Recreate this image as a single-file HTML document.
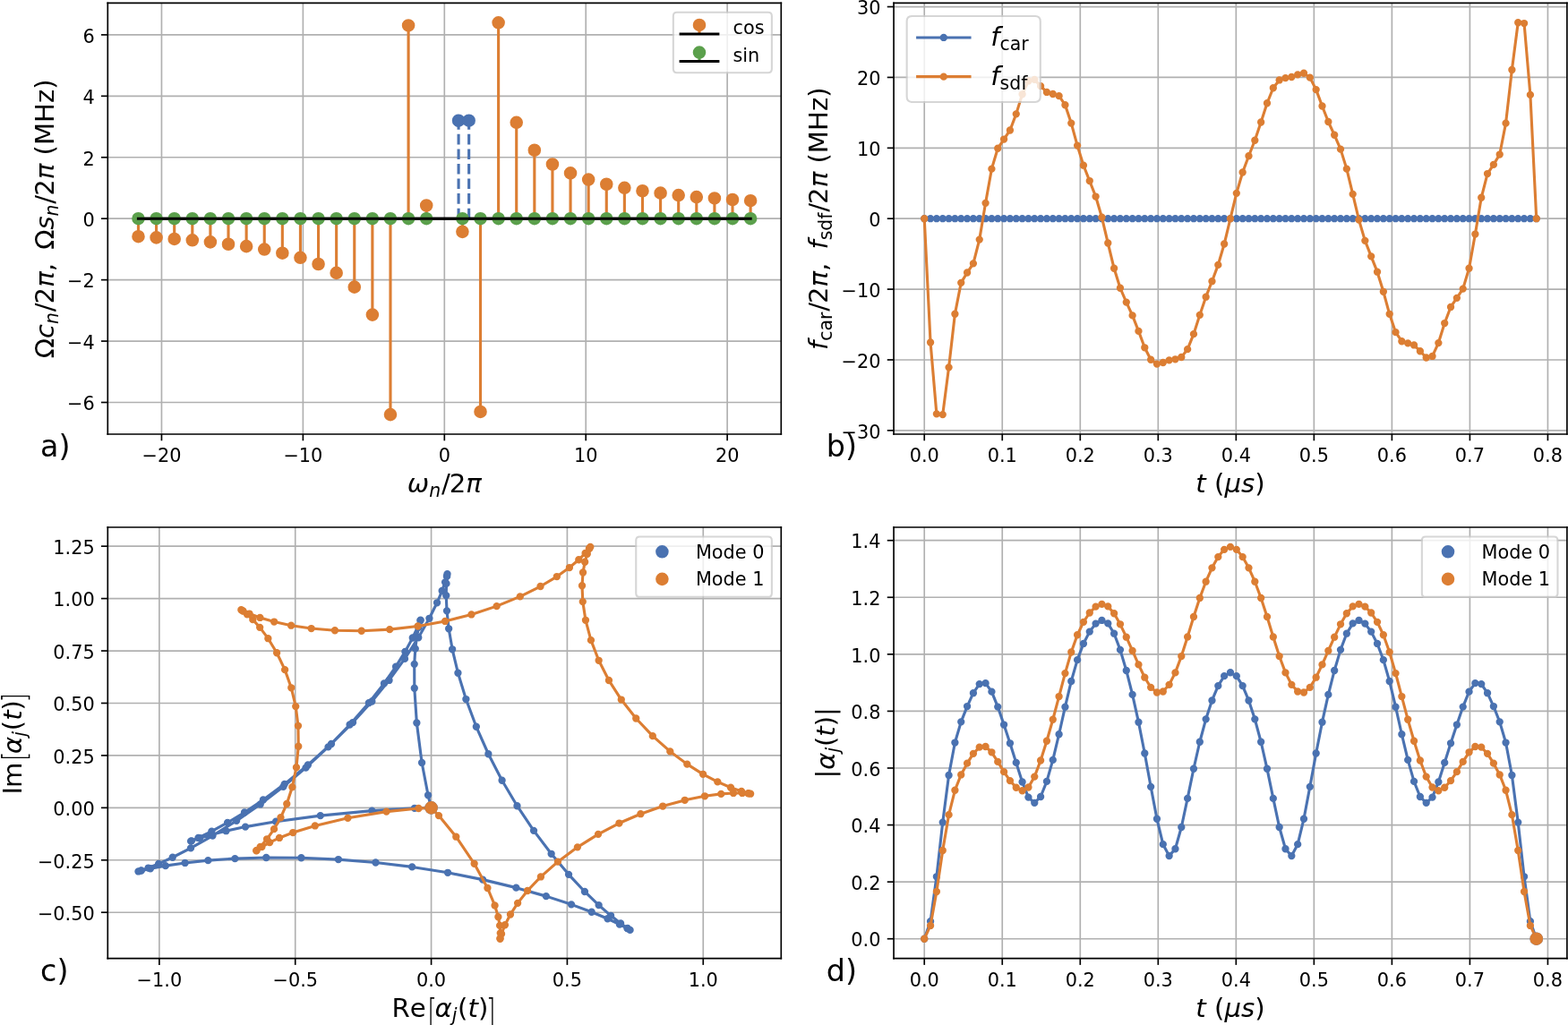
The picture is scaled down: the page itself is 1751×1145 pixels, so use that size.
<!DOCTYPE html>
<html><head><meta charset="utf-8"><title>figure</title>
<style>html,body{margin:0;padding:0;background:#fff;overflow:hidden}svg{display:block}</style>
</head><body>
<svg width="1751" height="1145" viewBox="0 0 840.48 549.6" version="1.1">
 
 <defs>
  <style type="text/css">*{stroke-linejoin: round; stroke-linecap: butt}</style>
 </defs>
 <g id="figure_1">
  <g id="patch_1">
   <path d="M 0 549.6 
L 840.48 549.6 
L 840.48 0 
L 0 0 
z
" style="fill: #ffffff"/>
  </g>
  <g id="axes_1">
   <g id="patch_2">
    <path d="M 57.744 232.8 
L 418.704 232.8 
L 418.704 1.632 
L 57.744 1.632 
z
" style="fill: #ffffff"/>
   </g>
   <g id="matplotlib.axis_1">
    <g id="xtick_1">
     <g id="line2d_1">
      <path d="M 86.621155 232.8 
L 86.621155 1.632 
" clip-path="url(#pc98c73546f)" style="fill: none; stroke: #b0b0b0; stroke-width: 0.8; stroke-linecap: square"/>
     </g>
     <g id="line2d_2">
      <defs>
       <path id="md7fca635d0" d="M 0 0 
L 0 3.5 
" style="stroke: #000000; stroke-width: 0.8"/>
      </defs>
      <g>
       <use href="#md7fca635d0" x="86.621155" y="232.8" style="stroke: #000000; stroke-width: 0.8"/>
      </g>
     </g>
     <g id="text_1" transform="translate(0 0.400)">
      <text style="font-size: 10px; font-family: 'DejaVu Sans', 'Liberation Sans', sans-serif; text-anchor: middle" x="86.621155" y="247.398438" transform="rotate(-0 86.621155 247.398438)">−20</text>
     </g>
    </g>
    <g id="xtick_2">
     <g id="line2d_3">
      <path d="M 162.422577 232.8 
L 162.422577 1.632 
" clip-path="url(#pc98c73546f)" style="fill: none; stroke: #b0b0b0; stroke-width: 0.8; stroke-linecap: square"/>
     </g>
     <g id="line2d_4">
      <g>
       <use href="#md7fca635d0" x="162.422577" y="232.8" style="stroke: #000000; stroke-width: 0.8"/>
      </g>
     </g>
     <g id="text_2" transform="translate(0 0.400)">
      <text style="font-size: 10px; font-family: 'DejaVu Sans', 'Liberation Sans', sans-serif; text-anchor: middle" x="162.422577" y="247.398438" transform="rotate(-0 162.422577 247.398438)">−10</text>
     </g>
    </g>
    <g id="xtick_3">
     <g id="line2d_5">
      <path d="M 238.224 232.8 
L 238.224 1.632 
" clip-path="url(#pc98c73546f)" style="fill: none; stroke: #b0b0b0; stroke-width: 0.8; stroke-linecap: square"/>
     </g>
     <g id="line2d_6">
      <g>
       <use href="#md7fca635d0" x="238.224" y="232.8" style="stroke: #000000; stroke-width: 0.8"/>
      </g>
     </g>
     <g id="text_3" transform="translate(0 0.400)">
      <text style="font-size: 10px; font-family: 'DejaVu Sans', 'Liberation Sans', sans-serif; text-anchor: middle" x="238.224" y="247.398438" transform="rotate(-0 238.224 247.398438)">0</text>
     </g>
    </g>
    <g id="xtick_4">
     <g id="line2d_7">
      <path d="M 314.025423 232.8 
L 314.025423 1.632 
" clip-path="url(#pc98c73546f)" style="fill: none; stroke: #b0b0b0; stroke-width: 0.8; stroke-linecap: square"/>
     </g>
     <g id="line2d_8">
      <g>
       <use href="#md7fca635d0" x="314.025423" y="232.8" style="stroke: #000000; stroke-width: 0.8"/>
      </g>
     </g>
     <g id="text_4" transform="translate(0 0.400)">
      <text style="font-size: 10px; font-family: 'DejaVu Sans', 'Liberation Sans', sans-serif; text-anchor: middle" x="314.025423" y="247.398438" transform="rotate(-0 314.025423 247.398438)">10</text>
     </g>
    </g>
    <g id="xtick_5">
     <g id="line2d_9">
      <path d="M 389.826845 232.8 
L 389.826845 1.632 
" clip-path="url(#pc98c73546f)" style="fill: none; stroke: #b0b0b0; stroke-width: 0.8; stroke-linecap: square"/>
     </g>
     <g id="line2d_10">
      <g>
       <use href="#md7fca635d0" x="389.826845" y="232.8" style="stroke: #000000; stroke-width: 0.8"/>
      </g>
     </g>
     <g id="text_5" transform="translate(0 0.400)">
      <text style="font-size: 10px; font-family: 'DejaVu Sans', 'Liberation Sans', sans-serif; text-anchor: middle" x="389.826845" y="247.398438" transform="rotate(-0 389.826845 247.398438)">20</text>
     </g>
    </g>
    <g id="text_6" transform="translate(0 0.400)">
     <!-- $\omega_n/2\pi$ -->
     <g transform="translate(218.274 264.115938)">
      <text>
       <tspan x="0" y="-0.609375" style="font-style: oblique; font-size: 14px; font-family: 'DejaVu Sans', 'Liberation Sans', sans-serif">ω</tspan>
       <tspan x="31.441602" y="-0.609375" style="font-style: oblique; font-size: 14px; font-family: 'DejaVu Sans', 'Liberation Sans', sans-serif">π</tspan>
       <tspan x="11.723633" y="1.6875" style="font-style: oblique; font-size: 9.8px; font-family: 'DejaVu Sans', 'Liberation Sans', sans-serif">n</tspan>
       <tspan x="18.317578" y="-0.609375" style="font-size: 14px; font-family: 'DejaVu Sans', 'Liberation Sans', sans-serif">/</tspan>
       <tspan x="22.534375" y="-0.609375" style="font-size: 14px; font-family: 'DejaVu Sans', 'Liberation Sans', sans-serif">2</tspan>
      </text>
     </g>
    </g>
   </g>
   <g id="matplotlib.axis_2">
    <g id="ytick_1">
     <g id="line2d_11">
      <path d="M 57.744 215.762816 
L 418.704 215.762816 
" clip-path="url(#pc98c73546f)" style="fill: none; stroke: #b0b0b0; stroke-width: 0.8; stroke-linecap: square"/>
     </g>
     <g id="line2d_12">
      <defs>
       <path id="m0c705e4a82" d="M 0 0 
L -3.5 0 
" style="stroke: #000000; stroke-width: 0.8"/>
      </defs>
      <g>
       <use href="#m0c705e4a82" x="57.744" y="215.762816" style="stroke: #000000; stroke-width: 0.8"/>
      </g>
     </g>
     <g id="text_7" transform="translate(0 0.400)">
      <text style="font-size: 10px; font-family: 'DejaVu Sans', 'Liberation Sans', sans-serif; text-anchor: end" x="50.744" y="219.562035" transform="rotate(-0 50.744 219.562035)">−6</text>
     </g>
    </g>
    <g id="ytick_2">
     <g id="line2d_13">
      <path d="M 57.744 182.913877 
L 418.704 182.913877 
" clip-path="url(#pc98c73546f)" style="fill: none; stroke: #b0b0b0; stroke-width: 0.8; stroke-linecap: square"/>
     </g>
     <g id="line2d_14">
      <g>
       <use href="#m0c705e4a82" x="57.744" y="182.913877" style="stroke: #000000; stroke-width: 0.8"/>
      </g>
     </g>
     <g id="text_8" transform="translate(0 0.400)">
      <text style="font-size: 10px; font-family: 'DejaVu Sans', 'Liberation Sans', sans-serif; text-anchor: end" x="50.744" y="186.713096" transform="rotate(-0 50.744 186.713096)">−4</text>
     </g>
    </g>
    <g id="ytick_3">
     <g id="line2d_15">
      <path d="M 57.744 150.064939 
L 418.704 150.064939 
" clip-path="url(#pc98c73546f)" style="fill: none; stroke: #b0b0b0; stroke-width: 0.8; stroke-linecap: square"/>
     </g>
     <g id="line2d_16">
      <g>
       <use href="#m0c705e4a82" x="57.744" y="150.064939" style="stroke: #000000; stroke-width: 0.8"/>
      </g>
     </g>
     <g id="text_9" transform="translate(0 0.400)">
      <text style="font-size: 10px; font-family: 'DejaVu Sans', 'Liberation Sans', sans-serif; text-anchor: end" x="50.744" y="153.864157" transform="rotate(-0 50.744 153.864157)">−2</text>
     </g>
    </g>
    <g id="ytick_4">
     <g id="line2d_17">
      <path d="M 57.744 117.216 
L 418.704 117.216 
" clip-path="url(#pc98c73546f)" style="fill: none; stroke: #b0b0b0; stroke-width: 0.8; stroke-linecap: square"/>
     </g>
     <g id="line2d_18">
      <g>
       <use href="#m0c705e4a82" x="57.744" y="117.216" style="stroke: #000000; stroke-width: 0.8"/>
      </g>
     </g>
     <g id="text_10" transform="translate(0 0.400)">
      <text style="font-size: 10px; font-family: 'DejaVu Sans', 'Liberation Sans', sans-serif; text-anchor: end" x="50.744" y="121.015219" transform="rotate(-0 50.744 121.015219)">0</text>
     </g>
    </g>
    <g id="ytick_5">
     <g id="line2d_19">
      <path d="M 57.744 84.367061 
L 418.704 84.367061 
" clip-path="url(#pc98c73546f)" style="fill: none; stroke: #b0b0b0; stroke-width: 0.8; stroke-linecap: square"/>
     </g>
     <g id="line2d_20">
      <g>
       <use href="#m0c705e4a82" x="57.744" y="84.367061" style="stroke: #000000; stroke-width: 0.8"/>
      </g>
     </g>
     <g id="text_11" transform="translate(0 0.400)">
      <text style="font-size: 10px; font-family: 'DejaVu Sans', 'Liberation Sans', sans-serif; text-anchor: end" x="50.744" y="88.16628" transform="rotate(-0 50.744 88.16628)">2</text>
     </g>
    </g>
    <g id="ytick_6">
     <g id="line2d_21">
      <path d="M 57.744 51.518123 
L 418.704 51.518123 
" clip-path="url(#pc98c73546f)" style="fill: none; stroke: #b0b0b0; stroke-width: 0.8; stroke-linecap: square"/>
     </g>
     <g id="line2d_22">
      <g>
       <use href="#m0c705e4a82" x="57.744" y="51.518123" style="stroke: #000000; stroke-width: 0.8"/>
      </g>
     </g>
     <g id="text_12" transform="translate(0 0.400)">
      <text style="font-size: 10px; font-family: 'DejaVu Sans', 'Liberation Sans', sans-serif; text-anchor: end" x="50.744" y="55.317342" transform="rotate(-0 50.744 55.317342)">4</text>
     </g>
    </g>
    <g id="ytick_7">
     <g id="line2d_23">
      <path d="M 57.744 18.669184 
L 418.704 18.669184 
" clip-path="url(#pc98c73546f)" style="fill: none; stroke: #b0b0b0; stroke-width: 0.8; stroke-linecap: square"/>
     </g>
     <g id="line2d_24">
      <g>
       <use href="#m0c705e4a82" x="57.744" y="18.669184" style="stroke: #000000; stroke-width: 0.8"/>
      </g>
     </g>
     <g id="text_13" transform="translate(0 0.400)">
      <text style="font-size: 10px; font-family: 'DejaVu Sans', 'Liberation Sans', sans-serif; text-anchor: end" x="50.744" y="22.468403" transform="rotate(-0 50.744 22.468403)">6</text>
     </g>
    </g>
    <g id="text_14">
     <!-- $\Omega c_n/2\pi,\ \Omega s_n/2\pi$ (MHz) -->
     <g transform="translate(29.09025 192.116) rotate(-90)">
      <text>
       <tspan x="0" y="-0.375" style="font-size: 14px; font-family: 'DejaVu Sans', 'Liberation Sans', sans-serif">Ω</tspan>
       <tspan x="24.989453" y="-0.375" style="font-size: 14px; font-family: 'DejaVu Sans', 'Liberation Sans', sans-serif">/</tspan>
       <tspan x="29.20625" y="-0.375" style="font-size: 14px; font-family: 'DejaVu Sans', 'Liberation Sans', sans-serif">2</tspan>
       <tspan x="46.542187" y="-0.375" style="font-size: 14px; font-family: 'DejaVu Sans', 'Liberation Sans', sans-serif">,</tspan>
       <tspan x="58.265775" y="-0.375" style="font-size: 14px; font-family: 'DejaVu Sans', 'Liberation Sans', sans-serif">Ω</tspan>
       <tspan x="82.851908" y="-0.375" style="font-size: 14px; font-family: 'DejaVu Sans', 'Liberation Sans', sans-serif">/</tspan>
       <tspan x="87.068705" y="-0.375" style="font-size: 14px; font-family: 'DejaVu Sans', 'Liberation Sans', sans-serif">2</tspan>
       <tspan x="104.404642" y="-0.375" style="font-size: 14px; font-family: 'DejaVu Sans', 'Liberation Sans', sans-serif"> </tspan>
       <tspan x="108.854837" y="-0.375" style="font-size: 14px; font-family: 'DejaVu Sans', 'Liberation Sans', sans-serif">(</tspan>
       <tspan x="114.316751" y="-0.375" style="font-size: 14px; font-family: 'DejaVu Sans', 'Liberation Sans', sans-serif">M</tspan>
       <tspan x="126.395853" y="-0.375" style="font-size: 14px; font-family: 'DejaVu Sans', 'Liberation Sans', sans-serif">H</tspan>
       <tspan x="136.923197" y="-0.375" style="font-size: 14px; font-family: 'DejaVu Sans', 'Liberation Sans', sans-serif">z</tspan>
       <tspan x="144.27183" y="-0.375" style="font-size: 14px; font-family: 'DejaVu Sans', 'Liberation Sans', sans-serif">)</tspan>
       <tspan x="10.698242" y="-0.375" style="font-style: oblique; font-size: 14px; font-family: 'DejaVu Sans', 'Liberation Sans', sans-serif">c</tspan>
       <tspan x="38.113477" y="-0.375" style="font-style: oblique; font-size: 14px; font-family: 'DejaVu Sans', 'Liberation Sans', sans-serif">π</tspan>
       <tspan x="68.964017" y="-0.375" style="font-style: oblique; font-size: 14px; font-family: 'DejaVu Sans', 'Liberation Sans', sans-serif">s</tspan>
       <tspan x="95.975931" y="-0.375" style="font-style: oblique; font-size: 14px; font-family: 'DejaVu Sans', 'Liberation Sans', sans-serif">π</tspan>
       <tspan x="18.395508" y="1.921875" style="font-style: oblique; font-size: 9.8px; font-family: 'DejaVu Sans', 'Liberation Sans', sans-serif">n</tspan>
       <tspan x="76.257962" y="1.921875" style="font-style: oblique; font-size: 9.8px; font-family: 'DejaVu Sans', 'Liberation Sans', sans-serif">n</tspan>
      </text>
     </g>
    </g>
   </g>
   <g id="LineCollection_1">
    <path d="M 74.151273 117.216 
L 74.151273 126.818566 
" clip-path="url(#pc98c73546f)" style="fill: none; stroke: #dc7e33; stroke-width: 1.5"/>
    <path d="M 83.80261 117.216 
L 83.80261 127.393094 
" clip-path="url(#pc98c73546f)" style="fill: none; stroke: #dc7e33; stroke-width: 1.5"/>
    <path d="M 93.453947 117.216 
L 93.453947 128.131867 
" clip-path="url(#pc98c73546f)" style="fill: none; stroke: #dc7e33; stroke-width: 1.5"/>
    <path d="M 103.105283 117.216 
L 103.105283 128.788353 
" clip-path="url(#pc98c73546f)" style="fill: none; stroke: #dc7e33; stroke-width: 1.5"/>
    <path d="M 112.75662 117.216 
L 112.75662 129.773164 
" clip-path="url(#pc98c73546f)" style="fill: none; stroke: #dc7e33; stroke-width: 1.5"/>
    <path d="M 122.407957 117.216 
L 122.407957 130.922384 
" clip-path="url(#pc98c73546f)" style="fill: none; stroke: #dc7e33; stroke-width: 1.5"/>
    <path d="M 132.059294 117.216 
L 132.059294 132.071276 
" clip-path="url(#pc98c73546f)" style="fill: none; stroke: #dc7e33; stroke-width: 1.5"/>
    <path d="M 141.710631 117.216 
L 141.710631 133.712737 
" clip-path="url(#pc98c73546f)" style="fill: none; stroke: #dc7e33; stroke-width: 1.5"/>
    <path d="M 151.361968 117.216 
L 151.361968 135.682524 
" clip-path="url(#pc98c73546f)" style="fill: none; stroke: #dc7e33; stroke-width: 1.5"/>
    <path d="M 161.013305 117.216 
L 161.013305 138.14488 
" clip-path="url(#pc98c73546f)" style="fill: none; stroke: #dc7e33; stroke-width: 1.5"/>
    <path d="M 170.664642 117.216 
L 170.664642 141.592048 
" clip-path="url(#pc98c73546f)" style="fill: none; stroke: #dc7e33; stroke-width: 1.5"/>
    <path d="M 180.315979 117.216 
L 180.315979 146.352516 
" clip-path="url(#pc98c73546f)" style="fill: none; stroke: #dc7e33; stroke-width: 1.5"/>
    <path d="M 189.967316 117.216 
L 189.967316 153.903994 
" clip-path="url(#pc98c73546f)" style="fill: none; stroke: #dc7e33; stroke-width: 1.5"/>
    <path d="M 199.618652 117.216 
L 199.618652 168.761733 
" clip-path="url(#pc98c73546f)" style="fill: none; stroke: #dc7e33; stroke-width: 1.5"/>
    <path d="M 209.269989 117.216 
L 209.269989 222.292364 
" clip-path="url(#pc98c73546f)" style="fill: none; stroke: #dc7e33; stroke-width: 1.5"/>
    <path d="M 218.921326 117.216 
L 218.921326 13.653151 
" clip-path="url(#pc98c73546f)" style="fill: none; stroke: #dc7e33; stroke-width: 1.5"/>
    <path d="M 228.572663 117.216 
L 228.572663 110.173845 
" clip-path="url(#pc98c73546f)" style="fill: none; stroke: #dc7e33; stroke-width: 1.5"/>
    <path d="M 247.875337 117.216 
L 247.875337 124.258155 
" clip-path="url(#pc98c73546f)" style="fill: none; stroke: #dc7e33; stroke-width: 1.5"/>
    <path d="M 257.526674 117.216 
L 257.526674 220.778849 
" clip-path="url(#pc98c73546f)" style="fill: none; stroke: #dc7e33; stroke-width: 1.5"/>
    <path d="M 267.178011 117.216 
L 267.178011 12.139636 
" clip-path="url(#pc98c73546f)" style="fill: none; stroke: #dc7e33; stroke-width: 1.5"/>
    <path d="M 276.829348 117.216 
L 276.829348 65.670267 
" clip-path="url(#pc98c73546f)" style="fill: none; stroke: #dc7e33; stroke-width: 1.5"/>
    <path d="M 286.480684 117.216 
L 286.480684 80.528006 
" clip-path="url(#pc98c73546f)" style="fill: none; stroke: #dc7e33; stroke-width: 1.5"/>
    <path d="M 296.132021 117.216 
L 296.132021 88.079484 
" clip-path="url(#pc98c73546f)" style="fill: none; stroke: #dc7e33; stroke-width: 1.5"/>
    <path d="M 305.783358 117.216 
L 305.783358 92.839952 
" clip-path="url(#pc98c73546f)" style="fill: none; stroke: #dc7e33; stroke-width: 1.5"/>
    <path d="M 315.434695 117.216 
L 315.434695 96.28712 
" clip-path="url(#pc98c73546f)" style="fill: none; stroke: #dc7e33; stroke-width: 1.5"/>
    <path d="M 325.086032 117.216 
L 325.086032 98.749476 
" clip-path="url(#pc98c73546f)" style="fill: none; stroke: #dc7e33; stroke-width: 1.5"/>
    <path d="M 334.737369 117.216 
L 334.737369 100.719263 
" clip-path="url(#pc98c73546f)" style="fill: none; stroke: #dc7e33; stroke-width: 1.5"/>
    <path d="M 344.388706 117.216 
L 344.388706 102.360724 
" clip-path="url(#pc98c73546f)" style="fill: none; stroke: #dc7e33; stroke-width: 1.5"/>
    <path d="M 354.040043 117.216 
L 354.040043 103.509616 
" clip-path="url(#pc98c73546f)" style="fill: none; stroke: #dc7e33; stroke-width: 1.5"/>
    <path d="M 363.69138 117.216 
L 363.69138 104.658836 
" clip-path="url(#pc98c73546f)" style="fill: none; stroke: #dc7e33; stroke-width: 1.5"/>
    <path d="M 373.342717 117.216 
L 373.342717 105.643647 
" clip-path="url(#pc98c73546f)" style="fill: none; stroke: #dc7e33; stroke-width: 1.5"/>
    <path d="M 382.994053 117.216 
L 382.994053 106.300133 
" clip-path="url(#pc98c73546f)" style="fill: none; stroke: #dc7e33; stroke-width: 1.5"/>
    <path d="M 392.64539 117.216 
L 392.64539 107.038906 
" clip-path="url(#pc98c73546f)" style="fill: none; stroke: #dc7e33; stroke-width: 1.5"/>
    <path d="M 402.296727 117.216 
L 402.296727 107.613434 
" clip-path="url(#pc98c73546f)" style="fill: none; stroke: #dc7e33; stroke-width: 1.5"/>
   </g>
   <g id="line2d_25">
    <defs>
     <path id="m871f10cff2" d="M 0 3 
C 0.795609 3 1.55874 2.683901 2.12132 2.12132 
C 2.683901 1.55874 3 0.795609 3 0 
C 3 -0.795609 2.683901 -1.55874 2.12132 -2.12132 
C 1.55874 -2.683901 0.795609 -3 0 -3 
C -0.795609 -3 -1.55874 -2.683901 -2.12132 -2.12132 
C -2.683901 -1.55874 -3 -0.795609 -3 0 
C -3 0.795609 -2.683901 1.55874 -2.12132 2.12132 
C -1.55874 2.683901 -0.795609 3 0 3 
z
" style="stroke: #dc7e33"/>
    </defs>
    <g clip-path="url(#pc98c73546f)">
     <use href="#m871f10cff2" x="74.151273" y="126.818566" style="fill: #dc7e33; stroke: #dc7e33"/>
     <use href="#m871f10cff2" x="83.80261" y="127.393094" style="fill: #dc7e33; stroke: #dc7e33"/>
     <use href="#m871f10cff2" x="93.453947" y="128.131867" style="fill: #dc7e33; stroke: #dc7e33"/>
     <use href="#m871f10cff2" x="103.105283" y="128.788353" style="fill: #dc7e33; stroke: #dc7e33"/>
     <use href="#m871f10cff2" x="112.75662" y="129.773164" style="fill: #dc7e33; stroke: #dc7e33"/>
     <use href="#m871f10cff2" x="122.407957" y="130.922384" style="fill: #dc7e33; stroke: #dc7e33"/>
     <use href="#m871f10cff2" x="132.059294" y="132.071276" style="fill: #dc7e33; stroke: #dc7e33"/>
     <use href="#m871f10cff2" x="141.710631" y="133.712737" style="fill: #dc7e33; stroke: #dc7e33"/>
     <use href="#m871f10cff2" x="151.361968" y="135.682524" style="fill: #dc7e33; stroke: #dc7e33"/>
     <use href="#m871f10cff2" x="161.013305" y="138.14488" style="fill: #dc7e33; stroke: #dc7e33"/>
     <use href="#m871f10cff2" x="170.664642" y="141.592048" style="fill: #dc7e33; stroke: #dc7e33"/>
     <use href="#m871f10cff2" x="180.315979" y="146.352516" style="fill: #dc7e33; stroke: #dc7e33"/>
     <use href="#m871f10cff2" x="189.967316" y="153.903994" style="fill: #dc7e33; stroke: #dc7e33"/>
     <use href="#m871f10cff2" x="199.618652" y="168.761733" style="fill: #dc7e33; stroke: #dc7e33"/>
     <use href="#m871f10cff2" x="209.269989" y="222.292364" style="fill: #dc7e33; stroke: #dc7e33"/>
     <use href="#m871f10cff2" x="218.921326" y="13.653151" style="fill: #dc7e33; stroke: #dc7e33"/>
     <use href="#m871f10cff2" x="228.572663" y="110.173845" style="fill: #dc7e33; stroke: #dc7e33"/>
     <use href="#m871f10cff2" x="247.875337" y="124.258155" style="fill: #dc7e33; stroke: #dc7e33"/>
     <use href="#m871f10cff2" x="257.526674" y="220.778849" style="fill: #dc7e33; stroke: #dc7e33"/>
     <use href="#m871f10cff2" x="267.178011" y="12.139636" style="fill: #dc7e33; stroke: #dc7e33"/>
     <use href="#m871f10cff2" x="276.829348" y="65.670267" style="fill: #dc7e33; stroke: #dc7e33"/>
     <use href="#m871f10cff2" x="286.480684" y="80.528006" style="fill: #dc7e33; stroke: #dc7e33"/>
     <use href="#m871f10cff2" x="296.132021" y="88.079484" style="fill: #dc7e33; stroke: #dc7e33"/>
     <use href="#m871f10cff2" x="305.783358" y="92.839952" style="fill: #dc7e33; stroke: #dc7e33"/>
     <use href="#m871f10cff2" x="315.434695" y="96.28712" style="fill: #dc7e33; stroke: #dc7e33"/>
     <use href="#m871f10cff2" x="325.086032" y="98.749476" style="fill: #dc7e33; stroke: #dc7e33"/>
     <use href="#m871f10cff2" x="334.737369" y="100.719263" style="fill: #dc7e33; stroke: #dc7e33"/>
     <use href="#m871f10cff2" x="344.388706" y="102.360724" style="fill: #dc7e33; stroke: #dc7e33"/>
     <use href="#m871f10cff2" x="354.040043" y="103.509616" style="fill: #dc7e33; stroke: #dc7e33"/>
     <use href="#m871f10cff2" x="363.69138" y="104.658836" style="fill: #dc7e33; stroke: #dc7e33"/>
     <use href="#m871f10cff2" x="373.342717" y="105.643647" style="fill: #dc7e33; stroke: #dc7e33"/>
     <use href="#m871f10cff2" x="382.994053" y="106.300133" style="fill: #dc7e33; stroke: #dc7e33"/>
     <use href="#m871f10cff2" x="392.64539" y="107.038906" style="fill: #dc7e33; stroke: #dc7e33"/>
     <use href="#m871f10cff2" x="402.296727" y="107.613434" style="fill: #dc7e33; stroke: #dc7e33"/>
    </g>
   </g>
   <g id="line2d_26">
    <path d="M 74.151273 117.216 
L 402.296727 117.216 
" clip-path="url(#pc98c73546f)" style="fill: none; stroke: #000000; stroke-width: 1.5; stroke-linecap: square"/>
   </g>
   <g id="LineCollection_2">
    <path d="M 245.804142 117.216 
L 245.804142 64.657698 
" clip-path="url(#pc98c73546f)" style="fill: none; stroke-dasharray: 5.55,2.4; stroke-dashoffset: 0; stroke: #4a72b1; stroke-width: 1.5"/>
    <path d="M 251.353192 117.216 
L 251.353192 64.657698 
" clip-path="url(#pc98c73546f)" style="fill: none; stroke-dasharray: 5.55,2.4; stroke-dashoffset: 0; stroke: #4a72b1; stroke-width: 1.5"/>
   </g>
   <g id="line2d_27">
    <defs>
     <path id="md295d653ba" d="M 0 3 
C 0.795609 3 1.55874 2.683901 2.12132 2.12132 
C 2.683901 1.55874 3 0.795609 3 0 
C 3 -0.795609 2.683901 -1.55874 2.12132 -2.12132 
C 1.55874 -2.683901 0.795609 -3 0 -3 
C -0.795609 -3 -1.55874 -2.683901 -2.12132 -2.12132 
C -2.683901 -1.55874 -3 -0.795609 -3 0 
C -3 0.795609 -2.683901 1.55874 -2.12132 2.12132 
C -1.55874 2.683901 -0.795609 3 0 3 
z
" style="stroke: #4a72b1"/>
    </defs>
    <g clip-path="url(#pc98c73546f)">
     <use href="#md295d653ba" x="245.804142" y="64.657698" style="fill: #4a72b1; stroke: #4a72b1"/>
     <use href="#md295d653ba" x="251.353192" y="64.657698" style="fill: #4a72b1; stroke: #4a72b1"/>
    </g>
   </g>
   <g id="line2d_28">
    <path d="M 245.804142 117.216 
L 251.353192 117.216 
" clip-path="url(#pc98c73546f)" style="fill: none; stroke: #000000; stroke-width: 1.5; stroke-linecap: square"/>
   </g>
   <g id="LineCollection_3">
    <path d="M 74.151273 117.216 
L 74.151273 117.216 
" clip-path="url(#pc98c73546f)" style="fill: none; stroke: #5ba04c; stroke-width: 1.5"/>
    <path d="M 83.80261 117.216 
L 83.80261 117.216 
" clip-path="url(#pc98c73546f)" style="fill: none; stroke: #5ba04c; stroke-width: 1.5"/>
    <path d="M 93.453947 117.216 
L 93.453947 117.216 
" clip-path="url(#pc98c73546f)" style="fill: none; stroke: #5ba04c; stroke-width: 1.5"/>
    <path d="M 103.105283 117.216 
L 103.105283 117.216 
" clip-path="url(#pc98c73546f)" style="fill: none; stroke: #5ba04c; stroke-width: 1.5"/>
    <path d="M 112.75662 117.216 
L 112.75662 117.216 
" clip-path="url(#pc98c73546f)" style="fill: none; stroke: #5ba04c; stroke-width: 1.5"/>
    <path d="M 122.407957 117.216 
L 122.407957 117.216 
" clip-path="url(#pc98c73546f)" style="fill: none; stroke: #5ba04c; stroke-width: 1.5"/>
    <path d="M 132.059294 117.216 
L 132.059294 117.216 
" clip-path="url(#pc98c73546f)" style="fill: none; stroke: #5ba04c; stroke-width: 1.5"/>
    <path d="M 141.710631 117.216 
L 141.710631 117.216 
" clip-path="url(#pc98c73546f)" style="fill: none; stroke: #5ba04c; stroke-width: 1.5"/>
    <path d="M 151.361968 117.216 
L 151.361968 117.216 
" clip-path="url(#pc98c73546f)" style="fill: none; stroke: #5ba04c; stroke-width: 1.5"/>
    <path d="M 161.013305 117.216 
L 161.013305 117.216 
" clip-path="url(#pc98c73546f)" style="fill: none; stroke: #5ba04c; stroke-width: 1.5"/>
    <path d="M 170.664642 117.216 
L 170.664642 117.216 
" clip-path="url(#pc98c73546f)" style="fill: none; stroke: #5ba04c; stroke-width: 1.5"/>
    <path d="M 180.315979 117.216 
L 180.315979 117.216 
" clip-path="url(#pc98c73546f)" style="fill: none; stroke: #5ba04c; stroke-width: 1.5"/>
    <path d="M 189.967316 117.216 
L 189.967316 117.216 
" clip-path="url(#pc98c73546f)" style="fill: none; stroke: #5ba04c; stroke-width: 1.5"/>
    <path d="M 199.618652 117.216 
L 199.618652 117.216 
" clip-path="url(#pc98c73546f)" style="fill: none; stroke: #5ba04c; stroke-width: 1.5"/>
    <path d="M 209.269989 117.216 
L 209.269989 117.216 
" clip-path="url(#pc98c73546f)" style="fill: none; stroke: #5ba04c; stroke-width: 1.5"/>
    <path d="M 218.921326 117.216 
L 218.921326 117.216 
" clip-path="url(#pc98c73546f)" style="fill: none; stroke: #5ba04c; stroke-width: 1.5"/>
    <path d="M 228.572663 117.216 
L 228.572663 117.216 
" clip-path="url(#pc98c73546f)" style="fill: none; stroke: #5ba04c; stroke-width: 1.5"/>
    <path d="M 247.875337 117.216 
L 247.875337 117.216 
" clip-path="url(#pc98c73546f)" style="fill: none; stroke: #5ba04c; stroke-width: 1.5"/>
    <path d="M 257.526674 117.216 
L 257.526674 117.216 
" clip-path="url(#pc98c73546f)" style="fill: none; stroke: #5ba04c; stroke-width: 1.5"/>
    <path d="M 267.178011 117.216 
L 267.178011 117.216 
" clip-path="url(#pc98c73546f)" style="fill: none; stroke: #5ba04c; stroke-width: 1.5"/>
    <path d="M 276.829348 117.216 
L 276.829348 117.216 
" clip-path="url(#pc98c73546f)" style="fill: none; stroke: #5ba04c; stroke-width: 1.5"/>
    <path d="M 286.480684 117.216 
L 286.480684 117.216 
" clip-path="url(#pc98c73546f)" style="fill: none; stroke: #5ba04c; stroke-width: 1.5"/>
    <path d="M 296.132021 117.216 
L 296.132021 117.216 
" clip-path="url(#pc98c73546f)" style="fill: none; stroke: #5ba04c; stroke-width: 1.5"/>
    <path d="M 305.783358 117.216 
L 305.783358 117.216 
" clip-path="url(#pc98c73546f)" style="fill: none; stroke: #5ba04c; stroke-width: 1.5"/>
    <path d="M 315.434695 117.216 
L 315.434695 117.216 
" clip-path="url(#pc98c73546f)" style="fill: none; stroke: #5ba04c; stroke-width: 1.5"/>
    <path d="M 325.086032 117.216 
L 325.086032 117.216 
" clip-path="url(#pc98c73546f)" style="fill: none; stroke: #5ba04c; stroke-width: 1.5"/>
    <path d="M 334.737369 117.216 
L 334.737369 117.216 
" clip-path="url(#pc98c73546f)" style="fill: none; stroke: #5ba04c; stroke-width: 1.5"/>
    <path d="M 344.388706 117.216 
L 344.388706 117.216 
" clip-path="url(#pc98c73546f)" style="fill: none; stroke: #5ba04c; stroke-width: 1.5"/>
    <path d="M 354.040043 117.216 
L 354.040043 117.216 
" clip-path="url(#pc98c73546f)" style="fill: none; stroke: #5ba04c; stroke-width: 1.5"/>
    <path d="M 363.69138 117.216 
L 363.69138 117.216 
" clip-path="url(#pc98c73546f)" style="fill: none; stroke: #5ba04c; stroke-width: 1.5"/>
    <path d="M 373.342717 117.216 
L 373.342717 117.216 
" clip-path="url(#pc98c73546f)" style="fill: none; stroke: #5ba04c; stroke-width: 1.5"/>
    <path d="M 382.994053 117.216 
L 382.994053 117.216 
" clip-path="url(#pc98c73546f)" style="fill: none; stroke: #5ba04c; stroke-width: 1.5"/>
    <path d="M 392.64539 117.216 
L 392.64539 117.216 
" clip-path="url(#pc98c73546f)" style="fill: none; stroke: #5ba04c; stroke-width: 1.5"/>
    <path d="M 402.296727 117.216 
L 402.296727 117.216 
" clip-path="url(#pc98c73546f)" style="fill: none; stroke: #5ba04c; stroke-width: 1.5"/>
   </g>
   <g id="line2d_29">
    <defs>
     <path id="md26b042535" d="M 0 3 
C 0.795609 3 1.55874 2.683901 2.12132 2.12132 
C 2.683901 1.55874 3 0.795609 3 0 
C 3 -0.795609 2.683901 -1.55874 2.12132 -2.12132 
C 1.55874 -2.683901 0.795609 -3 0 -3 
C -0.795609 -3 -1.55874 -2.683901 -2.12132 -2.12132 
C -2.683901 -1.55874 -3 -0.795609 -3 0 
C -3 0.795609 -2.683901 1.55874 -2.12132 2.12132 
C -1.55874 2.683901 -0.795609 3 0 3 
z
" style="stroke: #5ba04c"/>
    </defs>
    <g clip-path="url(#pc98c73546f)">
     <use href="#md26b042535" x="74.151273" y="117.216" style="fill: #5ba04c; stroke: #5ba04c"/>
     <use href="#md26b042535" x="83.80261" y="117.216" style="fill: #5ba04c; stroke: #5ba04c"/>
     <use href="#md26b042535" x="93.453947" y="117.216" style="fill: #5ba04c; stroke: #5ba04c"/>
     <use href="#md26b042535" x="103.105283" y="117.216" style="fill: #5ba04c; stroke: #5ba04c"/>
     <use href="#md26b042535" x="112.75662" y="117.216" style="fill: #5ba04c; stroke: #5ba04c"/>
     <use href="#md26b042535" x="122.407957" y="117.216" style="fill: #5ba04c; stroke: #5ba04c"/>
     <use href="#md26b042535" x="132.059294" y="117.216" style="fill: #5ba04c; stroke: #5ba04c"/>
     <use href="#md26b042535" x="141.710631" y="117.216" style="fill: #5ba04c; stroke: #5ba04c"/>
     <use href="#md26b042535" x="151.361968" y="117.216" style="fill: #5ba04c; stroke: #5ba04c"/>
     <use href="#md26b042535" x="161.013305" y="117.216" style="fill: #5ba04c; stroke: #5ba04c"/>
     <use href="#md26b042535" x="170.664642" y="117.216" style="fill: #5ba04c; stroke: #5ba04c"/>
     <use href="#md26b042535" x="180.315979" y="117.216" style="fill: #5ba04c; stroke: #5ba04c"/>
     <use href="#md26b042535" x="189.967316" y="117.216" style="fill: #5ba04c; stroke: #5ba04c"/>
     <use href="#md26b042535" x="199.618652" y="117.216" style="fill: #5ba04c; stroke: #5ba04c"/>
     <use href="#md26b042535" x="209.269989" y="117.216" style="fill: #5ba04c; stroke: #5ba04c"/>
     <use href="#md26b042535" x="218.921326" y="117.216" style="fill: #5ba04c; stroke: #5ba04c"/>
     <use href="#md26b042535" x="228.572663" y="117.216" style="fill: #5ba04c; stroke: #5ba04c"/>
     <use href="#md26b042535" x="247.875337" y="117.216" style="fill: #5ba04c; stroke: #5ba04c"/>
     <use href="#md26b042535" x="257.526674" y="117.216" style="fill: #5ba04c; stroke: #5ba04c"/>
     <use href="#md26b042535" x="267.178011" y="117.216" style="fill: #5ba04c; stroke: #5ba04c"/>
     <use href="#md26b042535" x="276.829348" y="117.216" style="fill: #5ba04c; stroke: #5ba04c"/>
     <use href="#md26b042535" x="286.480684" y="117.216" style="fill: #5ba04c; stroke: #5ba04c"/>
     <use href="#md26b042535" x="296.132021" y="117.216" style="fill: #5ba04c; stroke: #5ba04c"/>
     <use href="#md26b042535" x="305.783358" y="117.216" style="fill: #5ba04c; stroke: #5ba04c"/>
     <use href="#md26b042535" x="315.434695" y="117.216" style="fill: #5ba04c; stroke: #5ba04c"/>
     <use href="#md26b042535" x="325.086032" y="117.216" style="fill: #5ba04c; stroke: #5ba04c"/>
     <use href="#md26b042535" x="334.737369" y="117.216" style="fill: #5ba04c; stroke: #5ba04c"/>
     <use href="#md26b042535" x="344.388706" y="117.216" style="fill: #5ba04c; stroke: #5ba04c"/>
     <use href="#md26b042535" x="354.040043" y="117.216" style="fill: #5ba04c; stroke: #5ba04c"/>
     <use href="#md26b042535" x="363.69138" y="117.216" style="fill: #5ba04c; stroke: #5ba04c"/>
     <use href="#md26b042535" x="373.342717" y="117.216" style="fill: #5ba04c; stroke: #5ba04c"/>
     <use href="#md26b042535" x="382.994053" y="117.216" style="fill: #5ba04c; stroke: #5ba04c"/>
     <use href="#md26b042535" x="392.64539" y="117.216" style="fill: #5ba04c; stroke: #5ba04c"/>
     <use href="#md26b042535" x="402.296727" y="117.216" style="fill: #5ba04c; stroke: #5ba04c"/>
    </g>
   </g>
   <g id="line2d_30">
    <path d="M 74.151273 117.216 
L 402.296727 117.216 
" clip-path="url(#pc98c73546f)" style="fill: none; stroke: #000000; stroke-width: 1.5; stroke-linecap: square"/>
   </g>
   <g id="patch_3">
    <path d="M 57.744 232.8 
L 57.744 1.632 
" style="fill: none; stroke: #000000; stroke-width: 0.8; stroke-linejoin: miter; stroke-linecap: square"/>
   </g>
   <g id="patch_4">
    <path d="M 418.704 232.8 
L 418.704 1.632 
" style="fill: none; stroke: #000000; stroke-width: 0.8; stroke-linejoin: miter; stroke-linecap: square"/>
   </g>
   <g id="patch_5">
    <path d="M 57.744 232.8 
L 418.704 232.8 
" style="fill: none; stroke: #000000; stroke-width: 0.8; stroke-linejoin: miter; stroke-linecap: square"/>
   </g>
   <g id="patch_6">
    <path d="M 57.744 1.632 
L 418.704 1.632 
" style="fill: none; stroke: #000000; stroke-width: 0.8; stroke-linejoin: miter; stroke-linecap: square"/>
   </g>
   <g id="text_15" transform="translate(0 0.400)">
    <text style="font-size: 16px; font-family: 'DejaVu Sans', 'Liberation Sans', sans-serif; text-anchor: start" x="21.648" y="244.3584" transform="rotate(-0 21.648 244.3584)">a)</text>
   </g>
   <g id="legend_1">
    <g id="patch_7">
     <path d="M 362.877438 38.98825 
L 411.704 38.98825 
Q 413.704 38.98825 413.704 36.98825 
L 413.704 8.632 
Q 413.704 6.632 411.704 6.632 
L 362.877438 6.632 
Q 360.877438 6.632 360.877438 8.632 
L 360.877438 36.98825 
Q 360.877438 38.98825 362.877438 38.98825 
z
" style="fill: #ffffff; opacity: 0.8; stroke: #cccccc; stroke-linejoin: miter"/>
    </g>
    <g id="line2d_31">
     <path d="M 374.877438 18.230437 
L 374.877438 13.417937 
" style="fill: none; stroke: #dc7e33; stroke-width: 1.5"/>
    </g>
    <g id="line2d_32">
     <path d="M 364.877438 18.230437 
L 384.877438 18.230437 
" style="fill: none; stroke: #000000; stroke-width: 1.5; stroke-linecap: square"/>
    </g>
    <g id="line2d_33">
     <g>
      <use href="#m871f10cff2" x="374.877438" y="13.417937" style="fill: #dc7e33; stroke: #dc7e33"/>
     </g>
    </g>
    <g id="text_16">
     <text style="font-size: 10px; font-family: 'DejaVu Sans', 'Liberation Sans', sans-serif; text-anchor: start" x="392.877438" y="18.230437" transform="rotate(-0 392.877438 18.230437)">cos</text>
    </g>
    <g id="line2d_34">
     <path d="M 374.877438 32.908563 
L 374.877438 28.096063 
" style="fill: none; stroke: #5ba04c; stroke-width: 1.5"/>
    </g>
    <g id="line2d_35">
     <path d="M 364.877438 32.908563 
L 384.877438 32.908563 
" style="fill: none; stroke: #000000; stroke-width: 1.5; stroke-linecap: square"/>
    </g>
    <g id="line2d_36">
     <g>
      <use href="#md26b042535" x="374.877438" y="28.096063" style="fill: #5ba04c; stroke: #5ba04c"/>
     </g>
    </g>
    <g id="text_17">
     <text style="font-size: 10px; font-family: 'DejaVu Sans', 'Liberation Sans', sans-serif; text-anchor: start" x="392.877438" y="32.908563" transform="rotate(-0 392.877438 32.908563)">sin</text>
    </g>
   </g>
  </g>
  <g id="axes_2">
   <g id="patch_8">
    <path d="M 479.064 232.8 
L 839.952 232.8 
L 839.952 1.632 
L 479.064 1.632 
z
" style="fill: #ffffff"/>
   </g>
   <g id="matplotlib.axis_3">
    <g id="xtick_6">
     <g id="line2d_37">
      <path d="M 495.468 232.8 
L 495.468 1.632 
" clip-path="url(#pc8b9ed1a81)" style="fill: none; stroke: #b0b0b0; stroke-width: 0.8; stroke-linecap: square"/>
     </g>
     <g id="line2d_38">
      <g>
       <use href="#md7fca635d0" x="495.468" y="232.8" style="stroke: #000000; stroke-width: 0.8"/>
      </g>
     </g>
     <g id="text_18" transform="translate(0 0.400)">
      <text style="font-size: 10px; font-family: 'DejaVu Sans', 'Liberation Sans', sans-serif; text-anchor: middle" x="495.468" y="247.398438" transform="rotate(-0 495.468 247.398438)">0.0</text>
     </g>
    </g>
    <g id="xtick_7">
     <g id="line2d_39">
      <path d="M 537.240443 232.8 
L 537.240443 1.632 
" clip-path="url(#pc8b9ed1a81)" style="fill: none; stroke: #b0b0b0; stroke-width: 0.8; stroke-linecap: square"/>
     </g>
     <g id="line2d_40">
      <g>
       <use href="#md7fca635d0" x="537.240443" y="232.8" style="stroke: #000000; stroke-width: 0.8"/>
      </g>
     </g>
     <g id="text_19" transform="translate(0 0.400)">
      <text style="font-size: 10px; font-family: 'DejaVu Sans', 'Liberation Sans', sans-serif; text-anchor: middle" x="537.240443" y="247.398438" transform="rotate(-0 537.240443 247.398438)">0.1</text>
     </g>
    </g>
    <g id="xtick_8">
     <g id="line2d_41">
      <path d="M 579.012886 232.8 
L 579.012886 1.632 
" clip-path="url(#pc8b9ed1a81)" style="fill: none; stroke: #b0b0b0; stroke-width: 0.8; stroke-linecap: square"/>
     </g>
     <g id="line2d_42">
      <g>
       <use href="#md7fca635d0" x="579.012886" y="232.8" style="stroke: #000000; stroke-width: 0.8"/>
      </g>
     </g>
     <g id="text_20" transform="translate(0 0.400)">
      <text style="font-size: 10px; font-family: 'DejaVu Sans', 'Liberation Sans', sans-serif; text-anchor: middle" x="579.012886" y="247.398438" transform="rotate(-0 579.012886 247.398438)">0.2</text>
     </g>
    </g>
    <g id="xtick_9">
     <g id="line2d_43">
      <path d="M 620.785329 232.8 
L 620.785329 1.632 
" clip-path="url(#pc8b9ed1a81)" style="fill: none; stroke: #b0b0b0; stroke-width: 0.8; stroke-linecap: square"/>
     </g>
     <g id="line2d_44">
      <g>
       <use href="#md7fca635d0" x="620.785329" y="232.8" style="stroke: #000000; stroke-width: 0.8"/>
      </g>
     </g>
     <g id="text_21" transform="translate(0 0.400)">
      <text style="font-size: 10px; font-family: 'DejaVu Sans', 'Liberation Sans', sans-serif; text-anchor: middle" x="620.785329" y="247.398438" transform="rotate(-0 620.785329 247.398438)">0.3</text>
     </g>
    </g>
    <g id="xtick_10">
     <g id="line2d_45">
      <path d="M 662.557772 232.8 
L 662.557772 1.632 
" clip-path="url(#pc8b9ed1a81)" style="fill: none; stroke: #b0b0b0; stroke-width: 0.8; stroke-linecap: square"/>
     </g>
     <g id="line2d_46">
      <g>
       <use href="#md7fca635d0" x="662.557772" y="232.8" style="stroke: #000000; stroke-width: 0.8"/>
      </g>
     </g>
     <g id="text_22" transform="translate(0 0.400)">
      <text style="font-size: 10px; font-family: 'DejaVu Sans', 'Liberation Sans', sans-serif; text-anchor: middle" x="662.557772" y="247.398438" transform="rotate(-0 662.557772 247.398438)">0.4</text>
     </g>
    </g>
    <g id="xtick_11">
     <g id="line2d_47">
      <path d="M 704.330215 232.8 
L 704.330215 1.632 
" clip-path="url(#pc8b9ed1a81)" style="fill: none; stroke: #b0b0b0; stroke-width: 0.8; stroke-linecap: square"/>
     </g>
     <g id="line2d_48">
      <g>
       <use href="#md7fca635d0" x="704.330215" y="232.8" style="stroke: #000000; stroke-width: 0.8"/>
      </g>
     </g>
     <g id="text_23" transform="translate(0 0.400)">
      <text style="font-size: 10px; font-family: 'DejaVu Sans', 'Liberation Sans', sans-serif; text-anchor: middle" x="704.330215" y="247.398438" transform="rotate(-0 704.330215 247.398438)">0.5</text>
     </g>
    </g>
    <g id="xtick_12">
     <g id="line2d_49">
      <path d="M 746.102658 232.8 
L 746.102658 1.632 
" clip-path="url(#pc8b9ed1a81)" style="fill: none; stroke: #b0b0b0; stroke-width: 0.8; stroke-linecap: square"/>
     </g>
     <g id="line2d_50">
      <g>
       <use href="#md7fca635d0" x="746.102658" y="232.8" style="stroke: #000000; stroke-width: 0.8"/>
      </g>
     </g>
     <g id="text_24" transform="translate(0 0.400)">
      <text style="font-size: 10px; font-family: 'DejaVu Sans', 'Liberation Sans', sans-serif; text-anchor: middle" x="746.102658" y="247.398438" transform="rotate(-0 746.102658 247.398438)">0.6</text>
     </g>
    </g>
    <g id="xtick_13">
     <g id="line2d_51">
      <path d="M 787.875101 232.8 
L 787.875101 1.632 
" clip-path="url(#pc8b9ed1a81)" style="fill: none; stroke: #b0b0b0; stroke-width: 0.8; stroke-linecap: square"/>
     </g>
     <g id="line2d_52">
      <g>
       <use href="#md7fca635d0" x="787.875101" y="232.8" style="stroke: #000000; stroke-width: 0.8"/>
      </g>
     </g>
     <g id="text_25" transform="translate(0 0.400)">
      <text style="font-size: 10px; font-family: 'DejaVu Sans', 'Liberation Sans', sans-serif; text-anchor: middle" x="787.875101" y="247.398438" transform="rotate(-0 787.875101 247.398438)">0.7</text>
     </g>
    </g>
    <g id="xtick_14">
     <g id="line2d_53">
      <path d="M 829.647544 232.8 
L 829.647544 1.632 
" clip-path="url(#pc8b9ed1a81)" style="fill: none; stroke: #b0b0b0; stroke-width: 0.8; stroke-linecap: square"/>
     </g>
     <g id="line2d_54">
      <g>
       <use href="#md7fca635d0" x="829.647544" y="232.8" style="stroke: #000000; stroke-width: 0.8"/>
      </g>
     </g>
     <g id="text_26" transform="translate(0 0.400)">
      <text style="font-size: 10px; font-family: 'DejaVu Sans', 'Liberation Sans', sans-serif; text-anchor: middle" x="829.647544" y="247.398438" transform="rotate(-0 829.647544 247.398438)">0.8</text>
     </g>
    </g>
    <g id="text_27" transform="translate(0 0.400)">
     <!-- $t\ (\mu s)$ -->
     <g transform="translate(640.888 264.118125)">
      <text>
       <tspan x="0" y="-0.375" style="font-style: oblique; font-size: 14px; font-family: 'DejaVu Sans', 'Liberation Sans', sans-serif">t</tspan>
       <tspan x="15.497025" y="-0.375" style="font-style: oblique; font-size: 14px; font-family: 'DejaVu Sans', 'Liberation Sans', sans-serif">μ</tspan>
       <tspan x="24.404251" y="-0.375" style="font-style: oblique; font-size: 14px; font-family: 'DejaVu Sans', 'Liberation Sans', sans-serif">s</tspan>
       <tspan x="10.035111" y="-0.375" style="font-size: 14px; font-family: 'DejaVu Sans', 'Liberation Sans', sans-serif">(</tspan>
       <tspan x="31.698197" y="-0.375" style="font-size: 14px; font-family: 'DejaVu Sans', 'Liberation Sans', sans-serif">)</tspan>
      </text>
     </g>
    </g>
   </g>
   <g id="matplotlib.axis_4">
    <g id="ytick_8">
     <g id="line2d_55">
      <path d="M 479.064 230.806272 
L 839.952 230.806272 
" clip-path="url(#pc8b9ed1a81)" style="fill: none; stroke: #b0b0b0; stroke-width: 0.8; stroke-linecap: square"/>
     </g>
     <g id="line2d_56">
      <g>
       <use href="#m0c705e4a82" x="479.064" y="230.806272" style="stroke: #000000; stroke-width: 0.8"/>
      </g>
     </g>
     <g id="text_28" transform="translate(0 0.400)">
      <text style="font-size: 10px; font-family: 'DejaVu Sans', 'Liberation Sans', sans-serif; text-anchor: end" x="472.064" y="234.605491" transform="rotate(-0 472.064 234.605491)">−30</text>
     </g>
    </g>
    <g id="ytick_9">
     <g id="line2d_57">
      <path d="M 479.064 192.942848 
L 839.952 192.942848 
" clip-path="url(#pc8b9ed1a81)" style="fill: none; stroke: #b0b0b0; stroke-width: 0.8; stroke-linecap: square"/>
     </g>
     <g id="line2d_58">
      <g>
       <use href="#m0c705e4a82" x="479.064" y="192.942848" style="stroke: #000000; stroke-width: 0.8"/>
      </g>
     </g>
     <g id="text_29" transform="translate(0 0.400)">
      <text style="font-size: 10px; font-family: 'DejaVu Sans', 'Liberation Sans', sans-serif; text-anchor: end" x="472.064" y="196.742067" transform="rotate(-0 472.064 196.742067)">−20</text>
     </g>
    </g>
    <g id="ytick_10">
     <g id="line2d_59">
      <path d="M 479.064 155.079424 
L 839.952 155.079424 
" clip-path="url(#pc8b9ed1a81)" style="fill: none; stroke: #b0b0b0; stroke-width: 0.8; stroke-linecap: square"/>
     </g>
     <g id="line2d_60">
      <g>
       <use href="#m0c705e4a82" x="479.064" y="155.079424" style="stroke: #000000; stroke-width: 0.8"/>
      </g>
     </g>
     <g id="text_30" transform="translate(0 0.400)">
      <text style="font-size: 10px; font-family: 'DejaVu Sans', 'Liberation Sans', sans-serif; text-anchor: end" x="472.064" y="158.878643" transform="rotate(-0 472.064 158.878643)">−10</text>
     </g>
    </g>
    <g id="ytick_11">
     <g id="line2d_61">
      <path d="M 479.064 117.216 
L 839.952 117.216 
" clip-path="url(#pc8b9ed1a81)" style="fill: none; stroke: #b0b0b0; stroke-width: 0.8; stroke-linecap: square"/>
     </g>
     <g id="line2d_62">
      <g>
       <use href="#m0c705e4a82" x="479.064" y="117.216" style="stroke: #000000; stroke-width: 0.8"/>
      </g>
     </g>
     <g id="text_31" transform="translate(0 0.400)">
      <text style="font-size: 10px; font-family: 'DejaVu Sans', 'Liberation Sans', sans-serif; text-anchor: end" x="472.064" y="121.015219" transform="rotate(-0 472.064 121.015219)">0</text>
     </g>
    </g>
    <g id="ytick_12">
     <g id="line2d_63">
      <path d="M 479.064 79.352576 
L 839.952 79.352576 
" clip-path="url(#pc8b9ed1a81)" style="fill: none; stroke: #b0b0b0; stroke-width: 0.8; stroke-linecap: square"/>
     </g>
     <g id="line2d_64">
      <g>
       <use href="#m0c705e4a82" x="479.064" y="79.352576" style="stroke: #000000; stroke-width: 0.8"/>
      </g>
     </g>
     <g id="text_32" transform="translate(0 0.400)">
      <text style="font-size: 10px; font-family: 'DejaVu Sans', 'Liberation Sans', sans-serif; text-anchor: end" x="472.064" y="83.151795" transform="rotate(-0 472.064 83.151795)">10</text>
     </g>
    </g>
    <g id="ytick_13">
     <g id="line2d_65">
      <path d="M 479.064 41.489152 
L 839.952 41.489152 
" clip-path="url(#pc8b9ed1a81)" style="fill: none; stroke: #b0b0b0; stroke-width: 0.8; stroke-linecap: square"/>
     </g>
     <g id="line2d_66">
      <g>
       <use href="#m0c705e4a82" x="479.064" y="41.489152" style="stroke: #000000; stroke-width: 0.8"/>
      </g>
     </g>
     <g id="text_33" transform="translate(0 0.400)">
      <text style="font-size: 10px; font-family: 'DejaVu Sans', 'Liberation Sans', sans-serif; text-anchor: end" x="472.064" y="45.28837" transform="rotate(-0 472.064 45.28837)">20</text>
     </g>
    </g>
    <g id="ytick_14">
     <g id="line2d_67">
      <path d="M 479.064 3.625728 
L 839.952 3.625728 
" clip-path="url(#pc8b9ed1a81)" style="fill: none; stroke: #b0b0b0; stroke-width: 0.8; stroke-linecap: square"/>
     </g>
     <g id="line2d_68">
      <g>
       <use href="#m0c705e4a82" x="479.064" y="3.625728" style="stroke: #000000; stroke-width: 0.8"/>
      </g>
     </g>
     <g id="text_34" transform="translate(0 0.400)">
      <text style="font-size: 10px; font-family: 'DejaVu Sans', 'Liberation Sans', sans-serif; text-anchor: end" x="472.064" y="7.424946" transform="rotate(-0 472.064 7.424946)">30</text>
     </g>
    </g>
    <g id="text_35">
     <!-- $f_{\rm car}/2\pi,\ f_{\rm sdf}/2\pi$ (MHz) -->
     <g transform="translate(444.04775 187.706) rotate(-90)">
      <text>
       <tspan x="0" y="-0.359375" style="font-style: oblique; font-size: 14px; font-family: 'DejaVu Sans', 'Liberation Sans', sans-serif">f</tspan>
       <tspan x="33.858105" y="-0.359375" style="font-style: oblique; font-size: 14px; font-family: 'DejaVu Sans', 'Liberation Sans', sans-serif">π</tspan>
       <tspan x="54.010404" y="-0.359375" style="font-style: oblique; font-size: 14px; font-family: 'DejaVu Sans', 'Liberation Sans', sans-serif">f</tspan>
       <tspan x="87.222513" y="-0.359375" style="font-style: oblique; font-size: 14px; font-family: 'DejaVu Sans', 'Liberation Sans', sans-serif">π</tspan>
       <tspan x="4.928711" y="1.9375" style="font-size: 9.8px; font-family: 'DejaVu Sans', 'Liberation Sans', sans-serif">c</tspan>
       <tspan x="10.316797" y="1.9375" style="font-size: 9.8px; font-family: 'DejaVu Sans', 'Liberation Sans', sans-serif">a</tspan>
       <tspan x="16.322168" y="1.9375" style="font-size: 9.8px; font-family: 'DejaVu Sans', 'Liberation Sans', sans-serif">r</tspan>
       <tspan x="58.939115" y="1.9375" style="font-size: 9.8px; font-family: 'DejaVu Sans', 'Liberation Sans', sans-serif">s</tspan>
       <tspan x="64.044876" y="1.9375" style="font-size: 9.8px; font-family: 'DejaVu Sans', 'Liberation Sans', sans-serif">d</tspan>
       <tspan x="70.26558" y="1.9375" style="font-size: 9.8px; font-family: 'DejaVu Sans', 'Liberation Sans', sans-serif">f</tspan>
       <tspan x="20.734082" y="-0.359375" style="font-size: 14px; font-family: 'DejaVu Sans', 'Liberation Sans', sans-serif">/</tspan>
       <tspan x="24.950879" y="-0.359375" style="font-size: 14px; font-family: 'DejaVu Sans', 'Liberation Sans', sans-serif">2</tspan>
       <tspan x="42.286816" y="-0.359375" style="font-size: 14px; font-family: 'DejaVu Sans', 'Liberation Sans', sans-serif">,</tspan>
       <tspan x="74.09849" y="-0.359375" style="font-size: 14px; font-family: 'DejaVu Sans', 'Liberation Sans', sans-serif">/</tspan>
       <tspan x="78.315287" y="-0.359375" style="font-size: 14px; font-family: 'DejaVu Sans', 'Liberation Sans', sans-serif">2</tspan>
       <tspan x="95.651224" y="-0.359375" style="font-size: 14px; font-family: 'DejaVu Sans', 'Liberation Sans', sans-serif"> </tspan>
       <tspan x="100.101419" y="-0.359375" style="font-size: 14px; font-family: 'DejaVu Sans', 'Liberation Sans', sans-serif">(</tspan>
       <tspan x="105.563333" y="-0.359375" style="font-size: 14px; font-family: 'DejaVu Sans', 'Liberation Sans', sans-serif">M</tspan>
       <tspan x="117.642435" y="-0.359375" style="font-size: 14px; font-family: 'DejaVu Sans', 'Liberation Sans', sans-serif">H</tspan>
       <tspan x="128.169779" y="-0.359375" style="font-size: 14px; font-family: 'DejaVu Sans', 'Liberation Sans', sans-serif">z</tspan>
       <tspan x="135.518412" y="-0.359375" style="font-size: 14px; font-family: 'DejaVu Sans', 'Liberation Sans', sans-serif">)</tspan>
      </text>
     </g>
    </g>
   </g>
   <g id="line2d_69">
    <path d="M 495.468 117.216 
L 498.7488 117.216 
L 502.0296 117.216 
L 505.3104 117.216 
L 508.5912 117.216 
L 511.872 117.216 
L 515.1528 117.216 
L 518.4336 117.216 
L 521.7144 117.216 
L 524.9952 117.216 
L 528.276 117.216 
L 531.5568 117.216 
L 534.8376 117.216 
L 538.1184 117.216 
L 541.3992 117.216 
L 544.68 117.216 
L 547.9608 117.216 
L 551.2416 117.216 
L 554.5224 117.216 
L 557.8032 117.216 
L 561.084 117.216 
L 564.3648 117.216 
L 567.6456 117.216 
L 570.9264 117.216 
L 574.2072 117.216 
L 577.488 117.216 
L 580.7688 117.216 
L 584.0496 117.216 
L 587.3304 117.216 
L 590.6112 117.216 
L 593.892 117.216 
L 597.1728 117.216 
L 600.4536 117.216 
L 603.7344 117.216 
L 607.0152 117.216 
L 610.296 117.216 
L 613.5768 117.216 
L 616.8576 117.216 
L 620.1384 117.216 
L 623.4192 117.216 
L 626.7 117.216 
L 629.9808 117.216 
L 633.2616 117.216 
L 636.5424 117.216 
L 639.8232 117.216 
L 643.104 117.216 
L 646.3848 117.216 
L 649.6656 117.216 
L 652.9464 117.216 
L 656.2272 117.216 
L 659.508 117.216 
L 662.7888 117.216 
L 666.0696 117.216 
L 669.3504 117.216 
L 672.6312 117.216 
L 675.912 117.216 
L 679.1928 117.216 
L 682.4736 117.216 
L 685.7544 117.216 
L 689.0352 117.216 
L 692.316 117.216 
L 695.5968 117.216 
L 698.8776 117.216 
L 702.1584 117.216 
L 705.4392 117.216 
L 708.72 117.216 
L 712.0008 117.216 
L 715.2816 117.216 
L 718.5624 117.216 
L 721.8432 117.216 
L 725.124 117.216 
L 728.4048 117.216 
L 731.6856 117.216 
L 734.9664 117.216 
L 738.2472 117.216 
L 741.528 117.216 
L 744.8088 117.216 
L 748.0896 117.216 
L 751.3704 117.216 
L 754.6512 117.216 
L 757.932 117.216 
L 761.2128 117.216 
L 764.4936 117.216 
L 767.7744 117.216 
L 771.0552 117.216 
L 774.336 117.216 
L 777.6168 117.216 
L 780.8976 117.216 
L 784.1784 117.216 
L 787.4592 117.216 
L 790.74 117.216 
L 794.0208 117.216 
L 797.3016 117.216 
L 800.5824 117.216 
L 803.8632 117.216 
L 807.144 117.216 
L 810.4248 117.216 
L 813.7056 117.216 
L 816.9864 117.216 
L 820.2672 117.216 
L 823.548 117.216 
" clip-path="url(#pc8b9ed1a81)" style="fill: none; stroke: #4a72b1; stroke-width: 1.5; stroke-linecap: square"/>
    <defs>
     <path id="ma4be5afce4" d="M 0 1.5 
C 0.397805 1.5 0.77937 1.341951 1.06066 1.06066 
C 1.341951 0.77937 1.5 0.397805 1.5 0 
C 1.5 -0.397805 1.341951 -0.77937 1.06066 -1.06066 
C 0.77937 -1.341951 0.397805 -1.5 0 -1.5 
C -0.397805 -1.5 -0.77937 -1.341951 -1.06066 -1.06066 
C -1.341951 -0.77937 -1.5 -0.397805 -1.5 0 
C -1.5 0.397805 -1.341951 0.77937 -1.06066 1.06066 
C -0.77937 1.341951 -0.397805 1.5 0 1.5 
z
" style="stroke: #4a72b1"/>
    </defs>
    <g clip-path="url(#pc8b9ed1a81)">
     <use href="#ma4be5afce4" x="495.468" y="117.216" style="fill: #4a72b1; stroke: #4a72b1"/>
     <use href="#ma4be5afce4" x="498.7488" y="117.216" style="fill: #4a72b1; stroke: #4a72b1"/>
     <use href="#ma4be5afce4" x="502.0296" y="117.216" style="fill: #4a72b1; stroke: #4a72b1"/>
     <use href="#ma4be5afce4" x="505.3104" y="117.216" style="fill: #4a72b1; stroke: #4a72b1"/>
     <use href="#ma4be5afce4" x="508.5912" y="117.216" style="fill: #4a72b1; stroke: #4a72b1"/>
     <use href="#ma4be5afce4" x="511.872" y="117.216" style="fill: #4a72b1; stroke: #4a72b1"/>
     <use href="#ma4be5afce4" x="515.1528" y="117.216" style="fill: #4a72b1; stroke: #4a72b1"/>
     <use href="#ma4be5afce4" x="518.4336" y="117.216" style="fill: #4a72b1; stroke: #4a72b1"/>
     <use href="#ma4be5afce4" x="521.7144" y="117.216" style="fill: #4a72b1; stroke: #4a72b1"/>
     <use href="#ma4be5afce4" x="524.9952" y="117.216" style="fill: #4a72b1; stroke: #4a72b1"/>
     <use href="#ma4be5afce4" x="528.276" y="117.216" style="fill: #4a72b1; stroke: #4a72b1"/>
     <use href="#ma4be5afce4" x="531.5568" y="117.216" style="fill: #4a72b1; stroke: #4a72b1"/>
     <use href="#ma4be5afce4" x="534.8376" y="117.216" style="fill: #4a72b1; stroke: #4a72b1"/>
     <use href="#ma4be5afce4" x="538.1184" y="117.216" style="fill: #4a72b1; stroke: #4a72b1"/>
     <use href="#ma4be5afce4" x="541.3992" y="117.216" style="fill: #4a72b1; stroke: #4a72b1"/>
     <use href="#ma4be5afce4" x="544.68" y="117.216" style="fill: #4a72b1; stroke: #4a72b1"/>
     <use href="#ma4be5afce4" x="547.9608" y="117.216" style="fill: #4a72b1; stroke: #4a72b1"/>
     <use href="#ma4be5afce4" x="551.2416" y="117.216" style="fill: #4a72b1; stroke: #4a72b1"/>
     <use href="#ma4be5afce4" x="554.5224" y="117.216" style="fill: #4a72b1; stroke: #4a72b1"/>
     <use href="#ma4be5afce4" x="557.8032" y="117.216" style="fill: #4a72b1; stroke: #4a72b1"/>
     <use href="#ma4be5afce4" x="561.084" y="117.216" style="fill: #4a72b1; stroke: #4a72b1"/>
     <use href="#ma4be5afce4" x="564.3648" y="117.216" style="fill: #4a72b1; stroke: #4a72b1"/>
     <use href="#ma4be5afce4" x="567.6456" y="117.216" style="fill: #4a72b1; stroke: #4a72b1"/>
     <use href="#ma4be5afce4" x="570.9264" y="117.216" style="fill: #4a72b1; stroke: #4a72b1"/>
     <use href="#ma4be5afce4" x="574.2072" y="117.216" style="fill: #4a72b1; stroke: #4a72b1"/>
     <use href="#ma4be5afce4" x="577.488" y="117.216" style="fill: #4a72b1; stroke: #4a72b1"/>
     <use href="#ma4be5afce4" x="580.7688" y="117.216" style="fill: #4a72b1; stroke: #4a72b1"/>
     <use href="#ma4be5afce4" x="584.0496" y="117.216" style="fill: #4a72b1; stroke: #4a72b1"/>
     <use href="#ma4be5afce4" x="587.3304" y="117.216" style="fill: #4a72b1; stroke: #4a72b1"/>
     <use href="#ma4be5afce4" x="590.6112" y="117.216" style="fill: #4a72b1; stroke: #4a72b1"/>
     <use href="#ma4be5afce4" x="593.892" y="117.216" style="fill: #4a72b1; stroke: #4a72b1"/>
     <use href="#ma4be5afce4" x="597.1728" y="117.216" style="fill: #4a72b1; stroke: #4a72b1"/>
     <use href="#ma4be5afce4" x="600.4536" y="117.216" style="fill: #4a72b1; stroke: #4a72b1"/>
     <use href="#ma4be5afce4" x="603.7344" y="117.216" style="fill: #4a72b1; stroke: #4a72b1"/>
     <use href="#ma4be5afce4" x="607.0152" y="117.216" style="fill: #4a72b1; stroke: #4a72b1"/>
     <use href="#ma4be5afce4" x="610.296" y="117.216" style="fill: #4a72b1; stroke: #4a72b1"/>
     <use href="#ma4be5afce4" x="613.5768" y="117.216" style="fill: #4a72b1; stroke: #4a72b1"/>
     <use href="#ma4be5afce4" x="616.8576" y="117.216" style="fill: #4a72b1; stroke: #4a72b1"/>
     <use href="#ma4be5afce4" x="620.1384" y="117.216" style="fill: #4a72b1; stroke: #4a72b1"/>
     <use href="#ma4be5afce4" x="623.4192" y="117.216" style="fill: #4a72b1; stroke: #4a72b1"/>
     <use href="#ma4be5afce4" x="626.7" y="117.216" style="fill: #4a72b1; stroke: #4a72b1"/>
     <use href="#ma4be5afce4" x="629.9808" y="117.216" style="fill: #4a72b1; stroke: #4a72b1"/>
     <use href="#ma4be5afce4" x="633.2616" y="117.216" style="fill: #4a72b1; stroke: #4a72b1"/>
     <use href="#ma4be5afce4" x="636.5424" y="117.216" style="fill: #4a72b1; stroke: #4a72b1"/>
     <use href="#ma4be5afce4" x="639.8232" y="117.216" style="fill: #4a72b1; stroke: #4a72b1"/>
     <use href="#ma4be5afce4" x="643.104" y="117.216" style="fill: #4a72b1; stroke: #4a72b1"/>
     <use href="#ma4be5afce4" x="646.3848" y="117.216" style="fill: #4a72b1; stroke: #4a72b1"/>
     <use href="#ma4be5afce4" x="649.6656" y="117.216" style="fill: #4a72b1; stroke: #4a72b1"/>
     <use href="#ma4be5afce4" x="652.9464" y="117.216" style="fill: #4a72b1; stroke: #4a72b1"/>
     <use href="#ma4be5afce4" x="656.2272" y="117.216" style="fill: #4a72b1; stroke: #4a72b1"/>
     <use href="#ma4be5afce4" x="659.508" y="117.216" style="fill: #4a72b1; stroke: #4a72b1"/>
     <use href="#ma4be5afce4" x="662.7888" y="117.216" style="fill: #4a72b1; stroke: #4a72b1"/>
     <use href="#ma4be5afce4" x="666.0696" y="117.216" style="fill: #4a72b1; stroke: #4a72b1"/>
     <use href="#ma4be5afce4" x="669.3504" y="117.216" style="fill: #4a72b1; stroke: #4a72b1"/>
     <use href="#ma4be5afce4" x="672.6312" y="117.216" style="fill: #4a72b1; stroke: #4a72b1"/>
     <use href="#ma4be5afce4" x="675.912" y="117.216" style="fill: #4a72b1; stroke: #4a72b1"/>
     <use href="#ma4be5afce4" x="679.1928" y="117.216" style="fill: #4a72b1; stroke: #4a72b1"/>
     <use href="#ma4be5afce4" x="682.4736" y="117.216" style="fill: #4a72b1; stroke: #4a72b1"/>
     <use href="#ma4be5afce4" x="685.7544" y="117.216" style="fill: #4a72b1; stroke: #4a72b1"/>
     <use href="#ma4be5afce4" x="689.0352" y="117.216" style="fill: #4a72b1; stroke: #4a72b1"/>
     <use href="#ma4be5afce4" x="692.316" y="117.216" style="fill: #4a72b1; stroke: #4a72b1"/>
     <use href="#ma4be5afce4" x="695.5968" y="117.216" style="fill: #4a72b1; stroke: #4a72b1"/>
     <use href="#ma4be5afce4" x="698.8776" y="117.216" style="fill: #4a72b1; stroke: #4a72b1"/>
     <use href="#ma4be5afce4" x="702.1584" y="117.216" style="fill: #4a72b1; stroke: #4a72b1"/>
     <use href="#ma4be5afce4" x="705.4392" y="117.216" style="fill: #4a72b1; stroke: #4a72b1"/>
     <use href="#ma4be5afce4" x="708.72" y="117.216" style="fill: #4a72b1; stroke: #4a72b1"/>
     <use href="#ma4be5afce4" x="712.0008" y="117.216" style="fill: #4a72b1; stroke: #4a72b1"/>
     <use href="#ma4be5afce4" x="715.2816" y="117.216" style="fill: #4a72b1; stroke: #4a72b1"/>
     <use href="#ma4be5afce4" x="718.5624" y="117.216" style="fill: #4a72b1; stroke: #4a72b1"/>
     <use href="#ma4be5afce4" x="721.8432" y="117.216" style="fill: #4a72b1; stroke: #4a72b1"/>
     <use href="#ma4be5afce4" x="725.124" y="117.216" style="fill: #4a72b1; stroke: #4a72b1"/>
     <use href="#ma4be5afce4" x="728.4048" y="117.216" style="fill: #4a72b1; stroke: #4a72b1"/>
     <use href="#ma4be5afce4" x="731.6856" y="117.216" style="fill: #4a72b1; stroke: #4a72b1"/>
     <use href="#ma4be5afce4" x="734.9664" y="117.216" style="fill: #4a72b1; stroke: #4a72b1"/>
     <use href="#ma4be5afce4" x="738.2472" y="117.216" style="fill: #4a72b1; stroke: #4a72b1"/>
     <use href="#ma4be5afce4" x="741.528" y="117.216" style="fill: #4a72b1; stroke: #4a72b1"/>
     <use href="#ma4be5afce4" x="744.8088" y="117.216" style="fill: #4a72b1; stroke: #4a72b1"/>
     <use href="#ma4be5afce4" x="748.0896" y="117.216" style="fill: #4a72b1; stroke: #4a72b1"/>
     <use href="#ma4be5afce4" x="751.3704" y="117.216" style="fill: #4a72b1; stroke: #4a72b1"/>
     <use href="#ma4be5afce4" x="754.6512" y="117.216" style="fill: #4a72b1; stroke: #4a72b1"/>
     <use href="#ma4be5afce4" x="757.932" y="117.216" style="fill: #4a72b1; stroke: #4a72b1"/>
     <use href="#ma4be5afce4" x="761.2128" y="117.216" style="fill: #4a72b1; stroke: #4a72b1"/>
     <use href="#ma4be5afce4" x="764.4936" y="117.216" style="fill: #4a72b1; stroke: #4a72b1"/>
     <use href="#ma4be5afce4" x="767.7744" y="117.216" style="fill: #4a72b1; stroke: #4a72b1"/>
     <use href="#ma4be5afce4" x="771.0552" y="117.216" style="fill: #4a72b1; stroke: #4a72b1"/>
     <use href="#ma4be5afce4" x="774.336" y="117.216" style="fill: #4a72b1; stroke: #4a72b1"/>
     <use href="#ma4be5afce4" x="777.6168" y="117.216" style="fill: #4a72b1; stroke: #4a72b1"/>
     <use href="#ma4be5afce4" x="780.8976" y="117.216" style="fill: #4a72b1; stroke: #4a72b1"/>
     <use href="#ma4be5afce4" x="784.1784" y="117.216" style="fill: #4a72b1; stroke: #4a72b1"/>
     <use href="#ma4be5afce4" x="787.4592" y="117.216" style="fill: #4a72b1; stroke: #4a72b1"/>
     <use href="#ma4be5afce4" x="790.74" y="117.216" style="fill: #4a72b1; stroke: #4a72b1"/>
     <use href="#ma4be5afce4" x="794.0208" y="117.216" style="fill: #4a72b1; stroke: #4a72b1"/>
     <use href="#ma4be5afce4" x="797.3016" y="117.216" style="fill: #4a72b1; stroke: #4a72b1"/>
     <use href="#ma4be5afce4" x="800.5824" y="117.216" style="fill: #4a72b1; stroke: #4a72b1"/>
     <use href="#ma4be5afce4" x="803.8632" y="117.216" style="fill: #4a72b1; stroke: #4a72b1"/>
     <use href="#ma4be5afce4" x="807.144" y="117.216" style="fill: #4a72b1; stroke: #4a72b1"/>
     <use href="#ma4be5afce4" x="810.4248" y="117.216" style="fill: #4a72b1; stroke: #4a72b1"/>
     <use href="#ma4be5afce4" x="813.7056" y="117.216" style="fill: #4a72b1; stroke: #4a72b1"/>
     <use href="#ma4be5afce4" x="816.9864" y="117.216" style="fill: #4a72b1; stroke: #4a72b1"/>
     <use href="#ma4be5afce4" x="820.2672" y="117.216" style="fill: #4a72b1; stroke: #4a72b1"/>
     <use href="#ma4be5afce4" x="823.548" y="117.216" style="fill: #4a72b1; stroke: #4a72b1"/>
    </g>
   </g>
   <g id="line2d_70">
    <path d="M 495.468 117.216 
L 498.7488 183.59174 
L 502.0296 221.925841 
L 505.3104 222.292364 
L 508.5912 196.97597 
L 511.872 168.363593 
L 515.1528 151.610316 
L 518.4336 146.163515 
L 521.7144 141.287037 
L 524.9952 128.458542 
L 528.276 108.883441 
L 531.5568 90.565043 
L 534.8376 79.572873 
L 538.1184 74.6614 
L 541.3992 69.821982 
L 544.68 61.124461 
L 547.9608 50.553736 
L 551.2416 43.416017 
L 554.5224 42.658079 
L 557.8032 46.15512 
L 561.084 49.412112 
L 564.3648 50.40867 
L 567.6456 51.434187 
L 570.9264 56.279206 
L 574.2072 66.050448 
L 577.488 78.048181 
L 580.7688 88.65881 
L 584.0496 96.985414 
L 587.3304 105.383607 
L 590.6112 116.535065 
L 593.892 130.335164 
L 597.1728 143.884901 
L 600.4536 154.439546 
L 603.7344 162.055283 
L 607.0152 169.145566 
L 610.296 177.556191 
L 613.5768 186.381903 
L 616.8576 192.839641 
L 620.1384 195.172128 
L 623.4192 194.411956 
L 626.7 193.138868 
L 629.9808 192.630332 
L 633.2616 191.500797 
L 636.5424 187.269287 
L 639.8232 179.124988 
L 643.104 168.897514 
L 646.3848 159.207215 
L 649.6656 150.81555 
L 652.9464 142.03499 
L 656.2272 130.81303 
L 659.508 117.216 
L 662.7888 103.61897 
L 666.0696 92.39701 
L 669.3504 83.61645 
L 672.6312 75.224785 
L 675.912 65.534486 
L 679.1928 55.307012 
L 682.4736 47.162713 
L 685.7544 42.931203 
L 689.0352 41.801668 
L 692.316 41.293132 
L 695.5968 40.020044 
L 698.8776 39.259872 
L 702.1584 41.592359 
L 705.4392 48.050097 
L 708.72 56.875809 
L 712.0008 65.286434 
L 715.2816 72.376717 
L 718.5624 79.992454 
L 721.8432 90.547099 
L 725.124 104.096836 
L 728.4048 117.896935 
L 731.6856 129.048393 
L 734.9664 137.446586 
L 738.2472 145.77319 
L 741.528 156.383819 
L 744.8088 168.381552 
L 748.0896 178.152794 
L 751.3704 182.997813 
L 754.6512 184.02333 
L 757.932 185.019888 
L 761.2128 188.27688 
L 764.4936 191.773921 
L 767.7744 191.015983 
L 771.0552 183.878264 
L 774.336 173.307539 
L 777.6168 164.610018 
L 780.8976 159.7706 
L 784.1784 154.859127 
L 787.4592 143.866957 
L 790.74 125.548559 
L 794.0208 105.973458 
L 797.3016 93.144963 
L 800.5824 88.268485 
L 803.8632 82.821684 
L 807.144 66.068407 
L 810.4248 37.45603 
L 813.7056 12.139636 
L 816.9864 12.506159 
L 820.2672 50.84026 
L 823.548 117.216 
" clip-path="url(#pc8b9ed1a81)" style="fill: none; stroke: #dc7e33; stroke-width: 1.5; stroke-linecap: square"/>
    <defs>
     <path id="m8cf4e10146" d="M 0 1.5 
C 0.397805 1.5 0.77937 1.341951 1.06066 1.06066 
C 1.341951 0.77937 1.5 0.397805 1.5 0 
C 1.5 -0.397805 1.341951 -0.77937 1.06066 -1.06066 
C 0.77937 -1.341951 0.397805 -1.5 0 -1.5 
C -0.397805 -1.5 -0.77937 -1.341951 -1.06066 -1.06066 
C -1.341951 -0.77937 -1.5 -0.397805 -1.5 0 
C -1.5 0.397805 -1.341951 0.77937 -1.06066 1.06066 
C -0.77937 1.341951 -0.397805 1.5 0 1.5 
z
" style="stroke: #dc7e33"/>
    </defs>
    <g clip-path="url(#pc8b9ed1a81)">
     <use href="#m8cf4e10146" x="495.468" y="117.216" style="fill: #dc7e33; stroke: #dc7e33"/>
     <use href="#m8cf4e10146" x="498.7488" y="183.59174" style="fill: #dc7e33; stroke: #dc7e33"/>
     <use href="#m8cf4e10146" x="502.0296" y="221.925841" style="fill: #dc7e33; stroke: #dc7e33"/>
     <use href="#m8cf4e10146" x="505.3104" y="222.292364" style="fill: #dc7e33; stroke: #dc7e33"/>
     <use href="#m8cf4e10146" x="508.5912" y="196.97597" style="fill: #dc7e33; stroke: #dc7e33"/>
     <use href="#m8cf4e10146" x="511.872" y="168.363593" style="fill: #dc7e33; stroke: #dc7e33"/>
     <use href="#m8cf4e10146" x="515.1528" y="151.610316" style="fill: #dc7e33; stroke: #dc7e33"/>
     <use href="#m8cf4e10146" x="518.4336" y="146.163515" style="fill: #dc7e33; stroke: #dc7e33"/>
     <use href="#m8cf4e10146" x="521.7144" y="141.287037" style="fill: #dc7e33; stroke: #dc7e33"/>
     <use href="#m8cf4e10146" x="524.9952" y="128.458542" style="fill: #dc7e33; stroke: #dc7e33"/>
     <use href="#m8cf4e10146" x="528.276" y="108.883441" style="fill: #dc7e33; stroke: #dc7e33"/>
     <use href="#m8cf4e10146" x="531.5568" y="90.565043" style="fill: #dc7e33; stroke: #dc7e33"/>
     <use href="#m8cf4e10146" x="534.8376" y="79.572873" style="fill: #dc7e33; stroke: #dc7e33"/>
     <use href="#m8cf4e10146" x="538.1184" y="74.6614" style="fill: #dc7e33; stroke: #dc7e33"/>
     <use href="#m8cf4e10146" x="541.3992" y="69.821982" style="fill: #dc7e33; stroke: #dc7e33"/>
     <use href="#m8cf4e10146" x="544.68" y="61.124461" style="fill: #dc7e33; stroke: #dc7e33"/>
     <use href="#m8cf4e10146" x="547.9608" y="50.553736" style="fill: #dc7e33; stroke: #dc7e33"/>
     <use href="#m8cf4e10146" x="551.2416" y="43.416017" style="fill: #dc7e33; stroke: #dc7e33"/>
     <use href="#m8cf4e10146" x="554.5224" y="42.658079" style="fill: #dc7e33; stroke: #dc7e33"/>
     <use href="#m8cf4e10146" x="557.8032" y="46.15512" style="fill: #dc7e33; stroke: #dc7e33"/>
     <use href="#m8cf4e10146" x="561.084" y="49.412112" style="fill: #dc7e33; stroke: #dc7e33"/>
     <use href="#m8cf4e10146" x="564.3648" y="50.40867" style="fill: #dc7e33; stroke: #dc7e33"/>
     <use href="#m8cf4e10146" x="567.6456" y="51.434187" style="fill: #dc7e33; stroke: #dc7e33"/>
     <use href="#m8cf4e10146" x="570.9264" y="56.279206" style="fill: #dc7e33; stroke: #dc7e33"/>
     <use href="#m8cf4e10146" x="574.2072" y="66.050448" style="fill: #dc7e33; stroke: #dc7e33"/>
     <use href="#m8cf4e10146" x="577.488" y="78.048181" style="fill: #dc7e33; stroke: #dc7e33"/>
     <use href="#m8cf4e10146" x="580.7688" y="88.65881" style="fill: #dc7e33; stroke: #dc7e33"/>
     <use href="#m8cf4e10146" x="584.0496" y="96.985414" style="fill: #dc7e33; stroke: #dc7e33"/>
     <use href="#m8cf4e10146" x="587.3304" y="105.383607" style="fill: #dc7e33; stroke: #dc7e33"/>
     <use href="#m8cf4e10146" x="590.6112" y="116.535065" style="fill: #dc7e33; stroke: #dc7e33"/>
     <use href="#m8cf4e10146" x="593.892" y="130.335164" style="fill: #dc7e33; stroke: #dc7e33"/>
     <use href="#m8cf4e10146" x="597.1728" y="143.884901" style="fill: #dc7e33; stroke: #dc7e33"/>
     <use href="#m8cf4e10146" x="600.4536" y="154.439546" style="fill: #dc7e33; stroke: #dc7e33"/>
     <use href="#m8cf4e10146" x="603.7344" y="162.055283" style="fill: #dc7e33; stroke: #dc7e33"/>
     <use href="#m8cf4e10146" x="607.0152" y="169.145566" style="fill: #dc7e33; stroke: #dc7e33"/>
     <use href="#m8cf4e10146" x="610.296" y="177.556191" style="fill: #dc7e33; stroke: #dc7e33"/>
     <use href="#m8cf4e10146" x="613.5768" y="186.381903" style="fill: #dc7e33; stroke: #dc7e33"/>
     <use href="#m8cf4e10146" x="616.8576" y="192.839641" style="fill: #dc7e33; stroke: #dc7e33"/>
     <use href="#m8cf4e10146" x="620.1384" y="195.172128" style="fill: #dc7e33; stroke: #dc7e33"/>
     <use href="#m8cf4e10146" x="623.4192" y="194.411956" style="fill: #dc7e33; stroke: #dc7e33"/>
     <use href="#m8cf4e10146" x="626.7" y="193.138868" style="fill: #dc7e33; stroke: #dc7e33"/>
     <use href="#m8cf4e10146" x="629.9808" y="192.630332" style="fill: #dc7e33; stroke: #dc7e33"/>
     <use href="#m8cf4e10146" x="633.2616" y="191.500797" style="fill: #dc7e33; stroke: #dc7e33"/>
     <use href="#m8cf4e10146" x="636.5424" y="187.269287" style="fill: #dc7e33; stroke: #dc7e33"/>
     <use href="#m8cf4e10146" x="639.8232" y="179.124988" style="fill: #dc7e33; stroke: #dc7e33"/>
     <use href="#m8cf4e10146" x="643.104" y="168.897514" style="fill: #dc7e33; stroke: #dc7e33"/>
     <use href="#m8cf4e10146" x="646.3848" y="159.207215" style="fill: #dc7e33; stroke: #dc7e33"/>
     <use href="#m8cf4e10146" x="649.6656" y="150.81555" style="fill: #dc7e33; stroke: #dc7e33"/>
     <use href="#m8cf4e10146" x="652.9464" y="142.03499" style="fill: #dc7e33; stroke: #dc7e33"/>
     <use href="#m8cf4e10146" x="656.2272" y="130.81303" style="fill: #dc7e33; stroke: #dc7e33"/>
     <use href="#m8cf4e10146" x="659.508" y="117.216" style="fill: #dc7e33; stroke: #dc7e33"/>
     <use href="#m8cf4e10146" x="662.7888" y="103.61897" style="fill: #dc7e33; stroke: #dc7e33"/>
     <use href="#m8cf4e10146" x="666.0696" y="92.39701" style="fill: #dc7e33; stroke: #dc7e33"/>
     <use href="#m8cf4e10146" x="669.3504" y="83.61645" style="fill: #dc7e33; stroke: #dc7e33"/>
     <use href="#m8cf4e10146" x="672.6312" y="75.224785" style="fill: #dc7e33; stroke: #dc7e33"/>
     <use href="#m8cf4e10146" x="675.912" y="65.534486" style="fill: #dc7e33; stroke: #dc7e33"/>
     <use href="#m8cf4e10146" x="679.1928" y="55.307012" style="fill: #dc7e33; stroke: #dc7e33"/>
     <use href="#m8cf4e10146" x="682.4736" y="47.162713" style="fill: #dc7e33; stroke: #dc7e33"/>
     <use href="#m8cf4e10146" x="685.7544" y="42.931203" style="fill: #dc7e33; stroke: #dc7e33"/>
     <use href="#m8cf4e10146" x="689.0352" y="41.801668" style="fill: #dc7e33; stroke: #dc7e33"/>
     <use href="#m8cf4e10146" x="692.316" y="41.293132" style="fill: #dc7e33; stroke: #dc7e33"/>
     <use href="#m8cf4e10146" x="695.5968" y="40.020044" style="fill: #dc7e33; stroke: #dc7e33"/>
     <use href="#m8cf4e10146" x="698.8776" y="39.259872" style="fill: #dc7e33; stroke: #dc7e33"/>
     <use href="#m8cf4e10146" x="702.1584" y="41.592359" style="fill: #dc7e33; stroke: #dc7e33"/>
     <use href="#m8cf4e10146" x="705.4392" y="48.050097" style="fill: #dc7e33; stroke: #dc7e33"/>
     <use href="#m8cf4e10146" x="708.72" y="56.875809" style="fill: #dc7e33; stroke: #dc7e33"/>
     <use href="#m8cf4e10146" x="712.0008" y="65.286434" style="fill: #dc7e33; stroke: #dc7e33"/>
     <use href="#m8cf4e10146" x="715.2816" y="72.376717" style="fill: #dc7e33; stroke: #dc7e33"/>
     <use href="#m8cf4e10146" x="718.5624" y="79.992454" style="fill: #dc7e33; stroke: #dc7e33"/>
     <use href="#m8cf4e10146" x="721.8432" y="90.547099" style="fill: #dc7e33; stroke: #dc7e33"/>
     <use href="#m8cf4e10146" x="725.124" y="104.096836" style="fill: #dc7e33; stroke: #dc7e33"/>
     <use href="#m8cf4e10146" x="728.4048" y="117.896935" style="fill: #dc7e33; stroke: #dc7e33"/>
     <use href="#m8cf4e10146" x="731.6856" y="129.048393" style="fill: #dc7e33; stroke: #dc7e33"/>
     <use href="#m8cf4e10146" x="734.9664" y="137.446586" style="fill: #dc7e33; stroke: #dc7e33"/>
     <use href="#m8cf4e10146" x="738.2472" y="145.77319" style="fill: #dc7e33; stroke: #dc7e33"/>
     <use href="#m8cf4e10146" x="741.528" y="156.383819" style="fill: #dc7e33; stroke: #dc7e33"/>
     <use href="#m8cf4e10146" x="744.8088" y="168.381552" style="fill: #dc7e33; stroke: #dc7e33"/>
     <use href="#m8cf4e10146" x="748.0896" y="178.152794" style="fill: #dc7e33; stroke: #dc7e33"/>
     <use href="#m8cf4e10146" x="751.3704" y="182.997813" style="fill: #dc7e33; stroke: #dc7e33"/>
     <use href="#m8cf4e10146" x="754.6512" y="184.02333" style="fill: #dc7e33; stroke: #dc7e33"/>
     <use href="#m8cf4e10146" x="757.932" y="185.019888" style="fill: #dc7e33; stroke: #dc7e33"/>
     <use href="#m8cf4e10146" x="761.2128" y="188.27688" style="fill: #dc7e33; stroke: #dc7e33"/>
     <use href="#m8cf4e10146" x="764.4936" y="191.773921" style="fill: #dc7e33; stroke: #dc7e33"/>
     <use href="#m8cf4e10146" x="767.7744" y="191.015983" style="fill: #dc7e33; stroke: #dc7e33"/>
     <use href="#m8cf4e10146" x="771.0552" y="183.878264" style="fill: #dc7e33; stroke: #dc7e33"/>
     <use href="#m8cf4e10146" x="774.336" y="173.307539" style="fill: #dc7e33; stroke: #dc7e33"/>
     <use href="#m8cf4e10146" x="777.6168" y="164.610018" style="fill: #dc7e33; stroke: #dc7e33"/>
     <use href="#m8cf4e10146" x="780.8976" y="159.7706" style="fill: #dc7e33; stroke: #dc7e33"/>
     <use href="#m8cf4e10146" x="784.1784" y="154.859127" style="fill: #dc7e33; stroke: #dc7e33"/>
     <use href="#m8cf4e10146" x="787.4592" y="143.866957" style="fill: #dc7e33; stroke: #dc7e33"/>
     <use href="#m8cf4e10146" x="790.74" y="125.548559" style="fill: #dc7e33; stroke: #dc7e33"/>
     <use href="#m8cf4e10146" x="794.0208" y="105.973458" style="fill: #dc7e33; stroke: #dc7e33"/>
     <use href="#m8cf4e10146" x="797.3016" y="93.144963" style="fill: #dc7e33; stroke: #dc7e33"/>
     <use href="#m8cf4e10146" x="800.5824" y="88.268485" style="fill: #dc7e33; stroke: #dc7e33"/>
     <use href="#m8cf4e10146" x="803.8632" y="82.821684" style="fill: #dc7e33; stroke: #dc7e33"/>
     <use href="#m8cf4e10146" x="807.144" y="66.068407" style="fill: #dc7e33; stroke: #dc7e33"/>
     <use href="#m8cf4e10146" x="810.4248" y="37.45603" style="fill: #dc7e33; stroke: #dc7e33"/>
     <use href="#m8cf4e10146" x="813.7056" y="12.139636" style="fill: #dc7e33; stroke: #dc7e33"/>
     <use href="#m8cf4e10146" x="816.9864" y="12.506159" style="fill: #dc7e33; stroke: #dc7e33"/>
     <use href="#m8cf4e10146" x="820.2672" y="50.84026" style="fill: #dc7e33; stroke: #dc7e33"/>
     <use href="#m8cf4e10146" x="823.548" y="117.216" style="fill: #dc7e33; stroke: #dc7e33"/>
    </g>
   </g>
   <g id="patch_9">
    <path d="M 479.064 232.8 
L 479.064 1.632 
" style="fill: none; stroke: #000000; stroke-width: 0.8; stroke-linejoin: miter; stroke-linecap: square"/>
   </g>
   <g id="patch_10">
    <path d="M 839.952 232.8 
L 839.952 1.632 
" style="fill: none; stroke: #000000; stroke-width: 0.8; stroke-linejoin: miter; stroke-linecap: square"/>
   </g>
   <g id="patch_11">
    <path d="M 479.064 232.8 
L 839.952 232.8 
" style="fill: none; stroke: #000000; stroke-width: 0.8; stroke-linejoin: miter; stroke-linecap: square"/>
   </g>
   <g id="patch_12">
    <path d="M 479.064 1.632 
L 839.952 1.632 
" style="fill: none; stroke: #000000; stroke-width: 0.8; stroke-linejoin: miter; stroke-linecap: square"/>
   </g>
   <g id="text_36" transform="translate(0 0.400)">
    <text style="font-size: 16px; font-family: 'DejaVu Sans', 'Liberation Sans', sans-serif; text-anchor: start" x="442.9752" y="244.3584" transform="rotate(-0 442.9752 244.3584)">b)</text>
   </g>
   <g id="legend_2">
    <g id="patch_13">
     <path d="M 488.864 54.68675 
L 554.86 54.68675 
Q 557.66 54.68675 557.66 51.88675 
L 557.66 11.432 
Q 557.66 8.632 554.86 8.632 
L 488.864 8.632 
Q 486.064 8.632 486.064 11.432 
L 486.064 51.88675 
Q 486.064 54.68675 488.864 54.68675 
z
" style="fill: #ffffff; opacity: 0.8; stroke: #cccccc; stroke-linejoin: miter"/>
    </g>
    <g id="line2d_71">
     <path d="M 491.832 20.137813 
L 505.832 20.137813 
L 519.832 20.137813 
" style="fill: none; stroke: #4a72b1; stroke-width: 1.5; stroke-linecap: square"/>
     <g>
      <use href="#ma4be5afce4" x="505.832" y="20.137813" style="fill: #4a72b1; stroke: #4a72b1"/>
     </g>
    </g>
    <g id="text_37">
     <!-- $f_{\rm car}$ -->
     <g transform="translate(531.032 25.037813)">
      <text>
       <tspan x="0" y="-0.359375" style="font-style: oblique; font-size: 14px; font-family: 'DejaVu Sans', 'Liberation Sans', sans-serif">f</tspan>
       <tspan x="4.928711" y="1.9375" style="font-size: 9.8px; font-family: 'DejaVu Sans', 'Liberation Sans', sans-serif">c</tspan>
       <tspan x="10.316797" y="1.9375" style="font-size: 9.8px; font-family: 'DejaVu Sans', 'Liberation Sans', sans-serif">a</tspan>
       <tspan x="16.322168" y="1.9375" style="font-size: 9.8px; font-family: 'DejaVu Sans', 'Liberation Sans', sans-serif">r</tspan>
      </text>
     </g>
    </g>
    <g id="line2d_72">
     <path d="M 491.832 41.107188 
L 505.832 41.107188 
L 519.832 41.107188 
" style="fill: none; stroke: #dc7e33; stroke-width: 1.5; stroke-linecap: square"/>
     <g>
      <use href="#m8cf4e10146" x="505.832" y="41.107188" style="fill: #dc7e33; stroke: #dc7e33"/>
     </g>
    </g>
    <g id="text_38">
     <!-- $f_{\rm sdf}$ -->
     <g transform="translate(531.032 46.007188)">
      <text>
       <tspan x="0" y="-0.359375" style="font-style: oblique; font-size: 14px; font-family: 'DejaVu Sans', 'Liberation Sans', sans-serif">f</tspan>
       <tspan x="4.928711" y="1.9375" style="font-size: 9.8px; font-family: 'DejaVu Sans', 'Liberation Sans', sans-serif">s</tspan>
       <tspan x="10.034473" y="1.9375" style="font-size: 9.8px; font-family: 'DejaVu Sans', 'Liberation Sans', sans-serif">d</tspan>
       <tspan x="16.255176" y="1.9375" style="font-size: 9.8px; font-family: 'DejaVu Sans', 'Liberation Sans', sans-serif">f</tspan>
      </text>
     </g>
    </g>
   </g>
  </g>
  <g id="axes_3">
   <g id="patch_14">
    <path d="M 57.744 513.888 
L 418.704 513.888 
L 418.704 282.72 
L 57.744 282.72 
z
" style="fill: #ffffff"/>
   </g>
   <g id="matplotlib.axis_5">
    <g id="xtick_15">
     <g id="line2d_73">
      <path d="M 85.385123 513.888 
L 85.385123 282.72 
" clip-path="url(#pc6a4de2c5c)" style="fill: none; stroke: #b0b0b0; stroke-width: 0.8; stroke-linecap: square"/>
     </g>
     <g id="line2d_74">
      <g>
       <use href="#md7fca635d0" x="85.385123" y="513.888" style="stroke: #000000; stroke-width: 0.8"/>
      </g>
     </g>
     <g id="text_39" transform="translate(0 0.400)">
      <text style="font-size: 10px; font-family: 'DejaVu Sans', 'Liberation Sans', sans-serif; text-anchor: middle" x="85.385123" y="528.486437" transform="rotate(-0 85.385123 528.486437)">−1.0</text>
     </g>
    </g>
    <g id="xtick_16">
     <g id="line2d_75">
      <path d="M 158.269592 513.888 
L 158.269592 282.72 
" clip-path="url(#pc6a4de2c5c)" style="fill: none; stroke: #b0b0b0; stroke-width: 0.8; stroke-linecap: square"/>
     </g>
     <g id="line2d_76">
      <g>
       <use href="#md7fca635d0" x="158.269592" y="513.888" style="stroke: #000000; stroke-width: 0.8"/>
      </g>
     </g>
     <g id="text_40" transform="translate(0 0.400)">
      <text style="font-size: 10px; font-family: 'DejaVu Sans', 'Liberation Sans', sans-serif; text-anchor: middle" x="158.269592" y="528.486437" transform="rotate(-0 158.269592 528.486437)">−0.5</text>
     </g>
    </g>
    <g id="xtick_17">
     <g id="line2d_77">
      <path d="M 231.154061 513.888 
L 231.154061 282.72 
" clip-path="url(#pc6a4de2c5c)" style="fill: none; stroke: #b0b0b0; stroke-width: 0.8; stroke-linecap: square"/>
     </g>
     <g id="line2d_78">
      <g>
       <use href="#md7fca635d0" x="231.154061" y="513.888" style="stroke: #000000; stroke-width: 0.8"/>
      </g>
     </g>
     <g id="text_41" transform="translate(0 0.400)">
      <text style="font-size: 10px; font-family: 'DejaVu Sans', 'Liberation Sans', sans-serif; text-anchor: middle" x="231.154061" y="528.486437" transform="rotate(-0 231.154061 528.486437)">0.0</text>
     </g>
    </g>
    <g id="xtick_18">
     <g id="line2d_79">
      <path d="M 304.03853 513.888 
L 304.03853 282.72 
" clip-path="url(#pc6a4de2c5c)" style="fill: none; stroke: #b0b0b0; stroke-width: 0.8; stroke-linecap: square"/>
     </g>
     <g id="line2d_80">
      <g>
       <use href="#md7fca635d0" x="304.03853" y="513.888" style="stroke: #000000; stroke-width: 0.8"/>
      </g>
     </g>
     <g id="text_42" transform="translate(0 0.400)">
      <text style="font-size: 10px; font-family: 'DejaVu Sans', 'Liberation Sans', sans-serif; text-anchor: middle" x="304.03853" y="528.486437" transform="rotate(-0 304.03853 528.486437)">0.5</text>
     </g>
    </g>
    <g id="xtick_19">
     <g id="line2d_81">
      <path d="M 376.922999 513.888 
L 376.922999 282.72 
" clip-path="url(#pc6a4de2c5c)" style="fill: none; stroke: #b0b0b0; stroke-width: 0.8; stroke-linecap: square"/>
     </g>
     <g id="line2d_82">
      <g>
       <use href="#md7fca635d0" x="376.922999" y="513.888" style="stroke: #000000; stroke-width: 0.8"/>
      </g>
     </g>
     <g id="text_43" transform="translate(0 0.400)">
      <text style="font-size: 10px; font-family: 'DejaVu Sans', 'Liberation Sans', sans-serif; text-anchor: middle" x="376.922999" y="528.486437" transform="rotate(-0 376.922999 528.486437)">1.0</text>
     </g>
    </g>
    <g id="text_44" transform="translate(0 0.400)">
     <!-- $\mathrm{Re}\left[\alpha_j(t)\right]$ -->
     <g transform="translate(210.014 545.346125)">
      <text>
       <tspan x="0" y="-0.375" style="font-size: 14px; font-family: 'DejaVu Sans', 'Liberation Sans', sans-serif">R</tspan>
       <tspan x="9.727539" y="-0.375" style="font-size: 14px; font-family: 'DejaVu Sans', 'Liberation Sans', sans-serif">e</tspan>
       <tspan x="35.318762" y="-0.375" style="font-size: 14px; font-family: 'DejaVu Sans', 'Liberation Sans', sans-serif">(</tspan>
       <tspan x="46.269934" y="-0.375" style="font-size: 14px; font-family: 'DejaVu Sans', 'Liberation Sans', sans-serif">)</tspan>
       <tspan x="22.98468" y="-0.375" style="font-style: oblique; font-size: 14px; font-family: 'DejaVu Sans', 'Liberation Sans', sans-serif">α</tspan>
       <tspan x="40.780676" y="-0.375" style="font-style: oblique; font-size: 14px; font-family: 'DejaVu Sans', 'Liberation Sans', sans-serif">t</tspan>
       <tspan x="32.213196" y="1.921875" style="font-style: oblique; font-size: 9.8px; font-family: 'DejaVu Sans', 'Liberation Sans', sans-serif">j</tspan>
      </text><text transform="translate(19.0157 1.7702) scale(1.0991 1.3795)" style="font-size: 12.1604px; font-family: 'DejaVu Sans', 'Liberation Sans', sans-serif; font-weight: 200">[</text><text transform="translate(50.4610 1.7702) scale(1.0991 1.3795)" style="font-size: 12.1604px; font-family: 'DejaVu Sans', 'Liberation Sans', sans-serif; font-weight: 200">]</text>
     </g>
    </g>
   </g>
   <g id="matplotlib.axis_6">
    <g id="ytick_15">
     <g id="line2d_83">
      <path d="M 57.744 489.221759 
L 418.704 489.221759 
" clip-path="url(#pc6a4de2c5c)" style="fill: none; stroke: #b0b0b0; stroke-width: 0.8; stroke-linecap: square"/>
     </g>
     <g id="line2d_84">
      <g>
       <use href="#m0c705e4a82" x="57.744" y="489.221759" style="stroke: #000000; stroke-width: 0.8"/>
      </g>
     </g>
     <g id="text_45" transform="translate(0 0.400)">
      <text style="font-size: 10px; font-family: 'DejaVu Sans', 'Liberation Sans', sans-serif; text-anchor: end" x="50.744" y="493.020978" transform="rotate(-0 50.744 493.020978)">−0.50</text>
     </g>
    </g>
    <g id="ytick_16">
     <g id="line2d_85">
      <path d="M 57.744 461.173481 
L 418.704 461.173481 
" clip-path="url(#pc6a4de2c5c)" style="fill: none; stroke: #b0b0b0; stroke-width: 0.8; stroke-linecap: square"/>
     </g>
     <g id="line2d_86">
      <g>
       <use href="#m0c705e4a82" x="57.744" y="461.173481" style="stroke: #000000; stroke-width: 0.8"/>
      </g>
     </g>
     <g id="text_46" transform="translate(0 0.400)">
      <text style="font-size: 10px; font-family: 'DejaVu Sans', 'Liberation Sans', sans-serif; text-anchor: end" x="50.744" y="464.9727" transform="rotate(-0 50.744 464.9727)">−0.25</text>
     </g>
    </g>
    <g id="ytick_17">
     <g id="line2d_87">
      <path d="M 57.744 433.125203 
L 418.704 433.125203 
" clip-path="url(#pc6a4de2c5c)" style="fill: none; stroke: #b0b0b0; stroke-width: 0.8; stroke-linecap: square"/>
     </g>
     <g id="line2d_88">
      <g>
       <use href="#m0c705e4a82" x="57.744" y="433.125203" style="stroke: #000000; stroke-width: 0.8"/>
      </g>
     </g>
     <g id="text_47" transform="translate(0 0.400)">
      <text style="font-size: 10px; font-family: 'DejaVu Sans', 'Liberation Sans', sans-serif; text-anchor: end" x="50.744" y="436.924422" transform="rotate(-0 50.744 436.924422)">0.00</text>
     </g>
    </g>
    <g id="ytick_18">
     <g id="line2d_89">
      <path d="M 57.744 405.076925 
L 418.704 405.076925 
" clip-path="url(#pc6a4de2c5c)" style="fill: none; stroke: #b0b0b0; stroke-width: 0.8; stroke-linecap: square"/>
     </g>
     <g id="line2d_90">
      <g>
       <use href="#m0c705e4a82" x="57.744" y="405.076925" style="stroke: #000000; stroke-width: 0.8"/>
      </g>
     </g>
     <g id="text_48" transform="translate(0 0.400)">
      <text style="font-size: 10px; font-family: 'DejaVu Sans', 'Liberation Sans', sans-serif; text-anchor: end" x="50.744" y="408.876144" transform="rotate(-0 50.744 408.876144)">0.25</text>
     </g>
    </g>
    <g id="ytick_19">
     <g id="line2d_91">
      <path d="M 57.744 377.028647 
L 418.704 377.028647 
" clip-path="url(#pc6a4de2c5c)" style="fill: none; stroke: #b0b0b0; stroke-width: 0.8; stroke-linecap: square"/>
     </g>
     <g id="line2d_92">
      <g>
       <use href="#m0c705e4a82" x="57.744" y="377.028647" style="stroke: #000000; stroke-width: 0.8"/>
      </g>
     </g>
     <g id="text_49" transform="translate(0 0.400)">
      <text style="font-size: 10px; font-family: 'DejaVu Sans', 'Liberation Sans', sans-serif; text-anchor: end" x="50.744" y="380.827866" transform="rotate(-0 50.744 380.827866)">0.50</text>
     </g>
    </g>
    <g id="ytick_20">
     <g id="line2d_93">
      <path d="M 57.744 348.980369 
L 418.704 348.980369 
" clip-path="url(#pc6a4de2c5c)" style="fill: none; stroke: #b0b0b0; stroke-width: 0.8; stroke-linecap: square"/>
     </g>
     <g id="line2d_94">
      <g>
       <use href="#m0c705e4a82" x="57.744" y="348.980369" style="stroke: #000000; stroke-width: 0.8"/>
      </g>
     </g>
     <g id="text_50" transform="translate(0 0.400)">
      <text style="font-size: 10px; font-family: 'DejaVu Sans', 'Liberation Sans', sans-serif; text-anchor: end" x="50.744" y="352.779588" transform="rotate(-0 50.744 352.779588)">0.75</text>
     </g>
    </g>
    <g id="ytick_21">
     <g id="line2d_95">
      <path d="M 57.744 320.932091 
L 418.704 320.932091 
" clip-path="url(#pc6a4de2c5c)" style="fill: none; stroke: #b0b0b0; stroke-width: 0.8; stroke-linecap: square"/>
     </g>
     <g id="line2d_96">
      <g>
       <use href="#m0c705e4a82" x="57.744" y="320.932091" style="stroke: #000000; stroke-width: 0.8"/>
      </g>
     </g>
     <g id="text_51" transform="translate(0 0.400)">
      <text style="font-size: 10px; font-family: 'DejaVu Sans', 'Liberation Sans', sans-serif; text-anchor: end" x="50.744" y="324.73131" transform="rotate(-0 50.744 324.73131)">1.00</text>
     </g>
    </g>
    <g id="ytick_22">
     <g id="line2d_97">
      <path d="M 57.744 292.883813 
L 418.704 292.883813 
" clip-path="url(#pc6a4de2c5c)" style="fill: none; stroke: #b0b0b0; stroke-width: 0.8; stroke-linecap: square"/>
     </g>
     <g id="line2d_98">
      <g>
       <use href="#m0c705e4a82" x="57.744" y="292.883813" style="stroke: #000000; stroke-width: 0.8"/>
      </g>
     </g>
     <g id="text_52" transform="translate(0 0.400)">
      <text style="font-size: 10px; font-family: 'DejaVu Sans', 'Liberation Sans', sans-serif; text-anchor: end" x="50.744" y="296.683032" transform="rotate(-0 50.744 296.683032)">1.25</text>
     </g>
    </g>
    <g id="text_53">
     <!-- $\mathrm{Im}\left[\alpha_j(t)\right]$ -->
     <g transform="translate(11.758687 426.024) rotate(-90)">
      <text>
       <tspan x="0" y="-0.375" style="font-size: 14px; font-family: 'DejaVu Sans', 'Liberation Sans', sans-serif">I</tspan>
       <tspan x="3.628906" y="-0.375" style="font-size: 14px; font-family: 'DejaVu Sans', 'Liberation Sans', sans-serif">m</tspan>
       <tspan x="34.244543" y="-0.375" style="font-size: 14px; font-family: 'DejaVu Sans', 'Liberation Sans', sans-serif">(</tspan>
       <tspan x="45.195715" y="-0.375" style="font-size: 14px; font-family: 'DejaVu Sans', 'Liberation Sans', sans-serif">)</tspan>
       <tspan x="21.910461" y="-0.375" style="font-style: oblique; font-size: 14px; font-family: 'DejaVu Sans', 'Liberation Sans', sans-serif">α</tspan>
       <tspan x="39.706458" y="-0.375" style="font-style: oblique; font-size: 14px; font-family: 'DejaVu Sans', 'Liberation Sans', sans-serif">t</tspan>
       <tspan x="31.138977" y="1.921875" style="font-style: oblique; font-size: 9.8px; font-family: 'DejaVu Sans', 'Liberation Sans', sans-serif">j</tspan>
      </text><text transform="translate(17.9415 1.7702) scale(1.0991 1.3795)" style="font-size: 12.1604px; font-family: 'DejaVu Sans', 'Liberation Sans', sans-serif; font-weight: 200">[</text><text transform="translate(49.3868 1.7702) scale(1.0991 1.3795)" style="font-size: 12.1604px; font-family: 'DejaVu Sans', 'Liberation Sans', sans-serif; font-weight: 200">]</text>
     </g>
    </g>
   </g>
   <g id="line2d_99">
    <path d="M 231.154061 433.125203 
L 222.237137 433.3493 
L 199.390846 434.684869 
L 171.735771 437.324332 
L 147.892259 440.504505 
L 131.531397 443.323514 
L 121.177653 445.526904 
L 113.545578 447.473981 
L 107.053266 449.408587 
L 102.69838 450.891717 
L 102.291331 451.032299 
L 106.310055 449.251546 
L 113.456369 445.734766 
L 121.964989 441.085793 
L 131.05078 435.583738 
L 141.072704 428.869536 
L 152.518981 420.401709 
L 165.057363 410.169384 
L 177.59817 398.875149 
L 189.131617 387.391486 
L 199.36623 376.089788 
L 208.573452 364.767087 
L 216.956986 353.228104 
L 224.28673 341.863778 
L 230.120548 331.584609 
L 234.265185 323.182872 
L 236.948816 316.816429 
L 238.588148 312.157509 
L 239.483372 309.015079 
L 239.771503 307.733892 
L 239.605385 308.939222 
L 239.279574 312.921115 
L 239.154689 319.333871 
L 239.514115 327.522549 
L 240.548857 337.100032 
L 242.458896 348.144441 
L 245.484869 360.826396 
L 249.78236 374.903815 
L 255.288701 389.648798 
L 261.779908 404.279604 
L 269.08404 418.421019 
L 277.191611 432.107635 
L 286.092932 445.361338 
L 295.504473 457.831211 
L 304.82222 468.889498 
L 313.411456 478.062993 
L 320.943412 485.325054 
L 327.394424 490.952224 
L 332.684439 495.134268 
L 336.360665 497.773282 
L 337.720479 498.667368 
L 336.287481 497.84377 
L 332.132236 495.666131 
L 325.665587 492.617379 
L 317.111483 489.015831 
L 306.247102 484.963444 
L 292.727208 480.538982 
L 276.658087 475.983378 
L 258.779423 471.668736 
L 240.019986 467.910019 
L 220.887022 464.842669 
L 201.354933 462.478786 
L 181.381975 460.833123 
L 161.48157 459.951989 
L 142.693798 459.831092 
L 125.954924 460.356914 
L 111.537412 461.359257 
L 99.171961 462.69511 
L 88.715455 464.231579 
L 80.616345 465.739882 
L 75.642101 466.862812 
L 74.151273 467.253394 
L 75.711318 466.754484 
L 79.496136 465.389264 
L 85.038611 463.130925 
L 92.514611 459.711972 
L 102.247594 454.747281 
L 113.987174 448.10038 
L 126.771956 440.09111 
L 139.545626 431.252228 
L 151.863517 421.842707 
L 163.928166 411.666551 
L 175.936911 400.475214 
L 187.483393 388.569431 
L 197.684688 376.899709 
L 205.8908 366.439057 
L 212.188793 357.434496 
L 217.157172 349.400076 
L 221.171784 341.987117 
L 224.052112 335.846593 
L 225.422332 332.436908 
L 225.333965 332.773493 
L 224.415065 336.369885 
L 223.395508 341.670444 
L 222.61156 347.82938 
L 222.103154 356.088026 
L 222.139669 368.992047 
L 223.369046 387.593002 
L 226.124417 408.936047 
L 229.471424 426.381493 
L 231.154366 433.12491 
" clip-path="url(#pc6a4de2c5c)" style="fill: none; stroke: #4a72b1; stroke-width: 1.5; stroke-linecap: square"/>
    <g clip-path="url(#pc6a4de2c5c)">
     <use href="#ma4be5afce4" x="231.154061" y="433.125203" style="fill: #4a72b1; stroke: #4a72b1"/>
     <use href="#ma4be5afce4" x="222.237137" y="433.3493" style="fill: #4a72b1; stroke: #4a72b1"/>
     <use href="#ma4be5afce4" x="199.390846" y="434.684869" style="fill: #4a72b1; stroke: #4a72b1"/>
     <use href="#ma4be5afce4" x="171.735771" y="437.324332" style="fill: #4a72b1; stroke: #4a72b1"/>
     <use href="#ma4be5afce4" x="147.892259" y="440.504505" style="fill: #4a72b1; stroke: #4a72b1"/>
     <use href="#ma4be5afce4" x="131.531397" y="443.323514" style="fill: #4a72b1; stroke: #4a72b1"/>
     <use href="#ma4be5afce4" x="121.177653" y="445.526904" style="fill: #4a72b1; stroke: #4a72b1"/>
     <use href="#ma4be5afce4" x="113.545578" y="447.473981" style="fill: #4a72b1; stroke: #4a72b1"/>
     <use href="#ma4be5afce4" x="107.053266" y="449.408587" style="fill: #4a72b1; stroke: #4a72b1"/>
     <use href="#ma4be5afce4" x="102.69838" y="450.891717" style="fill: #4a72b1; stroke: #4a72b1"/>
     <use href="#ma4be5afce4" x="102.291331" y="451.032299" style="fill: #4a72b1; stroke: #4a72b1"/>
     <use href="#ma4be5afce4" x="106.310055" y="449.251546" style="fill: #4a72b1; stroke: #4a72b1"/>
     <use href="#ma4be5afce4" x="113.456369" y="445.734766" style="fill: #4a72b1; stroke: #4a72b1"/>
     <use href="#ma4be5afce4" x="121.964989" y="441.085793" style="fill: #4a72b1; stroke: #4a72b1"/>
     <use href="#ma4be5afce4" x="131.05078" y="435.583738" style="fill: #4a72b1; stroke: #4a72b1"/>
     <use href="#ma4be5afce4" x="141.072704" y="428.869536" style="fill: #4a72b1; stroke: #4a72b1"/>
     <use href="#ma4be5afce4" x="152.518981" y="420.401709" style="fill: #4a72b1; stroke: #4a72b1"/>
     <use href="#ma4be5afce4" x="165.057363" y="410.169384" style="fill: #4a72b1; stroke: #4a72b1"/>
     <use href="#ma4be5afce4" x="177.59817" y="398.875149" style="fill: #4a72b1; stroke: #4a72b1"/>
     <use href="#ma4be5afce4" x="189.131617" y="387.391486" style="fill: #4a72b1; stroke: #4a72b1"/>
     <use href="#ma4be5afce4" x="199.36623" y="376.089788" style="fill: #4a72b1; stroke: #4a72b1"/>
     <use href="#ma4be5afce4" x="208.573452" y="364.767087" style="fill: #4a72b1; stroke: #4a72b1"/>
     <use href="#ma4be5afce4" x="216.956986" y="353.228104" style="fill: #4a72b1; stroke: #4a72b1"/>
     <use href="#ma4be5afce4" x="224.28673" y="341.863778" style="fill: #4a72b1; stroke: #4a72b1"/>
     <use href="#ma4be5afce4" x="230.120548" y="331.584609" style="fill: #4a72b1; stroke: #4a72b1"/>
     <use href="#ma4be5afce4" x="234.265185" y="323.182872" style="fill: #4a72b1; stroke: #4a72b1"/>
     <use href="#ma4be5afce4" x="236.948816" y="316.816429" style="fill: #4a72b1; stroke: #4a72b1"/>
     <use href="#ma4be5afce4" x="238.588148" y="312.157509" style="fill: #4a72b1; stroke: #4a72b1"/>
     <use href="#ma4be5afce4" x="239.483372" y="309.015079" style="fill: #4a72b1; stroke: #4a72b1"/>
     <use href="#ma4be5afce4" x="239.771503" y="307.733892" style="fill: #4a72b1; stroke: #4a72b1"/>
     <use href="#ma4be5afce4" x="239.605385" y="308.939222" style="fill: #4a72b1; stroke: #4a72b1"/>
     <use href="#ma4be5afce4" x="239.279574" y="312.921115" style="fill: #4a72b1; stroke: #4a72b1"/>
     <use href="#ma4be5afce4" x="239.154689" y="319.333871" style="fill: #4a72b1; stroke: #4a72b1"/>
     <use href="#ma4be5afce4" x="239.514115" y="327.522549" style="fill: #4a72b1; stroke: #4a72b1"/>
     <use href="#ma4be5afce4" x="240.548857" y="337.100032" style="fill: #4a72b1; stroke: #4a72b1"/>
     <use href="#ma4be5afce4" x="242.458896" y="348.144441" style="fill: #4a72b1; stroke: #4a72b1"/>
     <use href="#ma4be5afce4" x="245.484869" y="360.826396" style="fill: #4a72b1; stroke: #4a72b1"/>
     <use href="#ma4be5afce4" x="249.78236" y="374.903815" style="fill: #4a72b1; stroke: #4a72b1"/>
     <use href="#ma4be5afce4" x="255.288701" y="389.648798" style="fill: #4a72b1; stroke: #4a72b1"/>
     <use href="#ma4be5afce4" x="261.779908" y="404.279604" style="fill: #4a72b1; stroke: #4a72b1"/>
     <use href="#ma4be5afce4" x="269.08404" y="418.421019" style="fill: #4a72b1; stroke: #4a72b1"/>
     <use href="#ma4be5afce4" x="277.191611" y="432.107635" style="fill: #4a72b1; stroke: #4a72b1"/>
     <use href="#ma4be5afce4" x="286.092932" y="445.361338" style="fill: #4a72b1; stroke: #4a72b1"/>
     <use href="#ma4be5afce4" x="295.504473" y="457.831211" style="fill: #4a72b1; stroke: #4a72b1"/>
     <use href="#ma4be5afce4" x="304.82222" y="468.889498" style="fill: #4a72b1; stroke: #4a72b1"/>
     <use href="#ma4be5afce4" x="313.411456" y="478.062993" style="fill: #4a72b1; stroke: #4a72b1"/>
     <use href="#ma4be5afce4" x="320.943412" y="485.325054" style="fill: #4a72b1; stroke: #4a72b1"/>
     <use href="#ma4be5afce4" x="327.394424" y="490.952224" style="fill: #4a72b1; stroke: #4a72b1"/>
     <use href="#ma4be5afce4" x="332.684439" y="495.134268" style="fill: #4a72b1; stroke: #4a72b1"/>
     <use href="#ma4be5afce4" x="336.360665" y="497.773282" style="fill: #4a72b1; stroke: #4a72b1"/>
     <use href="#ma4be5afce4" x="337.720479" y="498.667368" style="fill: #4a72b1; stroke: #4a72b1"/>
     <use href="#ma4be5afce4" x="336.287481" y="497.84377" style="fill: #4a72b1; stroke: #4a72b1"/>
     <use href="#ma4be5afce4" x="332.132236" y="495.666131" style="fill: #4a72b1; stroke: #4a72b1"/>
     <use href="#ma4be5afce4" x="325.665587" y="492.617379" style="fill: #4a72b1; stroke: #4a72b1"/>
     <use href="#ma4be5afce4" x="317.111483" y="489.015831" style="fill: #4a72b1; stroke: #4a72b1"/>
     <use href="#ma4be5afce4" x="306.247102" y="484.963444" style="fill: #4a72b1; stroke: #4a72b1"/>
     <use href="#ma4be5afce4" x="292.727208" y="480.538982" style="fill: #4a72b1; stroke: #4a72b1"/>
     <use href="#ma4be5afce4" x="276.658087" y="475.983378" style="fill: #4a72b1; stroke: #4a72b1"/>
     <use href="#ma4be5afce4" x="258.779423" y="471.668736" style="fill: #4a72b1; stroke: #4a72b1"/>
     <use href="#ma4be5afce4" x="240.019986" y="467.910019" style="fill: #4a72b1; stroke: #4a72b1"/>
     <use href="#ma4be5afce4" x="220.887022" y="464.842669" style="fill: #4a72b1; stroke: #4a72b1"/>
     <use href="#ma4be5afce4" x="201.354933" y="462.478786" style="fill: #4a72b1; stroke: #4a72b1"/>
     <use href="#ma4be5afce4" x="181.381975" y="460.833123" style="fill: #4a72b1; stroke: #4a72b1"/>
     <use href="#ma4be5afce4" x="161.48157" y="459.951989" style="fill: #4a72b1; stroke: #4a72b1"/>
     <use href="#ma4be5afce4" x="142.693798" y="459.831092" style="fill: #4a72b1; stroke: #4a72b1"/>
     <use href="#ma4be5afce4" x="125.954924" y="460.356914" style="fill: #4a72b1; stroke: #4a72b1"/>
     <use href="#ma4be5afce4" x="111.537412" y="461.359257" style="fill: #4a72b1; stroke: #4a72b1"/>
     <use href="#ma4be5afce4" x="99.171961" y="462.69511" style="fill: #4a72b1; stroke: #4a72b1"/>
     <use href="#ma4be5afce4" x="88.715455" y="464.231579" style="fill: #4a72b1; stroke: #4a72b1"/>
     <use href="#ma4be5afce4" x="80.616345" y="465.739882" style="fill: #4a72b1; stroke: #4a72b1"/>
     <use href="#ma4be5afce4" x="75.642101" y="466.862812" style="fill: #4a72b1; stroke: #4a72b1"/>
     <use href="#ma4be5afce4" x="74.151273" y="467.253394" style="fill: #4a72b1; stroke: #4a72b1"/>
     <use href="#ma4be5afce4" x="75.711318" y="466.754484" style="fill: #4a72b1; stroke: #4a72b1"/>
     <use href="#ma4be5afce4" x="79.496136" y="465.389264" style="fill: #4a72b1; stroke: #4a72b1"/>
     <use href="#ma4be5afce4" x="85.038611" y="463.130925" style="fill: #4a72b1; stroke: #4a72b1"/>
     <use href="#ma4be5afce4" x="92.514611" y="459.711972" style="fill: #4a72b1; stroke: #4a72b1"/>
     <use href="#ma4be5afce4" x="102.247594" y="454.747281" style="fill: #4a72b1; stroke: #4a72b1"/>
     <use href="#ma4be5afce4" x="113.987174" y="448.10038" style="fill: #4a72b1; stroke: #4a72b1"/>
     <use href="#ma4be5afce4" x="126.771956" y="440.09111" style="fill: #4a72b1; stroke: #4a72b1"/>
     <use href="#ma4be5afce4" x="139.545626" y="431.252228" style="fill: #4a72b1; stroke: #4a72b1"/>
     <use href="#ma4be5afce4" x="151.863517" y="421.842707" style="fill: #4a72b1; stroke: #4a72b1"/>
     <use href="#ma4be5afce4" x="163.928166" y="411.666551" style="fill: #4a72b1; stroke: #4a72b1"/>
     <use href="#ma4be5afce4" x="175.936911" y="400.475214" style="fill: #4a72b1; stroke: #4a72b1"/>
     <use href="#ma4be5afce4" x="187.483393" y="388.569431" style="fill: #4a72b1; stroke: #4a72b1"/>
     <use href="#ma4be5afce4" x="197.684688" y="376.899709" style="fill: #4a72b1; stroke: #4a72b1"/>
     <use href="#ma4be5afce4" x="205.8908" y="366.439057" style="fill: #4a72b1; stroke: #4a72b1"/>
     <use href="#ma4be5afce4" x="212.188793" y="357.434496" style="fill: #4a72b1; stroke: #4a72b1"/>
     <use href="#ma4be5afce4" x="217.157172" y="349.400076" style="fill: #4a72b1; stroke: #4a72b1"/>
     <use href="#ma4be5afce4" x="221.171784" y="341.987117" style="fill: #4a72b1; stroke: #4a72b1"/>
     <use href="#ma4be5afce4" x="224.052112" y="335.846593" style="fill: #4a72b1; stroke: #4a72b1"/>
     <use href="#ma4be5afce4" x="225.422332" y="332.436908" style="fill: #4a72b1; stroke: #4a72b1"/>
     <use href="#ma4be5afce4" x="225.333965" y="332.773493" style="fill: #4a72b1; stroke: #4a72b1"/>
     <use href="#ma4be5afce4" x="224.415065" y="336.369885" style="fill: #4a72b1; stroke: #4a72b1"/>
     <use href="#ma4be5afce4" x="223.395508" y="341.670444" style="fill: #4a72b1; stroke: #4a72b1"/>
     <use href="#ma4be5afce4" x="222.61156" y="347.82938" style="fill: #4a72b1; stroke: #4a72b1"/>
     <use href="#ma4be5afce4" x="222.103154" y="356.088026" style="fill: #4a72b1; stroke: #4a72b1"/>
     <use href="#ma4be5afce4" x="222.139669" y="368.992047" style="fill: #4a72b1; stroke: #4a72b1"/>
     <use href="#ma4be5afce4" x="223.369046" y="387.593002" style="fill: #4a72b1; stroke: #4a72b1"/>
     <use href="#ma4be5afce4" x="226.124417" y="408.936047" style="fill: #4a72b1; stroke: #4a72b1"/>
     <use href="#ma4be5afce4" x="229.471424" y="426.381493" style="fill: #4a72b1; stroke: #4a72b1"/>
     <use href="#ma4be5afce4" x="231.154366" y="433.12491" style="fill: #4a72b1; stroke: #4a72b1"/>
    </g>
   </g>
   <g id="line2d_100">
    <path d="M 231.154061 433.125203 
L 224.386807 433.419989 
L 207.130636 435.173988 
L 186.442147 438.629407 
L 168.864591 442.772881 
L 157.043354 446.422286 
L 149.757361 449.251365 
L 144.564034 451.72615 
L 140.32125 454.156465 
L 137.605093 455.995754 
L 137.352123 456.170236 
L 139.528719 454.038282 
L 143.089523 449.904737 
L 146.900595 444.554989 
L 150.45088 438.372248 
L 153.723818 431.023206 
L 156.646057 422.016854 
L 158.854583 411.467855 
L 159.952565 400.213086 
L 159.807733 389.187177 
L 158.509889 378.769568 
L 156.132602 368.788483 
L 152.692553 359.100353 
L 148.377117 350.052221 
L 143.695532 342.330128 
L 139.277262 336.410077 
L 135.51157 332.232354 
L 132.472346 329.40859 
L 130.248122 327.664351 
L 129.281329 327.014665 
L 130.266154 327.537621 
L 133.664291 329.069436 
L 139.373036 331.174862 
L 146.934852 333.381524 
L 156.05863 335.379511 
L 166.854505 336.992124 
L 179.509452 338.031563 
L 193.779479 338.264241 
L 208.891574 337.520354 
L 223.982157 335.776198 
L 238.591611 333.090196 
L 252.684698 329.495275 
L 266.216983 325.024739 
L 278.772128 319.862935 
L 289.685007 314.412491 
L 298.49721 309.141208 
L 305.233167 304.350376 
L 310.224771 300.13827 
L 313.731986 296.620603 
L 315.796188 294.147635 
L 316.442235 293.227636 
L 315.935794 294.198053 
L 314.783863 297.000483 
L 313.510234 301.324797 
L 312.491359 306.971633 
L 312.009014 314.020924 
L 312.373523 322.606327 
L 313.901572 332.549747 
L 316.76765 343.280843 
L 320.949004 354.148565 
L 326.363761 364.788641 
L 333.016803 375.153479 
L 340.918511 385.201179 
L 349.833518 394.622326 
L 359.186212 402.920867 
L 368.312865 409.747737 
L 376.824122 415.107792 
L 384.651814 419.231738 
L 391.689759 422.297702 
L 397.442216 424.331428 
L 401.14473 425.363975 
L 402.296727 425.612721 
L 401.029616 425.455644 
L 397.865094 425.253767 
L 393.100946 425.259384 
L 386.519513 425.700298 
L 377.779931 426.868461 
L 367.071312 429.032464 
L 355.271618 432.260703 
L 343.391857 436.416165 
L 331.898578 441.387969 
L 320.658978 447.277746 
L 309.548419 454.238831 
L 299.003466 462.081878 
L 289.873541 470.13125 
L 282.7413 477.617182 
L 277.489317 484.251502 
L 273.580053 490.3046 
L 270.669858 495.979695 
L 268.815041 500.729348 
L 268.075712 503.380364 
L 268.088393 503.119102 
L 268.190425 500.335737 
L 267.90737 496.270939 
L 267.061248 491.615039 
L 265.231712 485.493935 
L 261.323371 476.163877 
L 254.229799 463.110556 
L 244.460421 448.655441 
L 235.184491 437.319515 
L 231.154014 433.125187 
" clip-path="url(#pc6a4de2c5c)" style="fill: none; stroke: #dc7e33; stroke-width: 1.5; stroke-linecap: square"/>
    <g clip-path="url(#pc6a4de2c5c)">
     <use href="#m8cf4e10146" x="231.154061" y="433.125203" style="fill: #dc7e33; stroke: #dc7e33"/>
     <use href="#m8cf4e10146" x="224.386807" y="433.419989" style="fill: #dc7e33; stroke: #dc7e33"/>
     <use href="#m8cf4e10146" x="207.130636" y="435.173988" style="fill: #dc7e33; stroke: #dc7e33"/>
     <use href="#m8cf4e10146" x="186.442147" y="438.629407" style="fill: #dc7e33; stroke: #dc7e33"/>
     <use href="#m8cf4e10146" x="168.864591" y="442.772881" style="fill: #dc7e33; stroke: #dc7e33"/>
     <use href="#m8cf4e10146" x="157.043354" y="446.422286" style="fill: #dc7e33; stroke: #dc7e33"/>
     <use href="#m8cf4e10146" x="149.757361" y="449.251365" style="fill: #dc7e33; stroke: #dc7e33"/>
     <use href="#m8cf4e10146" x="144.564034" y="451.72615" style="fill: #dc7e33; stroke: #dc7e33"/>
     <use href="#m8cf4e10146" x="140.32125" y="454.156465" style="fill: #dc7e33; stroke: #dc7e33"/>
     <use href="#m8cf4e10146" x="137.605093" y="455.995754" style="fill: #dc7e33; stroke: #dc7e33"/>
     <use href="#m8cf4e10146" x="137.352123" y="456.170236" style="fill: #dc7e33; stroke: #dc7e33"/>
     <use href="#m8cf4e10146" x="139.528719" y="454.038282" style="fill: #dc7e33; stroke: #dc7e33"/>
     <use href="#m8cf4e10146" x="143.089523" y="449.904737" style="fill: #dc7e33; stroke: #dc7e33"/>
     <use href="#m8cf4e10146" x="146.900595" y="444.554989" style="fill: #dc7e33; stroke: #dc7e33"/>
     <use href="#m8cf4e10146" x="150.45088" y="438.372248" style="fill: #dc7e33; stroke: #dc7e33"/>
     <use href="#m8cf4e10146" x="153.723818" y="431.023206" style="fill: #dc7e33; stroke: #dc7e33"/>
     <use href="#m8cf4e10146" x="156.646057" y="422.016854" style="fill: #dc7e33; stroke: #dc7e33"/>
     <use href="#m8cf4e10146" x="158.854583" y="411.467855" style="fill: #dc7e33; stroke: #dc7e33"/>
     <use href="#m8cf4e10146" x="159.952565" y="400.213086" style="fill: #dc7e33; stroke: #dc7e33"/>
     <use href="#m8cf4e10146" x="159.807733" y="389.187177" style="fill: #dc7e33; stroke: #dc7e33"/>
     <use href="#m8cf4e10146" x="158.509889" y="378.769568" style="fill: #dc7e33; stroke: #dc7e33"/>
     <use href="#m8cf4e10146" x="156.132602" y="368.788483" style="fill: #dc7e33; stroke: #dc7e33"/>
     <use href="#m8cf4e10146" x="152.692553" y="359.100353" style="fill: #dc7e33; stroke: #dc7e33"/>
     <use href="#m8cf4e10146" x="148.377117" y="350.052221" style="fill: #dc7e33; stroke: #dc7e33"/>
     <use href="#m8cf4e10146" x="143.695532" y="342.330128" style="fill: #dc7e33; stroke: #dc7e33"/>
     <use href="#m8cf4e10146" x="139.277262" y="336.410077" style="fill: #dc7e33; stroke: #dc7e33"/>
     <use href="#m8cf4e10146" x="135.51157" y="332.232354" style="fill: #dc7e33; stroke: #dc7e33"/>
     <use href="#m8cf4e10146" x="132.472346" y="329.40859" style="fill: #dc7e33; stroke: #dc7e33"/>
     <use href="#m8cf4e10146" x="130.248122" y="327.664351" style="fill: #dc7e33; stroke: #dc7e33"/>
     <use href="#m8cf4e10146" x="129.281329" y="327.014665" style="fill: #dc7e33; stroke: #dc7e33"/>
     <use href="#m8cf4e10146" x="130.266154" y="327.537621" style="fill: #dc7e33; stroke: #dc7e33"/>
     <use href="#m8cf4e10146" x="133.664291" y="329.069436" style="fill: #dc7e33; stroke: #dc7e33"/>
     <use href="#m8cf4e10146" x="139.373036" y="331.174862" style="fill: #dc7e33; stroke: #dc7e33"/>
     <use href="#m8cf4e10146" x="146.934852" y="333.381524" style="fill: #dc7e33; stroke: #dc7e33"/>
     <use href="#m8cf4e10146" x="156.05863" y="335.379511" style="fill: #dc7e33; stroke: #dc7e33"/>
     <use href="#m8cf4e10146" x="166.854505" y="336.992124" style="fill: #dc7e33; stroke: #dc7e33"/>
     <use href="#m8cf4e10146" x="179.509452" y="338.031563" style="fill: #dc7e33; stroke: #dc7e33"/>
     <use href="#m8cf4e10146" x="193.779479" y="338.264241" style="fill: #dc7e33; stroke: #dc7e33"/>
     <use href="#m8cf4e10146" x="208.891574" y="337.520354" style="fill: #dc7e33; stroke: #dc7e33"/>
     <use href="#m8cf4e10146" x="223.982157" y="335.776198" style="fill: #dc7e33; stroke: #dc7e33"/>
     <use href="#m8cf4e10146" x="238.591611" y="333.090196" style="fill: #dc7e33; stroke: #dc7e33"/>
     <use href="#m8cf4e10146" x="252.684698" y="329.495275" style="fill: #dc7e33; stroke: #dc7e33"/>
     <use href="#m8cf4e10146" x="266.216983" y="325.024739" style="fill: #dc7e33; stroke: #dc7e33"/>
     <use href="#m8cf4e10146" x="278.772128" y="319.862935" style="fill: #dc7e33; stroke: #dc7e33"/>
     <use href="#m8cf4e10146" x="289.685007" y="314.412491" style="fill: #dc7e33; stroke: #dc7e33"/>
     <use href="#m8cf4e10146" x="298.49721" y="309.141208" style="fill: #dc7e33; stroke: #dc7e33"/>
     <use href="#m8cf4e10146" x="305.233167" y="304.350376" style="fill: #dc7e33; stroke: #dc7e33"/>
     <use href="#m8cf4e10146" x="310.224771" y="300.13827" style="fill: #dc7e33; stroke: #dc7e33"/>
     <use href="#m8cf4e10146" x="313.731986" y="296.620603" style="fill: #dc7e33; stroke: #dc7e33"/>
     <use href="#m8cf4e10146" x="315.796188" y="294.147635" style="fill: #dc7e33; stroke: #dc7e33"/>
     <use href="#m8cf4e10146" x="316.442235" y="293.227636" style="fill: #dc7e33; stroke: #dc7e33"/>
     <use href="#m8cf4e10146" x="315.935794" y="294.198053" style="fill: #dc7e33; stroke: #dc7e33"/>
     <use href="#m8cf4e10146" x="314.783863" y="297.000483" style="fill: #dc7e33; stroke: #dc7e33"/>
     <use href="#m8cf4e10146" x="313.510234" y="301.324797" style="fill: #dc7e33; stroke: #dc7e33"/>
     <use href="#m8cf4e10146" x="312.491359" y="306.971633" style="fill: #dc7e33; stroke: #dc7e33"/>
     <use href="#m8cf4e10146" x="312.009014" y="314.020924" style="fill: #dc7e33; stroke: #dc7e33"/>
     <use href="#m8cf4e10146" x="312.373523" y="322.606327" style="fill: #dc7e33; stroke: #dc7e33"/>
     <use href="#m8cf4e10146" x="313.901572" y="332.549747" style="fill: #dc7e33; stroke: #dc7e33"/>
     <use href="#m8cf4e10146" x="316.76765" y="343.280843" style="fill: #dc7e33; stroke: #dc7e33"/>
     <use href="#m8cf4e10146" x="320.949004" y="354.148565" style="fill: #dc7e33; stroke: #dc7e33"/>
     <use href="#m8cf4e10146" x="326.363761" y="364.788641" style="fill: #dc7e33; stroke: #dc7e33"/>
     <use href="#m8cf4e10146" x="333.016803" y="375.153479" style="fill: #dc7e33; stroke: #dc7e33"/>
     <use href="#m8cf4e10146" x="340.918511" y="385.201179" style="fill: #dc7e33; stroke: #dc7e33"/>
     <use href="#m8cf4e10146" x="349.833518" y="394.622326" style="fill: #dc7e33; stroke: #dc7e33"/>
     <use href="#m8cf4e10146" x="359.186212" y="402.920867" style="fill: #dc7e33; stroke: #dc7e33"/>
     <use href="#m8cf4e10146" x="368.312865" y="409.747737" style="fill: #dc7e33; stroke: #dc7e33"/>
     <use href="#m8cf4e10146" x="376.824122" y="415.107792" style="fill: #dc7e33; stroke: #dc7e33"/>
     <use href="#m8cf4e10146" x="384.651814" y="419.231738" style="fill: #dc7e33; stroke: #dc7e33"/>
     <use href="#m8cf4e10146" x="391.689759" y="422.297702" style="fill: #dc7e33; stroke: #dc7e33"/>
     <use href="#m8cf4e10146" x="397.442216" y="424.331428" style="fill: #dc7e33; stroke: #dc7e33"/>
     <use href="#m8cf4e10146" x="401.14473" y="425.363975" style="fill: #dc7e33; stroke: #dc7e33"/>
     <use href="#m8cf4e10146" x="402.296727" y="425.612721" style="fill: #dc7e33; stroke: #dc7e33"/>
     <use href="#m8cf4e10146" x="401.029616" y="425.455644" style="fill: #dc7e33; stroke: #dc7e33"/>
     <use href="#m8cf4e10146" x="397.865094" y="425.253767" style="fill: #dc7e33; stroke: #dc7e33"/>
     <use href="#m8cf4e10146" x="393.100946" y="425.259384" style="fill: #dc7e33; stroke: #dc7e33"/>
     <use href="#m8cf4e10146" x="386.519513" y="425.700298" style="fill: #dc7e33; stroke: #dc7e33"/>
     <use href="#m8cf4e10146" x="377.779931" y="426.868461" style="fill: #dc7e33; stroke: #dc7e33"/>
     <use href="#m8cf4e10146" x="367.071312" y="429.032464" style="fill: #dc7e33; stroke: #dc7e33"/>
     <use href="#m8cf4e10146" x="355.271618" y="432.260703" style="fill: #dc7e33; stroke: #dc7e33"/>
     <use href="#m8cf4e10146" x="343.391857" y="436.416165" style="fill: #dc7e33; stroke: #dc7e33"/>
     <use href="#m8cf4e10146" x="331.898578" y="441.387969" style="fill: #dc7e33; stroke: #dc7e33"/>
     <use href="#m8cf4e10146" x="320.658978" y="447.277746" style="fill: #dc7e33; stroke: #dc7e33"/>
     <use href="#m8cf4e10146" x="309.548419" y="454.238831" style="fill: #dc7e33; stroke: #dc7e33"/>
     <use href="#m8cf4e10146" x="299.003466" y="462.081878" style="fill: #dc7e33; stroke: #dc7e33"/>
     <use href="#m8cf4e10146" x="289.873541" y="470.13125" style="fill: #dc7e33; stroke: #dc7e33"/>
     <use href="#m8cf4e10146" x="282.7413" y="477.617182" style="fill: #dc7e33; stroke: #dc7e33"/>
     <use href="#m8cf4e10146" x="277.489317" y="484.251502" style="fill: #dc7e33; stroke: #dc7e33"/>
     <use href="#m8cf4e10146" x="273.580053" y="490.3046" style="fill: #dc7e33; stroke: #dc7e33"/>
     <use href="#m8cf4e10146" x="270.669858" y="495.979695" style="fill: #dc7e33; stroke: #dc7e33"/>
     <use href="#m8cf4e10146" x="268.815041" y="500.729348" style="fill: #dc7e33; stroke: #dc7e33"/>
     <use href="#m8cf4e10146" x="268.075712" y="503.380364" style="fill: #dc7e33; stroke: #dc7e33"/>
     <use href="#m8cf4e10146" x="268.088393" y="503.119102" style="fill: #dc7e33; stroke: #dc7e33"/>
     <use href="#m8cf4e10146" x="268.190425" y="500.335737" style="fill: #dc7e33; stroke: #dc7e33"/>
     <use href="#m8cf4e10146" x="267.90737" y="496.270939" style="fill: #dc7e33; stroke: #dc7e33"/>
     <use href="#m8cf4e10146" x="267.061248" y="491.615039" style="fill: #dc7e33; stroke: #dc7e33"/>
     <use href="#m8cf4e10146" x="265.231712" y="485.493935" style="fill: #dc7e33; stroke: #dc7e33"/>
     <use href="#m8cf4e10146" x="261.323371" y="476.163877" style="fill: #dc7e33; stroke: #dc7e33"/>
     <use href="#m8cf4e10146" x="254.229799" y="463.110556" style="fill: #dc7e33; stroke: #dc7e33"/>
     <use href="#m8cf4e10146" x="244.460421" y="448.655441" style="fill: #dc7e33; stroke: #dc7e33"/>
     <use href="#m8cf4e10146" x="235.184491" y="437.319515" style="fill: #dc7e33; stroke: #dc7e33"/>
     <use href="#m8cf4e10146" x="231.154014" y="433.125187" style="fill: #dc7e33; stroke: #dc7e33"/>
    </g>
   </g>
   <g id="line2d_101">
    <g clip-path="url(#pc6a4de2c5c)">
     <use href="#md295d653ba" x="231.154366" y="433.12491" style="fill: #4a72b1; stroke: #4a72b1"/>
    </g>
   </g>
   <g id="line2d_102">
    <g clip-path="url(#pc6a4de2c5c)">
     <use href="#m871f10cff2" x="231.154014" y="433.125187" style="fill: #dc7e33; stroke: #dc7e33"/>
    </g>
   </g>
   <g id="patch_15">
    <path d="M 57.744 513.888 
L 57.744 282.72 
" style="fill: none; stroke: #000000; stroke-width: 0.8; stroke-linejoin: miter; stroke-linecap: square"/>
   </g>
   <g id="patch_16">
    <path d="M 418.704 513.888 
L 418.704 282.72 
" style="fill: none; stroke: #000000; stroke-width: 0.8; stroke-linejoin: miter; stroke-linecap: square"/>
   </g>
   <g id="patch_17">
    <path d="M 57.744 513.888 
L 418.704 513.888 
" style="fill: none; stroke: #000000; stroke-width: 0.8; stroke-linejoin: miter; stroke-linecap: square"/>
   </g>
   <g id="patch_18">
    <path d="M 57.744 282.72 
L 418.704 282.72 
" style="fill: none; stroke: #000000; stroke-width: 0.8; stroke-linejoin: miter; stroke-linecap: square"/>
   </g>
   <g id="text_54" transform="translate(0 0.400)">
    <text style="font-size: 16px; font-family: 'DejaVu Sans', 'Liberation Sans', sans-serif; text-anchor: start" x="21.648" y="525.4464" transform="rotate(-0 21.648 525.4464)">c)</text>
   </g>
   <g id="legend_3">
    <g id="patch_19">
     <path d="M 342.914938 320.07625 
L 411.704 320.07625 
Q 413.704 320.07625 413.704 318.07625 
L 413.704 289.72 
Q 413.704 287.72 411.704 287.72 
L 342.914938 287.72 
Q 340.914938 287.72 340.914938 289.72 
L 340.914938 318.07625 
Q 340.914938 320.07625 342.914938 320.07625 
z
" style="fill: #ffffff; opacity: 0.8; stroke: #cccccc; stroke-linejoin: miter"/>
    </g>
    <g id="line2d_103">
     <g>
      <use href="#md295d653ba" x="354.914938" y="295.818437" style="fill: #4a72b1; stroke: #4a72b1"/>
     </g>
    </g>
    <g id="text_55">
     <text style="font-size: 10px; font-family: 'DejaVu Sans', 'Liberation Sans', sans-serif; text-anchor: start" x="372.914938" y="299.318437" transform="rotate(-0 372.914938 299.318437)">Mode 0</text>
    </g>
    <g id="line2d_104">
     <g>
      <use href="#m871f10cff2" x="354.914938" y="310.496562" style="fill: #dc7e33; stroke: #dc7e33"/>
     </g>
    </g>
    <g id="text_56">
     <text style="font-size: 10px; font-family: 'DejaVu Sans', 'Liberation Sans', sans-serif; text-anchor: start" x="372.914938" y="313.996562" transform="rotate(-0 372.914938 313.996562)">Mode 1</text>
    </g>
   </g>
  </g>
  <g id="axes_4">
   <g id="patch_20">
    <path d="M 479.064 513.888 
L 839.952 513.888 
L 839.952 282.72 
L 479.064 282.72 
z
" style="fill: #ffffff"/>
   </g>
   <g id="matplotlib.axis_7">
    <g id="xtick_20">
     <g id="line2d_105">
      <path d="M 495.468 513.888 
L 495.468 282.72 
" clip-path="url(#p1c295756f9)" style="fill: none; stroke: #b0b0b0; stroke-width: 0.8; stroke-linecap: square"/>
     </g>
     <g id="line2d_106">
      <g>
       <use href="#md7fca635d0" x="495.468" y="513.888" style="stroke: #000000; stroke-width: 0.8"/>
      </g>
     </g>
     <g id="text_57" transform="translate(0 0.400)">
      <text style="font-size: 10px; font-family: 'DejaVu Sans', 'Liberation Sans', sans-serif; text-anchor: middle" x="495.468" y="528.486437" transform="rotate(-0 495.468 528.486437)">0.0</text>
     </g>
    </g>
    <g id="xtick_21">
     <g id="line2d_107">
      <path d="M 537.240443 513.888 
L 537.240443 282.72 
" clip-path="url(#p1c295756f9)" style="fill: none; stroke: #b0b0b0; stroke-width: 0.8; stroke-linecap: square"/>
     </g>
     <g id="line2d_108">
      <g>
       <use href="#md7fca635d0" x="537.240443" y="513.888" style="stroke: #000000; stroke-width: 0.8"/>
      </g>
     </g>
     <g id="text_58" transform="translate(0 0.400)">
      <text style="font-size: 10px; font-family: 'DejaVu Sans', 'Liberation Sans', sans-serif; text-anchor: middle" x="537.240443" y="528.486437" transform="rotate(-0 537.240443 528.486437)">0.1</text>
     </g>
    </g>
    <g id="xtick_22">
     <g id="line2d_109">
      <path d="M 579.012886 513.888 
L 579.012886 282.72 
" clip-path="url(#p1c295756f9)" style="fill: none; stroke: #b0b0b0; stroke-width: 0.8; stroke-linecap: square"/>
     </g>
     <g id="line2d_110">
      <g>
       <use href="#md7fca635d0" x="579.012886" y="513.888" style="stroke: #000000; stroke-width: 0.8"/>
      </g>
     </g>
     <g id="text_59" transform="translate(0 0.400)">
      <text style="font-size: 10px; font-family: 'DejaVu Sans', 'Liberation Sans', sans-serif; text-anchor: middle" x="579.012886" y="528.486437" transform="rotate(-0 579.012886 528.486437)">0.2</text>
     </g>
    </g>
    <g id="xtick_23">
     <g id="line2d_111">
      <path d="M 620.785329 513.888 
L 620.785329 282.72 
" clip-path="url(#p1c295756f9)" style="fill: none; stroke: #b0b0b0; stroke-width: 0.8; stroke-linecap: square"/>
     </g>
     <g id="line2d_112">
      <g>
       <use href="#md7fca635d0" x="620.785329" y="513.888" style="stroke: #000000; stroke-width: 0.8"/>
      </g>
     </g>
     <g id="text_60" transform="translate(0 0.400)">
      <text style="font-size: 10px; font-family: 'DejaVu Sans', 'Liberation Sans', sans-serif; text-anchor: middle" x="620.785329" y="528.486437" transform="rotate(-0 620.785329 528.486437)">0.3</text>
     </g>
    </g>
    <g id="xtick_24">
     <g id="line2d_113">
      <path d="M 662.557772 513.888 
L 662.557772 282.72 
" clip-path="url(#p1c295756f9)" style="fill: none; stroke: #b0b0b0; stroke-width: 0.8; stroke-linecap: square"/>
     </g>
     <g id="line2d_114">
      <g>
       <use href="#md7fca635d0" x="662.557772" y="513.888" style="stroke: #000000; stroke-width: 0.8"/>
      </g>
     </g>
     <g id="text_61" transform="translate(0 0.400)">
      <text style="font-size: 10px; font-family: 'DejaVu Sans', 'Liberation Sans', sans-serif; text-anchor: middle" x="662.557772" y="528.486437" transform="rotate(-0 662.557772 528.486437)">0.4</text>
     </g>
    </g>
    <g id="xtick_25">
     <g id="line2d_115">
      <path d="M 704.330215 513.888 
L 704.330215 282.72 
" clip-path="url(#p1c295756f9)" style="fill: none; stroke: #b0b0b0; stroke-width: 0.8; stroke-linecap: square"/>
     </g>
     <g id="line2d_116">
      <g>
       <use href="#md7fca635d0" x="704.330215" y="513.888" style="stroke: #000000; stroke-width: 0.8"/>
      </g>
     </g>
     <g id="text_62" transform="translate(0 0.400)">
      <text style="font-size: 10px; font-family: 'DejaVu Sans', 'Liberation Sans', sans-serif; text-anchor: middle" x="704.330215" y="528.486437" transform="rotate(-0 704.330215 528.486437)">0.5</text>
     </g>
    </g>
    <g id="xtick_26">
     <g id="line2d_117">
      <path d="M 746.102658 513.888 
L 746.102658 282.72 
" clip-path="url(#p1c295756f9)" style="fill: none; stroke: #b0b0b0; stroke-width: 0.8; stroke-linecap: square"/>
     </g>
     <g id="line2d_118">
      <g>
       <use href="#md7fca635d0" x="746.102658" y="513.888" style="stroke: #000000; stroke-width: 0.8"/>
      </g>
     </g>
     <g id="text_63" transform="translate(0 0.400)">
      <text style="font-size: 10px; font-family: 'DejaVu Sans', 'Liberation Sans', sans-serif; text-anchor: middle" x="746.102658" y="528.486437" transform="rotate(-0 746.102658 528.486437)">0.6</text>
     </g>
    </g>
    <g id="xtick_27">
     <g id="line2d_119">
      <path d="M 787.875101 513.888 
L 787.875101 282.72 
" clip-path="url(#p1c295756f9)" style="fill: none; stroke: #b0b0b0; stroke-width: 0.8; stroke-linecap: square"/>
     </g>
     <g id="line2d_120">
      <g>
       <use href="#md7fca635d0" x="787.875101" y="513.888" style="stroke: #000000; stroke-width: 0.8"/>
      </g>
     </g>
     <g id="text_64" transform="translate(0 0.400)">
      <text style="font-size: 10px; font-family: 'DejaVu Sans', 'Liberation Sans', sans-serif; text-anchor: middle" x="787.875101" y="528.486437" transform="rotate(-0 787.875101 528.486437)">0.7</text>
     </g>
    </g>
    <g id="xtick_28">
     <g id="line2d_121">
      <path d="M 829.647544 513.888 
L 829.647544 282.72 
" clip-path="url(#p1c295756f9)" style="fill: none; stroke: #b0b0b0; stroke-width: 0.8; stroke-linecap: square"/>
     </g>
     <g id="line2d_122">
      <g>
       <use href="#md7fca635d0" x="829.647544" y="513.888" style="stroke: #000000; stroke-width: 0.8"/>
      </g>
     </g>
     <g id="text_65" transform="translate(0 0.400)">
      <text style="font-size: 10px; font-family: 'DejaVu Sans', 'Liberation Sans', sans-serif; text-anchor: middle" x="829.647544" y="528.486437" transform="rotate(-0 829.647544 528.486437)">0.8</text>
     </g>
    </g>
    <g id="text_66" transform="translate(0 0.400)">
     <!-- $t\ (\mu s)$ -->
     <g transform="translate(640.888 545.206125)">
      <text>
       <tspan x="0" y="-0.375" style="font-style: oblique; font-size: 14px; font-family: 'DejaVu Sans', 'Liberation Sans', sans-serif">t</tspan>
       <tspan x="15.497025" y="-0.375" style="font-style: oblique; font-size: 14px; font-family: 'DejaVu Sans', 'Liberation Sans', sans-serif">μ</tspan>
       <tspan x="24.404251" y="-0.375" style="font-style: oblique; font-size: 14px; font-family: 'DejaVu Sans', 'Liberation Sans', sans-serif">s</tspan>
       <tspan x="10.035111" y="-0.375" style="font-size: 14px; font-family: 'DejaVu Sans', 'Liberation Sans', sans-serif">(</tspan>
       <tspan x="31.698197" y="-0.375" style="font-size: 14px; font-family: 'DejaVu Sans', 'Liberation Sans', sans-serif">)</tspan>
      </text>
     </g>
    </g>
   </g>
   <g id="matplotlib.axis_8">
    <g id="ytick_23">
     <g id="line2d_123">
      <path d="M 479.064 503.380364 
L 839.952 503.380364 
" clip-path="url(#p1c295756f9)" style="fill: none; stroke: #b0b0b0; stroke-width: 0.8; stroke-linecap: square"/>
     </g>
     <g id="line2d_124">
      <g>
       <use href="#m0c705e4a82" x="479.064" y="503.380364" style="stroke: #000000; stroke-width: 0.8"/>
      </g>
     </g>
     <g id="text_67" transform="translate(0 0.400)">
      <text style="font-size: 10px; font-family: 'DejaVu Sans', 'Liberation Sans', sans-serif; text-anchor: end" x="472.064" y="507.179582" transform="rotate(-0 472.064 507.179582)">0.0</text>
     </g>
    </g>
    <g id="ytick_24">
     <g id="line2d_125">
      <path d="M 479.064 472.865548 
L 839.952 472.865548 
" clip-path="url(#p1c295756f9)" style="fill: none; stroke: #b0b0b0; stroke-width: 0.8; stroke-linecap: square"/>
     </g>
     <g id="line2d_126">
      <g>
       <use href="#m0c705e4a82" x="479.064" y="472.865548" style="stroke: #000000; stroke-width: 0.8"/>
      </g>
     </g>
     <g id="text_68" transform="translate(0 0.400)">
      <text style="font-size: 10px; font-family: 'DejaVu Sans', 'Liberation Sans', sans-serif; text-anchor: end" x="472.064" y="476.664767" transform="rotate(-0 472.064 476.664767)">0.2</text>
     </g>
    </g>
    <g id="ytick_25">
     <g id="line2d_127">
      <path d="M 479.064 442.350733 
L 839.952 442.350733 
" clip-path="url(#p1c295756f9)" style="fill: none; stroke: #b0b0b0; stroke-width: 0.8; stroke-linecap: square"/>
     </g>
     <g id="line2d_128">
      <g>
       <use href="#m0c705e4a82" x="479.064" y="442.350733" style="stroke: #000000; stroke-width: 0.8"/>
      </g>
     </g>
     <g id="text_69" transform="translate(0 0.400)">
      <text style="font-size: 10px; font-family: 'DejaVu Sans', 'Liberation Sans', sans-serif; text-anchor: end" x="472.064" y="446.149952" transform="rotate(-0 472.064 446.149952)">0.4</text>
     </g>
    </g>
    <g id="ytick_26">
     <g id="line2d_129">
      <path d="M 479.064 411.835918 
L 839.952 411.835918 
" clip-path="url(#p1c295756f9)" style="fill: none; stroke: #b0b0b0; stroke-width: 0.8; stroke-linecap: square"/>
     </g>
     <g id="line2d_130">
      <g>
       <use href="#m0c705e4a82" x="479.064" y="411.835918" style="stroke: #000000; stroke-width: 0.8"/>
      </g>
     </g>
     <g id="text_70" transform="translate(0 0.400)">
      <text style="font-size: 10px; font-family: 'DejaVu Sans', 'Liberation Sans', sans-serif; text-anchor: end" x="472.064" y="415.635136" transform="rotate(-0 472.064 415.635136)">0.6</text>
     </g>
    </g>
    <g id="ytick_27">
     <g id="line2d_131">
      <path d="M 479.064 381.321102 
L 839.952 381.321102 
" clip-path="url(#p1c295756f9)" style="fill: none; stroke: #b0b0b0; stroke-width: 0.8; stroke-linecap: square"/>
     </g>
     <g id="line2d_132">
      <g>
       <use href="#m0c705e4a82" x="479.064" y="381.321102" style="stroke: #000000; stroke-width: 0.8"/>
      </g>
     </g>
     <g id="text_71" transform="translate(0 0.400)">
      <text style="font-size: 10px; font-family: 'DejaVu Sans', 'Liberation Sans', sans-serif; text-anchor: end" x="472.064" y="385.120321" transform="rotate(-0 472.064 385.120321)">0.8</text>
     </g>
    </g>
    <g id="ytick_28">
     <g id="line2d_133">
      <path d="M 479.064 350.806287 
L 839.952 350.806287 
" clip-path="url(#p1c295756f9)" style="fill: none; stroke: #b0b0b0; stroke-width: 0.8; stroke-linecap: square"/>
     </g>
     <g id="line2d_134">
      <g>
       <use href="#m0c705e4a82" x="479.064" y="350.806287" style="stroke: #000000; stroke-width: 0.8"/>
      </g>
     </g>
     <g id="text_72" transform="translate(0 0.400)">
      <text style="font-size: 10px; font-family: 'DejaVu Sans', 'Liberation Sans', sans-serif; text-anchor: end" x="472.064" y="354.605506" transform="rotate(-0 472.064 354.605506)">1.0</text>
     </g>
    </g>
    <g id="ytick_29">
     <g id="line2d_135">
      <path d="M 479.064 320.291472 
L 839.952 320.291472 
" clip-path="url(#p1c295756f9)" style="fill: none; stroke: #b0b0b0; stroke-width: 0.8; stroke-linecap: square"/>
     </g>
     <g id="line2d_136">
      <g>
       <use href="#m0c705e4a82" x="479.064" y="320.291472" style="stroke: #000000; stroke-width: 0.8"/>
      </g>
     </g>
     <g id="text_73" transform="translate(0 0.400)">
      <text style="font-size: 10px; font-family: 'DejaVu Sans', 'Liberation Sans', sans-serif; text-anchor: end" x="472.064" y="324.09069" transform="rotate(-0 472.064 324.09069)">1.2</text>
     </g>
    </g>
    <g id="ytick_30">
     <g id="line2d_137">
      <path d="M 479.064 289.776656 
L 839.952 289.776656 
" clip-path="url(#p1c295756f9)" style="fill: none; stroke: #b0b0b0; stroke-width: 0.8; stroke-linecap: square"/>
     </g>
     <g id="line2d_138">
      <g>
       <use href="#m0c705e4a82" x="479.064" y="289.776656" style="stroke: #000000; stroke-width: 0.8"/>
      </g>
     </g>
     <g id="text_74" transform="translate(0 0.400)">
      <text style="font-size: 10px; font-family: 'DejaVu Sans', 'Liberation Sans', sans-serif; text-anchor: end" x="472.064" y="293.575875" transform="rotate(-0 472.064 293.575875)">1.4</text>
     </g>
    </g>
    <g id="text_75">
     <!-- $|\alpha_j(t)|$ -->
     <g transform="translate(447.820875 417.414) rotate(-90)">
      <text>
       <tspan x="0" y="-0.296875" style="font-size: 14px; font-family: 'DejaVu Sans', 'Liberation Sans', sans-serif">|</tspan>
       <tspan x="17.050879" y="-0.296875" style="font-size: 14px; font-family: 'DejaVu Sans', 'Liberation Sans', sans-serif">(</tspan>
       <tspan x="28.002051" y="-0.296875" style="font-size: 14px; font-family: 'DejaVu Sans', 'Liberation Sans', sans-serif">)</tspan>
       <tspan x="33.463965" y="-0.296875" style="font-size: 14px; font-family: 'DejaVu Sans', 'Liberation Sans', sans-serif">|</tspan>
       <tspan x="4.716797" y="-0.296875" style="font-style: oblique; font-size: 14px; font-family: 'DejaVu Sans', 'Liberation Sans', sans-serif">α</tspan>
       <tspan x="22.512793" y="-0.296875" style="font-style: oblique; font-size: 14px; font-family: 'DejaVu Sans', 'Liberation Sans', sans-serif">t</tspan>
       <tspan x="13.945312" y="2" style="font-style: oblique; font-size: 9.8px; font-family: 'DejaVu Sans', 'Liberation Sans', sans-serif">j</tspan>
      </text>
     </g>
    </g>
   </g>
   <g id="line2d_139">
    <path d="M 495.468 503.380364 
L 498.7488 494.042184 
L 502.0296 470.066712 
L 505.3104 440.926546 
L 508.5912 415.655648 
L 511.872 398.188596 
L 515.1528 387.040821 
L 518.4336 378.744405 
L 521.7144 371.611965 
L 524.9952 366.774179 
L 528.276 366.320983 
L 531.5568 370.880572 
L 534.8376 379.000268 
L 538.1184 388.582271 
L 541.3992 398.550488 
L 544.68 408.916161 
L 547.9608 419.275135 
L 551.2416 427.480587 
L 554.5224 430.498622 
L 557.8032 427.204563 
L 561.084 418.981548 
L 564.3648 407.461109 
L 567.6456 393.714968 
L 570.9264 379.06381 
L 574.2072 365.288661 
L 577.488 353.831719 
L 580.7688 345.093053 
L 584.0496 338.689604 
L 587.3304 334.375046 
L 590.6112 332.619361 
L 593.892 334.265391 
L 597.1728 339.690877 
L 600.4536 348.406413 
L 603.7344 359.502472 
L 607.0152 372.423742 
L 610.296 387.208834 
L 613.5768 403.921892 
L 616.8576 421.838278 
L 620.1384 439.085311 
L 623.4192 452.720885 
L 626.7 458.928032 
L 629.9808 455.173712 
L 633.2616 443.517457 
L 636.5424 428.110958 
L 639.8232 412.215305 
L 643.104 397.798841 
L 646.3848 385.602098 
L 649.6656 375.585612 
L 652.9464 367.717129 
L 656.2272 362.471519 
L 659.508 360.600599 
L 662.7888 362.47152 
L 666.0696 367.717131 
L 669.3504 375.585618 
L 672.6312 385.602111 
L 675.912 397.79887 
L 679.1928 412.215362 
L 682.4736 428.111065 
L 685.7544 443.517652 
L 689.0352 455.174042 
L 692.316 458.928496 
L 695.5968 452.721395 
L 698.8776 439.085804 
L 702.1584 421.838742 
L 705.4392 403.922335 
L 708.72 387.209264 
L 712.0008 372.424164 
L 715.2816 359.50289 
L 718.5624 348.406828 
L 721.8432 339.691293 
L 725.124 334.265806 
L 728.4048 332.619777 
L 731.6856 334.375461 
L 734.9664 338.690018 
L 738.2472 345.093464 
L 741.528 353.832125 
L 744.8088 365.289058 
L 748.0896 379.06419 
L 751.3704 393.71532 
L 754.6512 407.461417 
L 757.932 418.981789 
L 761.2128 427.204705 
L 764.4936 430.498632 
L 767.7744 427.480461 
L 771.0552 419.274905 
L 774.336 408.915868 
L 777.6168 398.550157 
L 780.8976 388.581916 
L 784.1784 378.999897 
L 787.4592 370.880192 
L 790.74 366.320599 
L 794.0208 366.773794 
L 797.3016 371.611584 
L 800.5824 378.744027 
L 803.8632 387.040447 
L 807.144 398.188228 
L 810.4248 415.655286 
L 813.7056 440.926192 
L 816.9864 470.066368 
L 820.2672 494.041853 
L 823.548 503.379853 
" clip-path="url(#p1c295756f9)" style="fill: none; stroke: #4a72b1; stroke-width: 1.5; stroke-linecap: square"/>
    <g clip-path="url(#p1c295756f9)">
     <use href="#ma4be5afce4" x="495.468" y="503.380364" style="fill: #4a72b1; stroke: #4a72b1"/>
     <use href="#ma4be5afce4" x="498.7488" y="494.042184" style="fill: #4a72b1; stroke: #4a72b1"/>
     <use href="#ma4be5afce4" x="502.0296" y="470.066712" style="fill: #4a72b1; stroke: #4a72b1"/>
     <use href="#ma4be5afce4" x="505.3104" y="440.926546" style="fill: #4a72b1; stroke: #4a72b1"/>
     <use href="#ma4be5afce4" x="508.5912" y="415.655648" style="fill: #4a72b1; stroke: #4a72b1"/>
     <use href="#ma4be5afce4" x="511.872" y="398.188596" style="fill: #4a72b1; stroke: #4a72b1"/>
     <use href="#ma4be5afce4" x="515.1528" y="387.040821" style="fill: #4a72b1; stroke: #4a72b1"/>
     <use href="#ma4be5afce4" x="518.4336" y="378.744405" style="fill: #4a72b1; stroke: #4a72b1"/>
     <use href="#ma4be5afce4" x="521.7144" y="371.611965" style="fill: #4a72b1; stroke: #4a72b1"/>
     <use href="#ma4be5afce4" x="524.9952" y="366.774179" style="fill: #4a72b1; stroke: #4a72b1"/>
     <use href="#ma4be5afce4" x="528.276" y="366.320983" style="fill: #4a72b1; stroke: #4a72b1"/>
     <use href="#ma4be5afce4" x="531.5568" y="370.880572" style="fill: #4a72b1; stroke: #4a72b1"/>
     <use href="#ma4be5afce4" x="534.8376" y="379.000268" style="fill: #4a72b1; stroke: #4a72b1"/>
     <use href="#ma4be5afce4" x="538.1184" y="388.582271" style="fill: #4a72b1; stroke: #4a72b1"/>
     <use href="#ma4be5afce4" x="541.3992" y="398.550488" style="fill: #4a72b1; stroke: #4a72b1"/>
     <use href="#ma4be5afce4" x="544.68" y="408.916161" style="fill: #4a72b1; stroke: #4a72b1"/>
     <use href="#ma4be5afce4" x="547.9608" y="419.275135" style="fill: #4a72b1; stroke: #4a72b1"/>
     <use href="#ma4be5afce4" x="551.2416" y="427.480587" style="fill: #4a72b1; stroke: #4a72b1"/>
     <use href="#ma4be5afce4" x="554.5224" y="430.498622" style="fill: #4a72b1; stroke: #4a72b1"/>
     <use href="#ma4be5afce4" x="557.8032" y="427.204563" style="fill: #4a72b1; stroke: #4a72b1"/>
     <use href="#ma4be5afce4" x="561.084" y="418.981548" style="fill: #4a72b1; stroke: #4a72b1"/>
     <use href="#ma4be5afce4" x="564.3648" y="407.461109" style="fill: #4a72b1; stroke: #4a72b1"/>
     <use href="#ma4be5afce4" x="567.6456" y="393.714968" style="fill: #4a72b1; stroke: #4a72b1"/>
     <use href="#ma4be5afce4" x="570.9264" y="379.06381" style="fill: #4a72b1; stroke: #4a72b1"/>
     <use href="#ma4be5afce4" x="574.2072" y="365.288661" style="fill: #4a72b1; stroke: #4a72b1"/>
     <use href="#ma4be5afce4" x="577.488" y="353.831719" style="fill: #4a72b1; stroke: #4a72b1"/>
     <use href="#ma4be5afce4" x="580.7688" y="345.093053" style="fill: #4a72b1; stroke: #4a72b1"/>
     <use href="#ma4be5afce4" x="584.0496" y="338.689604" style="fill: #4a72b1; stroke: #4a72b1"/>
     <use href="#ma4be5afce4" x="587.3304" y="334.375046" style="fill: #4a72b1; stroke: #4a72b1"/>
     <use href="#ma4be5afce4" x="590.6112" y="332.619361" style="fill: #4a72b1; stroke: #4a72b1"/>
     <use href="#ma4be5afce4" x="593.892" y="334.265391" style="fill: #4a72b1; stroke: #4a72b1"/>
     <use href="#ma4be5afce4" x="597.1728" y="339.690877" style="fill: #4a72b1; stroke: #4a72b1"/>
     <use href="#ma4be5afce4" x="600.4536" y="348.406413" style="fill: #4a72b1; stroke: #4a72b1"/>
     <use href="#ma4be5afce4" x="603.7344" y="359.502472" style="fill: #4a72b1; stroke: #4a72b1"/>
     <use href="#ma4be5afce4" x="607.0152" y="372.423742" style="fill: #4a72b1; stroke: #4a72b1"/>
     <use href="#ma4be5afce4" x="610.296" y="387.208834" style="fill: #4a72b1; stroke: #4a72b1"/>
     <use href="#ma4be5afce4" x="613.5768" y="403.921892" style="fill: #4a72b1; stroke: #4a72b1"/>
     <use href="#ma4be5afce4" x="616.8576" y="421.838278" style="fill: #4a72b1; stroke: #4a72b1"/>
     <use href="#ma4be5afce4" x="620.1384" y="439.085311" style="fill: #4a72b1; stroke: #4a72b1"/>
     <use href="#ma4be5afce4" x="623.4192" y="452.720885" style="fill: #4a72b1; stroke: #4a72b1"/>
     <use href="#ma4be5afce4" x="626.7" y="458.928032" style="fill: #4a72b1; stroke: #4a72b1"/>
     <use href="#ma4be5afce4" x="629.9808" y="455.173712" style="fill: #4a72b1; stroke: #4a72b1"/>
     <use href="#ma4be5afce4" x="633.2616" y="443.517457" style="fill: #4a72b1; stroke: #4a72b1"/>
     <use href="#ma4be5afce4" x="636.5424" y="428.110958" style="fill: #4a72b1; stroke: #4a72b1"/>
     <use href="#ma4be5afce4" x="639.8232" y="412.215305" style="fill: #4a72b1; stroke: #4a72b1"/>
     <use href="#ma4be5afce4" x="643.104" y="397.798841" style="fill: #4a72b1; stroke: #4a72b1"/>
     <use href="#ma4be5afce4" x="646.3848" y="385.602098" style="fill: #4a72b1; stroke: #4a72b1"/>
     <use href="#ma4be5afce4" x="649.6656" y="375.585612" style="fill: #4a72b1; stroke: #4a72b1"/>
     <use href="#ma4be5afce4" x="652.9464" y="367.717129" style="fill: #4a72b1; stroke: #4a72b1"/>
     <use href="#ma4be5afce4" x="656.2272" y="362.471519" style="fill: #4a72b1; stroke: #4a72b1"/>
     <use href="#ma4be5afce4" x="659.508" y="360.600599" style="fill: #4a72b1; stroke: #4a72b1"/>
     <use href="#ma4be5afce4" x="662.7888" y="362.47152" style="fill: #4a72b1; stroke: #4a72b1"/>
     <use href="#ma4be5afce4" x="666.0696" y="367.717131" style="fill: #4a72b1; stroke: #4a72b1"/>
     <use href="#ma4be5afce4" x="669.3504" y="375.585618" style="fill: #4a72b1; stroke: #4a72b1"/>
     <use href="#ma4be5afce4" x="672.6312" y="385.602111" style="fill: #4a72b1; stroke: #4a72b1"/>
     <use href="#ma4be5afce4" x="675.912" y="397.79887" style="fill: #4a72b1; stroke: #4a72b1"/>
     <use href="#ma4be5afce4" x="679.1928" y="412.215362" style="fill: #4a72b1; stroke: #4a72b1"/>
     <use href="#ma4be5afce4" x="682.4736" y="428.111065" style="fill: #4a72b1; stroke: #4a72b1"/>
     <use href="#ma4be5afce4" x="685.7544" y="443.517652" style="fill: #4a72b1; stroke: #4a72b1"/>
     <use href="#ma4be5afce4" x="689.0352" y="455.174042" style="fill: #4a72b1; stroke: #4a72b1"/>
     <use href="#ma4be5afce4" x="692.316" y="458.928496" style="fill: #4a72b1; stroke: #4a72b1"/>
     <use href="#ma4be5afce4" x="695.5968" y="452.721395" style="fill: #4a72b1; stroke: #4a72b1"/>
     <use href="#ma4be5afce4" x="698.8776" y="439.085804" style="fill: #4a72b1; stroke: #4a72b1"/>
     <use href="#ma4be5afce4" x="702.1584" y="421.838742" style="fill: #4a72b1; stroke: #4a72b1"/>
     <use href="#ma4be5afce4" x="705.4392" y="403.922335" style="fill: #4a72b1; stroke: #4a72b1"/>
     <use href="#ma4be5afce4" x="708.72" y="387.209264" style="fill: #4a72b1; stroke: #4a72b1"/>
     <use href="#ma4be5afce4" x="712.0008" y="372.424164" style="fill: #4a72b1; stroke: #4a72b1"/>
     <use href="#ma4be5afce4" x="715.2816" y="359.50289" style="fill: #4a72b1; stroke: #4a72b1"/>
     <use href="#ma4be5afce4" x="718.5624" y="348.406828" style="fill: #4a72b1; stroke: #4a72b1"/>
     <use href="#ma4be5afce4" x="721.8432" y="339.691293" style="fill: #4a72b1; stroke: #4a72b1"/>
     <use href="#ma4be5afce4" x="725.124" y="334.265806" style="fill: #4a72b1; stroke: #4a72b1"/>
     <use href="#ma4be5afce4" x="728.4048" y="332.619777" style="fill: #4a72b1; stroke: #4a72b1"/>
     <use href="#ma4be5afce4" x="731.6856" y="334.375461" style="fill: #4a72b1; stroke: #4a72b1"/>
     <use href="#ma4be5afce4" x="734.9664" y="338.690018" style="fill: #4a72b1; stroke: #4a72b1"/>
     <use href="#ma4be5afce4" x="738.2472" y="345.093464" style="fill: #4a72b1; stroke: #4a72b1"/>
     <use href="#ma4be5afce4" x="741.528" y="353.832125" style="fill: #4a72b1; stroke: #4a72b1"/>
     <use href="#ma4be5afce4" x="744.8088" y="365.289058" style="fill: #4a72b1; stroke: #4a72b1"/>
     <use href="#ma4be5afce4" x="748.0896" y="379.06419" style="fill: #4a72b1; stroke: #4a72b1"/>
     <use href="#ma4be5afce4" x="751.3704" y="393.71532" style="fill: #4a72b1; stroke: #4a72b1"/>
     <use href="#ma4be5afce4" x="754.6512" y="407.461417" style="fill: #4a72b1; stroke: #4a72b1"/>
     <use href="#ma4be5afce4" x="757.932" y="418.981789" style="fill: #4a72b1; stroke: #4a72b1"/>
     <use href="#ma4be5afce4" x="761.2128" y="427.204705" style="fill: #4a72b1; stroke: #4a72b1"/>
     <use href="#ma4be5afce4" x="764.4936" y="430.498632" style="fill: #4a72b1; stroke: #4a72b1"/>
     <use href="#ma4be5afce4" x="767.7744" y="427.480461" style="fill: #4a72b1; stroke: #4a72b1"/>
     <use href="#ma4be5afce4" x="771.0552" y="419.274905" style="fill: #4a72b1; stroke: #4a72b1"/>
     <use href="#ma4be5afce4" x="774.336" y="408.915868" style="fill: #4a72b1; stroke: #4a72b1"/>
     <use href="#ma4be5afce4" x="777.6168" y="398.550157" style="fill: #4a72b1; stroke: #4a72b1"/>
     <use href="#ma4be5afce4" x="780.8976" y="388.581916" style="fill: #4a72b1; stroke: #4a72b1"/>
     <use href="#ma4be5afce4" x="784.1784" y="378.999897" style="fill: #4a72b1; stroke: #4a72b1"/>
     <use href="#ma4be5afce4" x="787.4592" y="370.880192" style="fill: #4a72b1; stroke: #4a72b1"/>
     <use href="#ma4be5afce4" x="790.74" y="366.320599" style="fill: #4a72b1; stroke: #4a72b1"/>
     <use href="#ma4be5afce4" x="794.0208" y="366.773794" style="fill: #4a72b1; stroke: #4a72b1"/>
     <use href="#ma4be5afce4" x="797.3016" y="371.611584" style="fill: #4a72b1; stroke: #4a72b1"/>
     <use href="#ma4be5afce4" x="800.5824" y="378.744027" style="fill: #4a72b1; stroke: #4a72b1"/>
     <use href="#ma4be5afce4" x="803.8632" y="387.040447" style="fill: #4a72b1; stroke: #4a72b1"/>
     <use href="#ma4be5afce4" x="807.144" y="398.188228" style="fill: #4a72b1; stroke: #4a72b1"/>
     <use href="#ma4be5afce4" x="810.4248" y="415.655286" style="fill: #4a72b1; stroke: #4a72b1"/>
     <use href="#ma4be5afce4" x="813.7056" y="440.926192" style="fill: #4a72b1; stroke: #4a72b1"/>
     <use href="#ma4be5afce4" x="816.9864" y="470.066368" style="fill: #4a72b1; stroke: #4a72b1"/>
     <use href="#ma4be5afce4" x="820.2672" y="494.041853" style="fill: #4a72b1; stroke: #4a72b1"/>
     <use href="#ma4be5afce4" x="823.548" y="503.379853" style="fill: #4a72b1; stroke: #4a72b1"/>
    </g>
   </g>
   <g id="line2d_140">
    <path d="M 495.468 503.380364 
L 498.7488 496.285849 
L 502.0296 478.081528 
L 505.3104 455.986263 
L 508.5912 436.875924 
L 511.872 423.729993 
L 515.1528 415.406443 
L 518.4336 409.284036 
L 521.7144 404.098228 
L 524.9952 400.643132 
L 528.276 400.318841 
L 531.5568 403.349393 
L 534.8376 408.422078 
L 538.1184 413.834204 
L 541.3992 418.608752 
L 544.68 422.284938 
L 547.9608 423.944352 
L 551.2416 422.176261 
L 554.5224 416.447485 
L 557.8032 407.740346 
L 561.084 397.335581 
L 564.3648 385.817543 
L 567.6456 373.463082 
L 570.9264 361.00901 
L 574.2072 349.673615 
L 577.488 340.448539 
L 580.7688 333.535851 
L 584.0496 328.558441 
L 587.3304 325.268572 
L 590.6112 323.956855 
L 593.892 325.140952 
L 597.1728 328.918738 
L 600.4536 334.706176 
L 603.7344 341.609455 
L 607.0152 348.953502 
L 610.296 356.34037 
L 613.5768 363.217256 
L 616.8576 368.575783 
L 620.1384 371.293449 
L 623.4192 370.780485 
L 626.7 367.117827 
L 629.9808 360.661101 
L 633.2616 351.860258 
L 636.5424 341.489124 
L 639.8232 330.706805 
L 643.104 320.63097 
L 646.3848 311.85895 
L 649.6656 304.490848 
L 652.9464 298.608941 
L 656.2272 294.647502 
L 659.508 293.227636 
L 662.7888 294.647502 
L 666.0696 298.608941 
L 669.3504 304.490848 
L 672.6312 311.858952 
L 675.912 320.630973 
L 679.1928 330.706809 
L 682.4736 341.48913 
L 685.7544 351.860268 
L 689.0352 360.661116 
L 692.316 367.117847 
L 695.5968 370.78051 
L 698.8776 371.29348 
L 702.1584 368.575819 
L 705.4392 363.217296 
L 708.72 356.340413 
L 712.0008 348.953546 
L 715.2816 341.6095 
L 718.5624 334.706222 
L 721.8432 328.918785 
L 725.124 325.140999 
L 728.4048 323.956902 
L 731.6856 325.268619 
L 734.9664 328.558488 
L 738.2472 333.535898 
L 741.528 340.448586 
L 744.8088 349.673662 
L 748.0896 361.009058 
L 751.3704 373.463131 
L 754.6512 385.817593 
L 757.932 397.335631 
L 761.2128 407.740398 
L 764.4936 416.447538 
L 767.7744 422.176314 
L 771.0552 423.944404 
L 774.336 422.284988 
L 777.6168 418.608798 
L 780.8976 413.834248 
L 784.1784 408.42212 
L 787.4592 403.349433 
L 790.74 400.31888 
L 794.0208 400.643172 
L 797.3016 404.098268 
L 800.5824 409.284077 
L 803.8632 415.406484 
L 807.144 423.730035 
L 810.4248 436.875967 
L 813.7056 455.986308 
L 816.9864 478.081574 
L 820.2672 496.285896 
L 823.548 503.38031 
" clip-path="url(#p1c295756f9)" style="fill: none; stroke: #dc7e33; stroke-width: 1.5; stroke-linecap: square"/>
    <g clip-path="url(#p1c295756f9)">
     <use href="#m8cf4e10146" x="495.468" y="503.380364" style="fill: #dc7e33; stroke: #dc7e33"/>
     <use href="#m8cf4e10146" x="498.7488" y="496.285849" style="fill: #dc7e33; stroke: #dc7e33"/>
     <use href="#m8cf4e10146" x="502.0296" y="478.081528" style="fill: #dc7e33; stroke: #dc7e33"/>
     <use href="#m8cf4e10146" x="505.3104" y="455.986263" style="fill: #dc7e33; stroke: #dc7e33"/>
     <use href="#m8cf4e10146" x="508.5912" y="436.875924" style="fill: #dc7e33; stroke: #dc7e33"/>
     <use href="#m8cf4e10146" x="511.872" y="423.729993" style="fill: #dc7e33; stroke: #dc7e33"/>
     <use href="#m8cf4e10146" x="515.1528" y="415.406443" style="fill: #dc7e33; stroke: #dc7e33"/>
     <use href="#m8cf4e10146" x="518.4336" y="409.284036" style="fill: #dc7e33; stroke: #dc7e33"/>
     <use href="#m8cf4e10146" x="521.7144" y="404.098228" style="fill: #dc7e33; stroke: #dc7e33"/>
     <use href="#m8cf4e10146" x="524.9952" y="400.643132" style="fill: #dc7e33; stroke: #dc7e33"/>
     <use href="#m8cf4e10146" x="528.276" y="400.318841" style="fill: #dc7e33; stroke: #dc7e33"/>
     <use href="#m8cf4e10146" x="531.5568" y="403.349393" style="fill: #dc7e33; stroke: #dc7e33"/>
     <use href="#m8cf4e10146" x="534.8376" y="408.422078" style="fill: #dc7e33; stroke: #dc7e33"/>
     <use href="#m8cf4e10146" x="538.1184" y="413.834204" style="fill: #dc7e33; stroke: #dc7e33"/>
     <use href="#m8cf4e10146" x="541.3992" y="418.608752" style="fill: #dc7e33; stroke: #dc7e33"/>
     <use href="#m8cf4e10146" x="544.68" y="422.284938" style="fill: #dc7e33; stroke: #dc7e33"/>
     <use href="#m8cf4e10146" x="547.9608" y="423.944352" style="fill: #dc7e33; stroke: #dc7e33"/>
     <use href="#m8cf4e10146" x="551.2416" y="422.176261" style="fill: #dc7e33; stroke: #dc7e33"/>
     <use href="#m8cf4e10146" x="554.5224" y="416.447485" style="fill: #dc7e33; stroke: #dc7e33"/>
     <use href="#m8cf4e10146" x="557.8032" y="407.740346" style="fill: #dc7e33; stroke: #dc7e33"/>
     <use href="#m8cf4e10146" x="561.084" y="397.335581" style="fill: #dc7e33; stroke: #dc7e33"/>
     <use href="#m8cf4e10146" x="564.3648" y="385.817543" style="fill: #dc7e33; stroke: #dc7e33"/>
     <use href="#m8cf4e10146" x="567.6456" y="373.463082" style="fill: #dc7e33; stroke: #dc7e33"/>
     <use href="#m8cf4e10146" x="570.9264" y="361.00901" style="fill: #dc7e33; stroke: #dc7e33"/>
     <use href="#m8cf4e10146" x="574.2072" y="349.673615" style="fill: #dc7e33; stroke: #dc7e33"/>
     <use href="#m8cf4e10146" x="577.488" y="340.448539" style="fill: #dc7e33; stroke: #dc7e33"/>
     <use href="#m8cf4e10146" x="580.7688" y="333.535851" style="fill: #dc7e33; stroke: #dc7e33"/>
     <use href="#m8cf4e10146" x="584.0496" y="328.558441" style="fill: #dc7e33; stroke: #dc7e33"/>
     <use href="#m8cf4e10146" x="587.3304" y="325.268572" style="fill: #dc7e33; stroke: #dc7e33"/>
     <use href="#m8cf4e10146" x="590.6112" y="323.956855" style="fill: #dc7e33; stroke: #dc7e33"/>
     <use href="#m8cf4e10146" x="593.892" y="325.140952" style="fill: #dc7e33; stroke: #dc7e33"/>
     <use href="#m8cf4e10146" x="597.1728" y="328.918738" style="fill: #dc7e33; stroke: #dc7e33"/>
     <use href="#m8cf4e10146" x="600.4536" y="334.706176" style="fill: #dc7e33; stroke: #dc7e33"/>
     <use href="#m8cf4e10146" x="603.7344" y="341.609455" style="fill: #dc7e33; stroke: #dc7e33"/>
     <use href="#m8cf4e10146" x="607.0152" y="348.953502" style="fill: #dc7e33; stroke: #dc7e33"/>
     <use href="#m8cf4e10146" x="610.296" y="356.34037" style="fill: #dc7e33; stroke: #dc7e33"/>
     <use href="#m8cf4e10146" x="613.5768" y="363.217256" style="fill: #dc7e33; stroke: #dc7e33"/>
     <use href="#m8cf4e10146" x="616.8576" y="368.575783" style="fill: #dc7e33; stroke: #dc7e33"/>
     <use href="#m8cf4e10146" x="620.1384" y="371.293449" style="fill: #dc7e33; stroke: #dc7e33"/>
     <use href="#m8cf4e10146" x="623.4192" y="370.780485" style="fill: #dc7e33; stroke: #dc7e33"/>
     <use href="#m8cf4e10146" x="626.7" y="367.117827" style="fill: #dc7e33; stroke: #dc7e33"/>
     <use href="#m8cf4e10146" x="629.9808" y="360.661101" style="fill: #dc7e33; stroke: #dc7e33"/>
     <use href="#m8cf4e10146" x="633.2616" y="351.860258" style="fill: #dc7e33; stroke: #dc7e33"/>
     <use href="#m8cf4e10146" x="636.5424" y="341.489124" style="fill: #dc7e33; stroke: #dc7e33"/>
     <use href="#m8cf4e10146" x="639.8232" y="330.706805" style="fill: #dc7e33; stroke: #dc7e33"/>
     <use href="#m8cf4e10146" x="643.104" y="320.63097" style="fill: #dc7e33; stroke: #dc7e33"/>
     <use href="#m8cf4e10146" x="646.3848" y="311.85895" style="fill: #dc7e33; stroke: #dc7e33"/>
     <use href="#m8cf4e10146" x="649.6656" y="304.490848" style="fill: #dc7e33; stroke: #dc7e33"/>
     <use href="#m8cf4e10146" x="652.9464" y="298.608941" style="fill: #dc7e33; stroke: #dc7e33"/>
     <use href="#m8cf4e10146" x="656.2272" y="294.647502" style="fill: #dc7e33; stroke: #dc7e33"/>
     <use href="#m8cf4e10146" x="659.508" y="293.227636" style="fill: #dc7e33; stroke: #dc7e33"/>
     <use href="#m8cf4e10146" x="662.7888" y="294.647502" style="fill: #dc7e33; stroke: #dc7e33"/>
     <use href="#m8cf4e10146" x="666.0696" y="298.608941" style="fill: #dc7e33; stroke: #dc7e33"/>
     <use href="#m8cf4e10146" x="669.3504" y="304.490848" style="fill: #dc7e33; stroke: #dc7e33"/>
     <use href="#m8cf4e10146" x="672.6312" y="311.858952" style="fill: #dc7e33; stroke: #dc7e33"/>
     <use href="#m8cf4e10146" x="675.912" y="320.630973" style="fill: #dc7e33; stroke: #dc7e33"/>
     <use href="#m8cf4e10146" x="679.1928" y="330.706809" style="fill: #dc7e33; stroke: #dc7e33"/>
     <use href="#m8cf4e10146" x="682.4736" y="341.48913" style="fill: #dc7e33; stroke: #dc7e33"/>
     <use href="#m8cf4e10146" x="685.7544" y="351.860268" style="fill: #dc7e33; stroke: #dc7e33"/>
     <use href="#m8cf4e10146" x="689.0352" y="360.661116" style="fill: #dc7e33; stroke: #dc7e33"/>
     <use href="#m8cf4e10146" x="692.316" y="367.117847" style="fill: #dc7e33; stroke: #dc7e33"/>
     <use href="#m8cf4e10146" x="695.5968" y="370.78051" style="fill: #dc7e33; stroke: #dc7e33"/>
     <use href="#m8cf4e10146" x="698.8776" y="371.29348" style="fill: #dc7e33; stroke: #dc7e33"/>
     <use href="#m8cf4e10146" x="702.1584" y="368.575819" style="fill: #dc7e33; stroke: #dc7e33"/>
     <use href="#m8cf4e10146" x="705.4392" y="363.217296" style="fill: #dc7e33; stroke: #dc7e33"/>
     <use href="#m8cf4e10146" x="708.72" y="356.340413" style="fill: #dc7e33; stroke: #dc7e33"/>
     <use href="#m8cf4e10146" x="712.0008" y="348.953546" style="fill: #dc7e33; stroke: #dc7e33"/>
     <use href="#m8cf4e10146" x="715.2816" y="341.6095" style="fill: #dc7e33; stroke: #dc7e33"/>
     <use href="#m8cf4e10146" x="718.5624" y="334.706222" style="fill: #dc7e33; stroke: #dc7e33"/>
     <use href="#m8cf4e10146" x="721.8432" y="328.918785" style="fill: #dc7e33; stroke: #dc7e33"/>
     <use href="#m8cf4e10146" x="725.124" y="325.140999" style="fill: #dc7e33; stroke: #dc7e33"/>
     <use href="#m8cf4e10146" x="728.4048" y="323.956902" style="fill: #dc7e33; stroke: #dc7e33"/>
     <use href="#m8cf4e10146" x="731.6856" y="325.268619" style="fill: #dc7e33; stroke: #dc7e33"/>
     <use href="#m8cf4e10146" x="734.9664" y="328.558488" style="fill: #dc7e33; stroke: #dc7e33"/>
     <use href="#m8cf4e10146" x="738.2472" y="333.535898" style="fill: #dc7e33; stroke: #dc7e33"/>
     <use href="#m8cf4e10146" x="741.528" y="340.448586" style="fill: #dc7e33; stroke: #dc7e33"/>
     <use href="#m8cf4e10146" x="744.8088" y="349.673662" style="fill: #dc7e33; stroke: #dc7e33"/>
     <use href="#m8cf4e10146" x="748.0896" y="361.009058" style="fill: #dc7e33; stroke: #dc7e33"/>
     <use href="#m8cf4e10146" x="751.3704" y="373.463131" style="fill: #dc7e33; stroke: #dc7e33"/>
     <use href="#m8cf4e10146" x="754.6512" y="385.817593" style="fill: #dc7e33; stroke: #dc7e33"/>
     <use href="#m8cf4e10146" x="757.932" y="397.335631" style="fill: #dc7e33; stroke: #dc7e33"/>
     <use href="#m8cf4e10146" x="761.2128" y="407.740398" style="fill: #dc7e33; stroke: #dc7e33"/>
     <use href="#m8cf4e10146" x="764.4936" y="416.447538" style="fill: #dc7e33; stroke: #dc7e33"/>
     <use href="#m8cf4e10146" x="767.7744" y="422.176314" style="fill: #dc7e33; stroke: #dc7e33"/>
     <use href="#m8cf4e10146" x="771.0552" y="423.944404" style="fill: #dc7e33; stroke: #dc7e33"/>
     <use href="#m8cf4e10146" x="774.336" y="422.284988" style="fill: #dc7e33; stroke: #dc7e33"/>
     <use href="#m8cf4e10146" x="777.6168" y="418.608798" style="fill: #dc7e33; stroke: #dc7e33"/>
     <use href="#m8cf4e10146" x="780.8976" y="413.834248" style="fill: #dc7e33; stroke: #dc7e33"/>
     <use href="#m8cf4e10146" x="784.1784" y="408.42212" style="fill: #dc7e33; stroke: #dc7e33"/>
     <use href="#m8cf4e10146" x="787.4592" y="403.349433" style="fill: #dc7e33; stroke: #dc7e33"/>
     <use href="#m8cf4e10146" x="790.74" y="400.31888" style="fill: #dc7e33; stroke: #dc7e33"/>
     <use href="#m8cf4e10146" x="794.0208" y="400.643172" style="fill: #dc7e33; stroke: #dc7e33"/>
     <use href="#m8cf4e10146" x="797.3016" y="404.098268" style="fill: #dc7e33; stroke: #dc7e33"/>
     <use href="#m8cf4e10146" x="800.5824" y="409.284077" style="fill: #dc7e33; stroke: #dc7e33"/>
     <use href="#m8cf4e10146" x="803.8632" y="415.406484" style="fill: #dc7e33; stroke: #dc7e33"/>
     <use href="#m8cf4e10146" x="807.144" y="423.730035" style="fill: #dc7e33; stroke: #dc7e33"/>
     <use href="#m8cf4e10146" x="810.4248" y="436.875967" style="fill: #dc7e33; stroke: #dc7e33"/>
     <use href="#m8cf4e10146" x="813.7056" y="455.986308" style="fill: #dc7e33; stroke: #dc7e33"/>
     <use href="#m8cf4e10146" x="816.9864" y="478.081574" style="fill: #dc7e33; stroke: #dc7e33"/>
     <use href="#m8cf4e10146" x="820.2672" y="496.285896" style="fill: #dc7e33; stroke: #dc7e33"/>
     <use href="#m8cf4e10146" x="823.548" y="503.38031" style="fill: #dc7e33; stroke: #dc7e33"/>
    </g>
   </g>
   <g id="line2d_141">
    <g clip-path="url(#p1c295756f9)">
     <use href="#md295d653ba" x="823.548" y="503.379853" style="fill: #4a72b1; stroke: #4a72b1"/>
    </g>
   </g>
   <g id="line2d_142">
    <g clip-path="url(#p1c295756f9)">
     <use href="#m871f10cff2" x="823.548" y="503.38031" style="fill: #dc7e33; stroke: #dc7e33"/>
    </g>
   </g>
   <g id="patch_21">
    <path d="M 479.064 513.888 
L 479.064 282.72 
" style="fill: none; stroke: #000000; stroke-width: 0.8; stroke-linejoin: miter; stroke-linecap: square"/>
   </g>
   <g id="patch_22">
    <path d="M 839.952 513.888 
L 839.952 282.72 
" style="fill: none; stroke: #000000; stroke-width: 0.8; stroke-linejoin: miter; stroke-linecap: square"/>
   </g>
   <g id="patch_23">
    <path d="M 479.064 513.888 
L 839.952 513.888 
" style="fill: none; stroke: #000000; stroke-width: 0.8; stroke-linejoin: miter; stroke-linecap: square"/>
   </g>
   <g id="patch_24">
    <path d="M 479.064 282.72 
L 839.952 282.72 
" style="fill: none; stroke: #000000; stroke-width: 0.8; stroke-linejoin: miter; stroke-linecap: square"/>
   </g>
   <g id="text_76" transform="translate(0 0.400)">
    <text style="font-size: 16px; font-family: 'DejaVu Sans', 'Liberation Sans', sans-serif; text-anchor: start" x="442.9752" y="525.4464" transform="rotate(-0 442.9752 525.4464)">d)</text>
   </g>
   <g id="legend_4">
    <g id="patch_25">
     <path d="M 764.162937 320.07625 
L 832.952 320.07625 
Q 834.952 320.07625 834.952 318.07625 
L 834.952 289.72 
Q 834.952 287.72 832.952 287.72 
L 764.162937 287.72 
Q 762.162937 287.72 762.162937 289.72 
L 762.162937 318.07625 
Q 762.162937 320.07625 764.162937 320.07625 
z
" style="fill: #ffffff; opacity: 0.8; stroke: #cccccc; stroke-linejoin: miter"/>
    </g>
    <g id="line2d_143">
     <g>
      <use href="#md295d653ba" x="776.162937" y="295.818437" style="fill: #4a72b1; stroke: #4a72b1"/>
     </g>
    </g>
    <g id="text_77">
     <text style="font-size: 10px; font-family: 'DejaVu Sans', 'Liberation Sans', sans-serif; text-anchor: start" x="794.162937" y="299.318437" transform="rotate(-0 794.162937 299.318437)">Mode 0</text>
    </g>
    <g id="line2d_144">
     <g>
      <use href="#m871f10cff2" x="776.162937" y="310.496562" style="fill: #dc7e33; stroke: #dc7e33"/>
     </g>
    </g>
    <g id="text_78">
     <text style="font-size: 10px; font-family: 'DejaVu Sans', 'Liberation Sans', sans-serif; text-anchor: start" x="794.162937" y="313.996562" transform="rotate(-0 794.162937 313.996562)">Mode 1</text>
    </g>
   </g>
  </g>
 </g>
 <defs>
  <clipPath id="pc98c73546f">
   <rect x="57.744" y="1.632" width="360.96" height="231.168"/>
  </clipPath>
  <clipPath id="pc8b9ed1a81">
   <rect x="479.064" y="1.632" width="360.888" height="231.168"/>
  </clipPath>
  <clipPath id="pc6a4de2c5c">
   <rect x="57.744" y="282.72" width="360.96" height="231.168"/>
  </clipPath>
  <clipPath id="p1c295756f9">
   <rect x="479.064" y="282.72" width="360.888" height="231.168"/>
  </clipPath>
 </defs>
</svg>

</body></html>
